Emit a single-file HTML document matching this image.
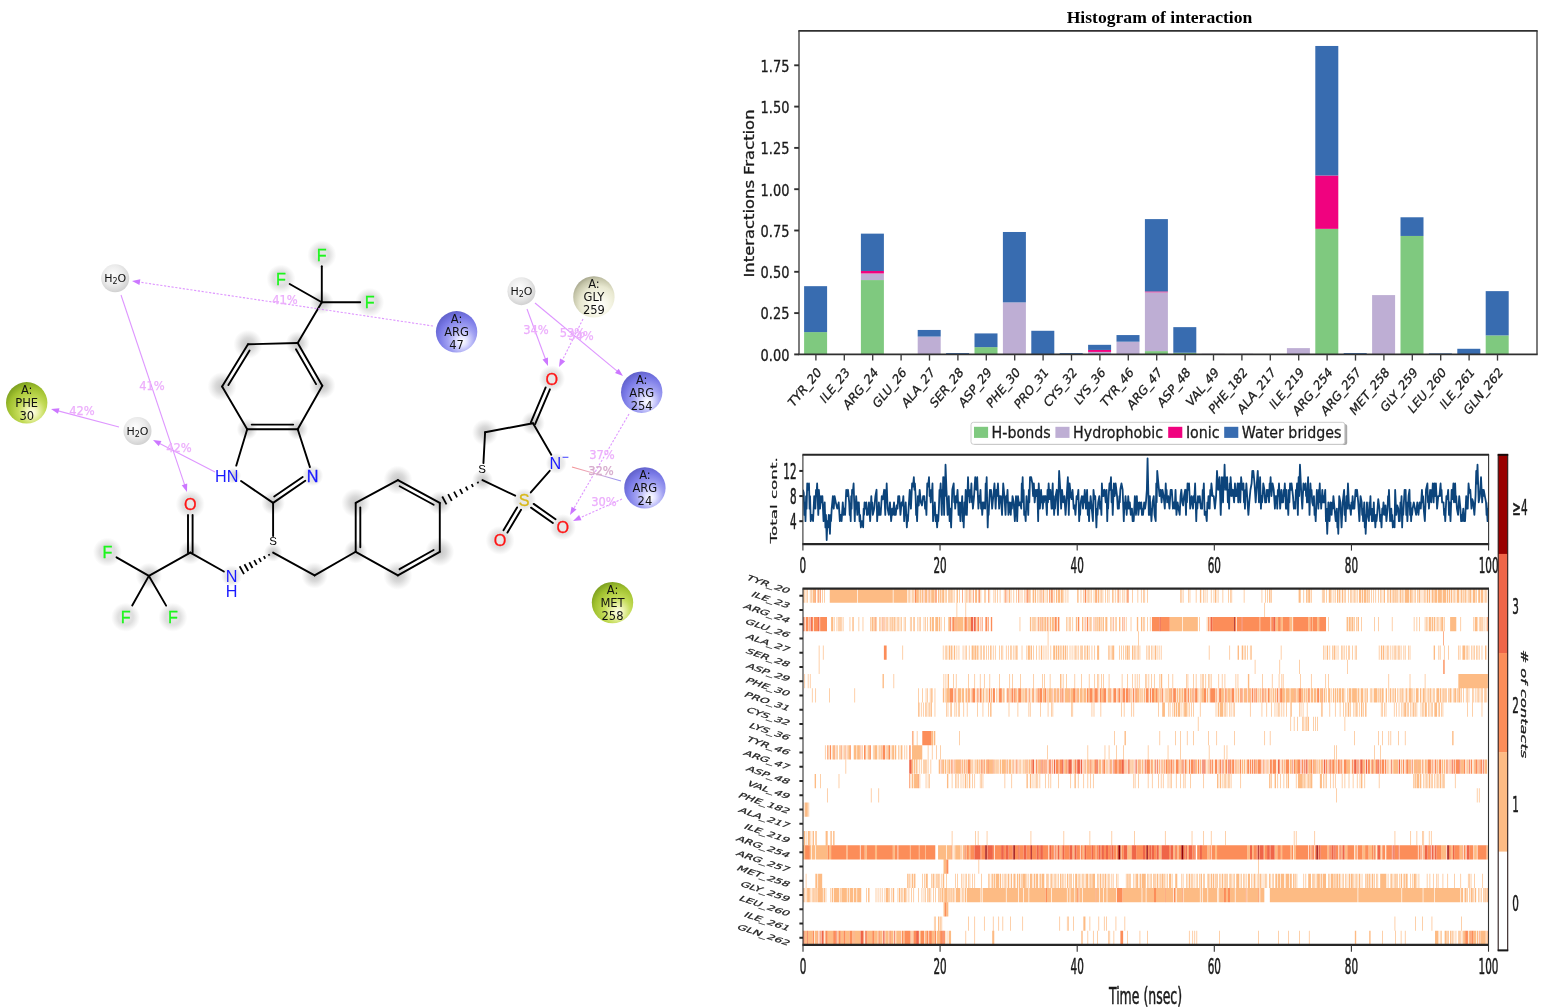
<!DOCTYPE html>
<html lang="en"><head><meta charset="utf-8"><title>Histogram of interaction</title>
<style>html,body{margin:0;padding:0;background:#fff}body{width:1545px;height:1007px}svg{display:block}.ns text{vector-effect:non-scaling-stroke}</style>
</head><body>
<svg width="1545" height="1007" viewBox="0 0 1545 1007">
<defs>
<radialGradient id="gB" cx="0.6" cy="0.66" r="0.72" fx="0.64" fy="0.74">
<stop offset="0" stop-color="#ffffff"/><stop offset="0.18" stop-color="#e0e0ff"/><stop offset="0.45" stop-color="#a2a2f2"/><stop offset="0.75" stop-color="#7878e6"/><stop offset="1" stop-color="#5c5cc4"/></radialGradient>
<radialGradient id="gG" cx="0.6" cy="0.66" r="0.72" fx="0.64" fy="0.74">
<stop offset="0" stop-color="#ffffec"/><stop offset="0.18" stop-color="#eef4b4"/><stop offset="0.45" stop-color="#c4dc58"/><stop offset="0.75" stop-color="#a2c230"/><stop offset="1" stop-color="#74981c"/></radialGradient>
<radialGradient id="gY" cx="0.6" cy="0.66" r="0.72" fx="0.64" fy="0.74">
<stop offset="0" stop-color="#ffffff"/><stop offset="0.3" stop-color="#f8f8ea"/><stop offset="0.62" stop-color="#e8e8d0"/><stop offset="0.85" stop-color="#c4c4a8"/><stop offset="1" stop-color="#9c9c84"/></radialGradient>
<radialGradient id="gW" cx="0.45" cy="0.42" r="0.72" fx="0.42" fy="0.36">
<stop offset="0" stop-color="#fdfdfd"/><stop offset="0.5" stop-color="#ebebeb"/><stop offset="0.85" stop-color="#cfcfcf"/><stop offset="1" stop-color="#ababab"/></radialGradient>
<radialGradient id="halo"><stop offset="0" stop-color="#6c6c6c" stop-opacity="0.4"/><stop offset="0.45" stop-color="#7c7c7c" stop-opacity="0.29"/><stop offset="1" stop-color="#909090" stop-opacity="0"/></radialGradient>
<radialGradient id="halo2"><stop offset="0" stop-color="#fff" stop-opacity="0.6"/><stop offset="0.5" stop-color="#fff" stop-opacity="0.45"/><stop offset="1" stop-color="#fff" stop-opacity="0"/></radialGradient>
<linearGradient id="salt" gradientUnits="userSpaceOnUse" x1="572" y1="467" x2="621" y2="481"><stop offset="0" stop-color="#f49090"/><stop offset="0.45" stop-color="#e6b0cc"/><stop offset="1" stop-color="#9090f4"/></linearGradient>
<filter id="blur1" x="-50%" y="-50%" width="200%" height="200%"><feGaussianBlur stdDeviation="1.2"/></filter>

</defs>
<rect width="1545" height="1007" fill="#fff"/>
<g id="mol">
<g>
<circle cx="248" cy="344.3" r="14.52" fill="url(#halo)"/>
<circle cx="297.7" cy="343" r="11.88" fill="url(#halo)"/>
<circle cx="322.3" cy="385.7" r="13.2" fill="url(#halo)"/>
<circle cx="297.7" cy="429.2" r="10.56" fill="url(#halo)"/>
<circle cx="247.2" cy="429.2" r="10.56" fill="url(#halo)"/>
<circle cx="222.1" cy="386.5" r="14.52" fill="url(#halo)"/>
<circle cx="321.8" cy="302.3" r="11.88" fill="url(#halo)"/>
<circle cx="321.8" cy="255" r="14.52" fill="url(#halo)"/>
<circle cx="281" cy="279" r="14.52" fill="url(#halo)"/>
<circle cx="369.7" cy="302.3" r="14.52" fill="url(#halo)"/>
<circle cx="312.7" cy="475.7" r="10.56" fill="url(#halo)"/>
<circle cx="233.2" cy="475.7" r="7.92" fill="url(#halo)"/>
<circle cx="273.1" cy="502.9" r="11.88" fill="url(#halo)"/>
<circle cx="273.1" cy="552.6" r="9.24" fill="url(#halo)"/>
<circle cx="231.7" cy="575.9" r="10.56" fill="url(#halo)"/>
<circle cx="190.3" cy="552.6" r="11.88" fill="url(#halo)"/>
<circle cx="190.3" cy="504.2" r="14.52" fill="url(#halo)"/>
<circle cx="148.9" cy="575.9" r="13.2" fill="url(#halo)"/>
<circle cx="107.4" cy="552.1" r="14.52" fill="url(#halo)"/>
<circle cx="125.6" cy="617.3" r="14.52" fill="url(#halo)"/>
<circle cx="172.9" cy="617.3" r="14.52" fill="url(#halo)"/>
<circle cx="314.6" cy="575.4" r="13.2" fill="url(#halo)"/>
<circle cx="355.7" cy="551.8" r="11.88" fill="url(#halo)"/>
<circle cx="355.7" cy="502.9" r="14.52" fill="url(#halo)"/>
<circle cx="397.9" cy="480.1" r="14.52" fill="url(#halo)"/>
<circle cx="439.8" cy="502.9" r="11.88" fill="url(#halo)"/>
<circle cx="439.8" cy="551.8" r="14.52" fill="url(#halo)"/>
<circle cx="397.9" cy="575.4" r="14.52" fill="url(#halo)"/>
<circle cx="482.5" cy="480.1" r="10.56" fill="url(#halo)"/>
<circle cx="485.1" cy="432.3" r="13.2" fill="url(#halo)"/>
<circle cx="533" cy="423.2" r="11.88" fill="url(#halo)"/>
<circle cx="556.3" cy="463.3" r="10.56" fill="url(#halo)"/>
<circle cx="524.2" cy="500" r="11.88" fill="url(#halo)"/>
<circle cx="551.9" cy="378.7" r="13.2" fill="url(#halo)"/>
<circle cx="500.1" cy="540.4" r="14.52" fill="url(#halo)"/>
<circle cx="562.8" cy="527.2" r="13.2" fill="url(#halo)"/>
<circle cx="227.2" cy="475.7" r="8" fill="url(#halo2)"/>
<circle cx="312.7" cy="475.7" r="8" fill="url(#halo2)"/>
<circle cx="321.8" cy="255" r="8" fill="url(#halo2)"/>
<circle cx="281" cy="279" r="8" fill="url(#halo2)"/>
<circle cx="369.7" cy="302.3" r="8" fill="url(#halo2)"/>
<circle cx="107.4" cy="552.1" r="8" fill="url(#halo2)"/>
<circle cx="125.6" cy="617.3" r="8" fill="url(#halo2)"/>
<circle cx="172.9" cy="617.3" r="8" fill="url(#halo2)"/>
<circle cx="190.3" cy="504.2" r="8" fill="url(#halo2)"/>
<circle cx="551.9" cy="378.7" r="8" fill="url(#halo2)"/>
<circle cx="500.1" cy="540.4" r="8" fill="url(#halo2)"/>
<circle cx="562.8" cy="527.2" r="8" fill="url(#halo2)"/>
<circle cx="231.7" cy="575.9" r="8" fill="url(#halo2)"/>
<circle cx="556.3" cy="463.3" r="8" fill="url(#halo2)"/>
<circle cx="524.2" cy="500" r="8" fill="url(#halo2)"/>
</g>
<g stroke="#000" stroke-width="1.9" stroke-linecap="round" fill="none">
<line x1="248" y1="344.3" x2="297.7" y2="343"/>
<line x1="297.7" y1="343" x2="322.3" y2="385.7"/>
<line x1="295.96" y1="349.2" x2="316.07" y2="384.1"/>
<line x1="322.3" y1="385.7" x2="297.7" y2="429.2"/>
<line x1="297.7" y1="429.2" x2="247.2" y2="429.2"/>
<line x1="293.2" y1="424.6" x2="251.7" y2="424.6"/>
<line x1="247.2" y1="429.2" x2="222.1" y2="386.5"/>
<line x1="222.1" y1="386.5" x2="248" y2="344.3"/>
<line x1="228.37" y1="385.07" x2="249.57" y2="350.54"/>
<line x1="247.2" y1="429.2" x2="236.23" y2="465.65"/>
<line x1="241.05" y1="481.05" x2="273.1" y2="502.9"/>
<line x1="273.1" y1="502.9" x2="305.28" y2="480.8"/>
<line x1="274.2" y1="496.56" x2="302.68" y2="477"/>
<line x1="309.94" y1="467.13" x2="297.7" y2="429.2"/>
<line x1="297.7" y1="343" x2="321.8" y2="302.3"/>
<line x1="321.8" y1="302.3" x2="321.8" y2="266.2"/>
<line x1="321.8" y1="302.3" x2="289.68" y2="283.96"/>
<line x1="321.8" y1="302.3" x2="360.2" y2="302.3"/>
<line x1="273.1" y1="502.9" x2="273.1" y2="536.1"/>
<line x1="269.53" y1="555.64" x2="268.64" y2="554.08" stroke-width="1.75" stroke-linecap="butt"/>
<line x1="265.28" y1="558.72" x2="263.8" y2="556.11" stroke-width="1.75" stroke-linecap="butt"/>
<line x1="261.02" y1="561.81" x2="258.96" y2="558.15" stroke-width="1.75" stroke-linecap="butt"/>
<line x1="256.77" y1="564.89" x2="254.13" y2="560.18" stroke-width="1.75" stroke-linecap="butt"/>
<line x1="252.52" y1="567.97" x2="249.29" y2="562.22" stroke-width="1.75" stroke-linecap="butt"/>
<line x1="248.27" y1="571.05" x2="244.45" y2="564.25" stroke-width="1.75" stroke-linecap="butt"/>
<line x1="244.02" y1="574.13" x2="239.61" y2="566.29" stroke-width="1.75" stroke-linecap="butt"/>
<line x1="223.86" y1="571.49" x2="190.3" y2="552.6"/>
<line x1="188" y1="552.6" x2="188" y2="515"/>
<line x1="192.6" y1="552.6" x2="192.6" y2="515"/>
<line x1="190.3" y1="552.6" x2="148.9" y2="575.9"/>
<line x1="148.9" y1="575.9" x2="116.51" y2="557.32"/>
<line x1="148.9" y1="575.9" x2="132.22" y2="605.54"/>
<line x1="148.9" y1="575.9" x2="166.13" y2="605.62"/>
<line x1="273.1" y1="552.6" x2="314.6" y2="575.4"/>
<line x1="314.6" y1="575.4" x2="355.7" y2="551.8"/>
<line x1="355.7" y1="551.8" x2="355.7" y2="502.9"/>
<line x1="360.3" y1="547.3" x2="360.3" y2="507.4"/>
<line x1="355.7" y1="502.9" x2="397.9" y2="480.1"/>
<line x1="397.9" y1="480.1" x2="439.8" y2="502.9"/>
<line x1="399.65" y1="486.29" x2="433.65" y2="504.79"/>
<line x1="439.8" y1="502.9" x2="439.8" y2="551.8"/>
<line x1="439.8" y1="551.8" x2="397.9" y2="575.4"/>
<line x1="433.62" y1="550" x2="399.56" y2="569.18"/>
<line x1="397.9" y1="575.4" x2="355.7" y2="551.8"/>
<line x1="478.36" y1="483.33" x2="477.51" y2="481.74" stroke-width="1.75" stroke-linecap="butt"/>
<line x1="473.05" y1="486.85" x2="471.64" y2="484.2" stroke-width="1.75" stroke-linecap="butt"/>
<line x1="467.74" y1="490.36" x2="465.76" y2="486.66" stroke-width="1.75" stroke-linecap="butt"/>
<line x1="462.42" y1="493.88" x2="459.88" y2="489.12" stroke-width="1.75" stroke-linecap="butt"/>
<line x1="457.11" y1="497.4" x2="454" y2="491.58" stroke-width="1.75" stroke-linecap="butt"/>
<line x1="451.8" y1="500.92" x2="448.12" y2="494.04" stroke-width="1.75" stroke-linecap="butt"/>
<line x1="446.48" y1="504.43" x2="442.24" y2="496.49" stroke-width="1.75" stroke-linecap="butt"/>
<line x1="483.42" y1="463.13" x2="485.1" y2="432.3"/>
<line x1="485.1" y1="432.3" x2="533" y2="423.2"/>
<line x1="533" y1="423.2" x2="551.28" y2="454.65"/>
<line x1="549.72" y1="470.83" x2="530.78" y2="492.47"/>
<line x1="515.17" y1="495.69" x2="482.5" y2="480.1"/>
<line x1="530.88" y1="422.3" x2="545.68" y2="387.47"/>
<line x1="535.12" y1="424.1" x2="549.91" y2="389.26"/>
<line x1="521.05" y1="509.77" x2="507.45" y2="532.56"/>
<line x1="517.1" y1="507.41" x2="503.5" y2="530.2"/>
<line x1="533.7" y1="503.88" x2="555.54" y2="519.27"/>
<line x1="531.05" y1="507.64" x2="552.89" y2="523.03"/>
</g>
<g font-family="'Liberation Sans',Arial,sans-serif" font-size="16.2" text-anchor="middle" stroke-width="0.3">
<text x="226.7" y="481.7" fill="#1a1aff">HN</text>
<text x="312.7" y="481.5" fill="#1a1aff" stroke="#1a1aff">N</text>
<text x="321.8" y="260.8" fill="#1cf51c" stroke="#1cf51c">F</text>
<text x="281" y="284.8" fill="#1cf51c" stroke="#1cf51c">F</text>
<text x="369.7" y="308.1" fill="#1cf51c" stroke="#1cf51c">F</text>
<text x="107.4" y="557.9" fill="#1cf51c" stroke="#1cf51c">F</text>
<text x="125.6" y="623.1" fill="#1cf51c" stroke="#1cf51c">F</text>
<text x="172.9" y="623.1" fill="#1cf51c" stroke="#1cf51c">F</text>
<text x="190.3" y="510" fill="#ff1414" stroke="#ff1414">O</text>
<text x="551.9" y="384.5" fill="#ff1414" stroke="#ff1414">O</text>
<text x="500.1" y="546.2" fill="#ff1414" stroke="#ff1414">O</text>
<text x="562.8" y="533" fill="#ff1414" stroke="#ff1414">O</text>
<text x="231.7" y="581.9" fill="#1a1aff">N</text>
<text x="231.7" y="596.9" fill="#1a1aff">H</text>
<text x="555.3" y="469.3" fill="#1a1aff">N</text>
<text x="565.3" y="461.3" fill="#1a1aff" font-size="12">−</text>
<text x="524.2" y="505.8" fill="#d8b818" stroke="#d8b818">S</text>
<text x="273.1" y="545.2" fill="#000" font-size="11.5" stroke="none">S</text>
<text x="482" y="473.2" fill="#000" font-size="11.5" stroke="none">S</text>
</g>
<g>
<line x1="433" y1="326" x2="138.33" y2="281.95" stroke="#de96ff" stroke-width="1.1" stroke-dasharray="2.2 1.6"/>
<polygon points="132,281 140.34,279.31 139.48,285.05" fill="#cc77ff"/>
<line x1="121" y1="295" x2="184.97" y2="485.93" stroke="#de96ff" stroke-width="1.1"/>
<polygon points="187,492 181.71,485.34 187.21,483.49" fill="#cc77ff"/>
<line x1="215" y1="472" x2="158.69" y2="442.94" stroke="#de96ff" stroke-width="1.1"/>
<polygon points="153,440 161.44,441.09 158.78,446.25" fill="#cc77ff"/>
<line x1="119" y1="427" x2="57.19" y2="410.64" stroke="#de96ff" stroke-width="1.1"/>
<polygon points="51,409 59.48,408.24 57.99,413.85" fill="#cc77ff"/>
<line x1="527" y1="309" x2="545.79" y2="359.99" stroke="#de96ff" stroke-width="1.1"/>
<polygon points="548,366 542.51,359.5 547.96,357.49" fill="#cc77ff"/>
<line x1="583" y1="319" x2="561.86" y2="361.28" stroke="#de96ff" stroke-width="1.1" stroke-dasharray="2.2 1.6"/>
<polygon points="559,367 559.98,358.55 565.17,361.14" fill="#cc77ff"/>
<line x1="535" y1="303" x2="618.07" y2="371.91" stroke="#de96ff" stroke-width="1.1"/>
<polygon points="623,376 614.99,373.12 618.69,368.66" fill="#cc77ff"/>
<line x1="629" y1="414" x2="573.23" y2="509.47" stroke="#de96ff" stroke-width="1.1" stroke-dasharray="2.2 1.6"/>
<polygon points="570,515 571.53,506.63 576.54,509.56" fill="#cc77ff"/>
<line x1="622" y1="499" x2="578.84" y2="518.38" stroke="#de96ff" stroke-width="1.1" stroke-dasharray="2.2 1.6"/>
<polygon points="573,521 579.11,515.08 581.49,520.37" fill="#cc77ff"/>
<line x1="572" y1="467" x2="621" y2="481" stroke="url(#salt)" stroke-width="1.1"/>
</g>
<g font-family="'DejaVu Sans',sans-serif" font-size="11.5" fill="#ecaefc" stroke="#ecaefc" stroke-width="0.25" text-anchor="middle">
<text x="285" y="304">41%</text>
<text x="152" y="390">41%</text>
<text x="179" y="452">42%</text>
<text x="82" y="415">42%</text>
<text x="536" y="334">34%</text>
<text x="572.5" y="337">53%</text>
<text x="581" y="340">34%</text>
<text x="602" y="459">37%</text>
<text x="601" y="475" fill="#d6aacc" stroke="#d6aacc">32%</text>
<text x="604" y="506">30%</text>
</g>
<g font-family="'DejaVu Sans',sans-serif" font-size="11.5" fill="#111" text-anchor="middle">
<circle cx="26.7" cy="402.8" r="20.7" fill="url(#gG)"/>
<text x="26.7" y="394.1">A:</text>
<text x="26.7" y="407.1">PHE</text>
<text x="26.7" y="420.1">30</text>
<circle cx="456.6" cy="331.8" r="20.7" fill="url(#gB)"/>
<text x="456.6" y="323.1">A:</text>
<text x="456.6" y="336.1">ARG</text>
<text x="456.6" y="349.1">47</text>
<circle cx="593.9" cy="296.9" r="20.7" fill="url(#gY)"/>
<text x="593.9" y="288.2">A:</text>
<text x="593.9" y="301.2">GLY</text>
<text x="593.9" y="314.2">259</text>
<circle cx="641.7" cy="392.2" r="20.7" fill="url(#gB)"/>
<text x="641.7" y="383.5">A:</text>
<text x="641.7" y="396.5">ARG</text>
<text x="641.7" y="409.5">254</text>
<circle cx="644.9" cy="487.9" r="20.7" fill="url(#gB)"/>
<text x="644.9" y="479.2">A:</text>
<text x="644.9" y="492.2">ARG</text>
<text x="644.9" y="505.2">24</text>
<circle cx="612.5" cy="602.6" r="20.7" fill="url(#gG)"/>
<text x="612.5" y="593.9">A:</text>
<text x="612.5" y="606.9">MET</text>
<text x="612.5" y="619.9">258</text>
<circle cx="115.2" cy="278.3" r="14" fill="url(#gW)"/>
<text x="115.2" y="282.3" font-size="11">H<tspan font-size="8" dy="2">2</tspan><tspan dy="-2">O</tspan></text>
<circle cx="137.5" cy="431" r="14" fill="url(#gW)"/>
<text x="137.5" y="435" font-size="11">H<tspan font-size="8" dy="2">2</tspan><tspan dy="-2">O</tspan></text>
<circle cx="521.4" cy="291.2" r="14" fill="url(#gW)"/>
<text x="521.4" y="295.2" font-size="11">H<tspan font-size="8" dy="2">2</tspan><tspan dy="-2">O</tspan></text>
</g>
</g>
<g id="bar">
<g shape-rendering="crispEdges">
<rect x="804.1" y="332.1" width="23" height="22.3" fill="#7fc97f" shape-rendering="auto"/>
<rect x="804.1" y="286.17" width="23" height="45.93" fill="#386cb0" shape-rendering="auto"/>
<rect x="860.9" y="280.06" width="23" height="74.34" fill="#7fc97f" shape-rendering="auto"/>
<rect x="860.9" y="273.45" width="23" height="6.61" fill="#beaed4" shape-rendering="auto"/>
<rect x="860.9" y="270.97" width="23" height="2.48" fill="#f0027f" shape-rendering="auto"/>
<rect x="860.9" y="233.64" width="23" height="37.34" fill="#386cb0" shape-rendering="auto"/>
<rect x="917.7" y="336.56" width="23" height="17.84" fill="#beaed4" shape-rendering="auto"/>
<rect x="917.7" y="329.95" width="23" height="6.61" fill="#386cb0" shape-rendering="auto"/>
<rect x="946.1" y="353.08" width="23" height="1.32" fill="#386cb0" shape-rendering="auto"/>
<rect x="974.5" y="347.13" width="23" height="7.27" fill="#7fc97f" shape-rendering="auto"/>
<rect x="974.5" y="333.42" width="23" height="13.71" fill="#386cb0" shape-rendering="auto"/>
<rect x="1002.9" y="302.36" width="23" height="52.04" fill="#beaed4" shape-rendering="auto"/>
<rect x="1002.9" y="231.99" width="23" height="70.38" fill="#386cb0" shape-rendering="auto"/>
<rect x="1031.3" y="330.78" width="23" height="23.62" fill="#386cb0" shape-rendering="auto"/>
<rect x="1059.7" y="353.08" width="23" height="1.32" fill="#386cb0" shape-rendering="auto"/>
<rect x="1088.1" y="351.92" width="23" height="2.48" fill="#beaed4" shape-rendering="auto"/>
<rect x="1088.1" y="349.94" width="23" height="1.98" fill="#f0027f" shape-rendering="auto"/>
<rect x="1088.1" y="344.82" width="23" height="5.12" fill="#386cb0" shape-rendering="auto"/>
<rect x="1116.5" y="341.68" width="23" height="12.72" fill="#beaed4" shape-rendering="auto"/>
<rect x="1116.5" y="335.07" width="23" height="6.61" fill="#386cb0" shape-rendering="auto"/>
<rect x="1144.9" y="351.1" width="23" height="3.3" fill="#7fc97f" shape-rendering="auto"/>
<rect x="1144.9" y="292.28" width="23" height="58.81" fill="#beaed4" shape-rendering="auto"/>
<rect x="1144.9" y="291.46" width="23" height="0.83" fill="#f0027f" shape-rendering="auto"/>
<rect x="1144.9" y="219.1" width="23" height="72.36" fill="#386cb0" shape-rendering="auto"/>
<rect x="1173.3" y="352.75" width="23" height="1.65" fill="#7fc97f" shape-rendering="auto"/>
<rect x="1173.3" y="327.14" width="23" height="25.61" fill="#386cb0" shape-rendering="auto"/>
<rect x="1201.7" y="353.74" width="23" height="0.66" fill="#beaed4" shape-rendering="auto"/>
<rect x="1230.1" y="353.74" width="23" height="0.66" fill="#beaed4" shape-rendering="auto"/>
<rect x="1286.9" y="348.12" width="23" height="6.28" fill="#beaed4" shape-rendering="auto"/>
<rect x="1315.3" y="228.85" width="23" height="125.55" fill="#7fc97f" shape-rendering="auto"/>
<rect x="1315.3" y="175.49" width="23" height="53.36" fill="#f0027f" shape-rendering="auto"/>
<rect x="1315.3" y="45.97" width="23" height="129.52" fill="#386cb0" shape-rendering="auto"/>
<rect x="1343.7" y="353.08" width="23" height="1.32" fill="#386cb0" shape-rendering="auto"/>
<rect x="1372.1" y="295.09" width="23" height="59.31" fill="#beaed4" shape-rendering="auto"/>
<rect x="1400.5" y="235.95" width="23" height="118.45" fill="#7fc97f" shape-rendering="auto"/>
<rect x="1400.5" y="217.28" width="23" height="18.67" fill="#386cb0" shape-rendering="auto"/>
<rect x="1428.9" y="353.41" width="23" height="0.99" fill="#386cb0" shape-rendering="auto"/>
<rect x="1457.3" y="348.78" width="23" height="5.62" fill="#386cb0" shape-rendering="auto"/>
<rect x="1485.7" y="335.4" width="23" height="19" fill="#7fc97f" shape-rendering="auto"/>
<rect x="1485.7" y="291.13" width="23" height="44.27" fill="#386cb0" shape-rendering="auto"/>
</g>
<g stroke="#303030" fill="none">
<line x1="798.3" y1="30.9" x2="1537.7" y2="30.9" stroke-width="1.9"/>
<line x1="798.3" y1="354.4" x2="1537.7" y2="354.4" stroke-width="1.9"/>
<line x1="799" y1="30.9" x2="799" y2="354.4" stroke-width="1.35" stroke="#3c3c3c"/>
<line x1="1537" y1="30.9" x2="1537" y2="354.4" stroke-width="1.35" stroke="#3c3c3c"/>
<line x1="794.2" y1="354.4" x2="799" y2="354.4" stroke-width="1.9"/>
<line x1="794.2" y1="313.1" x2="799" y2="313.1" stroke-width="1.9"/>
<line x1="794.2" y1="271.8" x2="799" y2="271.8" stroke-width="1.9"/>
<line x1="794.2" y1="230.5" x2="799" y2="230.5" stroke-width="1.9"/>
<line x1="794.2" y1="189.2" x2="799" y2="189.2" stroke-width="1.9"/>
<line x1="794.2" y1="147.9" x2="799" y2="147.9" stroke-width="1.9"/>
<line x1="794.2" y1="106.6" x2="799" y2="106.6" stroke-width="1.9"/>
<line x1="794.2" y1="65.3" x2="799" y2="65.3" stroke-width="1.9"/>
<line x1="815.9" y1="354.4" x2="815.9" y2="360.6" stroke-width="1.35" stroke="#3c3c3c"/>
<line x1="844.3" y1="354.4" x2="844.3" y2="360.6" stroke-width="1.35" stroke="#3c3c3c"/>
<line x1="872.7" y1="354.4" x2="872.7" y2="360.6" stroke-width="1.35" stroke="#3c3c3c"/>
<line x1="901.1" y1="354.4" x2="901.1" y2="360.6" stroke-width="1.35" stroke="#3c3c3c"/>
<line x1="929.5" y1="354.4" x2="929.5" y2="360.6" stroke-width="1.35" stroke="#3c3c3c"/>
<line x1="957.9" y1="354.4" x2="957.9" y2="360.6" stroke-width="1.35" stroke="#3c3c3c"/>
<line x1="986.3" y1="354.4" x2="986.3" y2="360.6" stroke-width="1.35" stroke="#3c3c3c"/>
<line x1="1014.7" y1="354.4" x2="1014.7" y2="360.6" stroke-width="1.35" stroke="#3c3c3c"/>
<line x1="1043.1" y1="354.4" x2="1043.1" y2="360.6" stroke-width="1.35" stroke="#3c3c3c"/>
<line x1="1071.5" y1="354.4" x2="1071.5" y2="360.6" stroke-width="1.35" stroke="#3c3c3c"/>
<line x1="1099.9" y1="354.4" x2="1099.9" y2="360.6" stroke-width="1.35" stroke="#3c3c3c"/>
<line x1="1128.3" y1="354.4" x2="1128.3" y2="360.6" stroke-width="1.35" stroke="#3c3c3c"/>
<line x1="1156.7" y1="354.4" x2="1156.7" y2="360.6" stroke-width="1.35" stroke="#3c3c3c"/>
<line x1="1185.1" y1="354.4" x2="1185.1" y2="360.6" stroke-width="1.35" stroke="#3c3c3c"/>
<line x1="1213.5" y1="354.4" x2="1213.5" y2="360.6" stroke-width="1.35" stroke="#3c3c3c"/>
<line x1="1241.9" y1="354.4" x2="1241.9" y2="360.6" stroke-width="1.35" stroke="#3c3c3c"/>
<line x1="1270.3" y1="354.4" x2="1270.3" y2="360.6" stroke-width="1.35" stroke="#3c3c3c"/>
<line x1="1298.7" y1="354.4" x2="1298.7" y2="360.6" stroke-width="1.35" stroke="#3c3c3c"/>
<line x1="1327.1" y1="354.4" x2="1327.1" y2="360.6" stroke-width="1.35" stroke="#3c3c3c"/>
<line x1="1355.5" y1="354.4" x2="1355.5" y2="360.6" stroke-width="1.35" stroke="#3c3c3c"/>
<line x1="1383.9" y1="354.4" x2="1383.9" y2="360.6" stroke-width="1.35" stroke="#3c3c3c"/>
<line x1="1412.3" y1="354.4" x2="1412.3" y2="360.6" stroke-width="1.35" stroke="#3c3c3c"/>
<line x1="1440.7" y1="354.4" x2="1440.7" y2="360.6" stroke-width="1.35" stroke="#3c3c3c"/>
<line x1="1469.1" y1="354.4" x2="1469.1" y2="360.6" stroke-width="1.35" stroke="#3c3c3c"/>
<line x1="1497.5" y1="354.4" x2="1497.5" y2="360.6" stroke-width="1.35" stroke="#3c3c3c"/>
</g>
<g font-family="'DejaVu Sans',sans-serif" font-size="16.2" fill="#1a1a1a" stroke="#1a1a1a" stroke-width="0.3" class="ns">
<text transform="translate(789.4,360.7) scale(0.8,1)" text-anchor="end">0.00</text>
<text transform="translate(789.4,319.4) scale(0.8,1)" text-anchor="end">0.25</text>
<text transform="translate(789.4,278.1) scale(0.8,1)" text-anchor="end">0.50</text>
<text transform="translate(789.4,236.8) scale(0.8,1)" text-anchor="end">0.75</text>
<text transform="translate(789.4,195.5) scale(0.8,1)" text-anchor="end">1.00</text>
<text transform="translate(789.4,154.2) scale(0.8,1)" text-anchor="end">1.25</text>
<text transform="translate(789.4,112.9) scale(0.8,1)" text-anchor="end">1.50</text>
<text transform="translate(789.4,71.6) scale(0.8,1)" text-anchor="end">1.75</text>
<text transform="translate(821.9,373.1) scale(0.82,1) rotate(-45)" text-anchor="end" font-size="13.5" stroke="#1a1a1a" stroke-width="0.3">TYR_20</text>
<text transform="translate(850.3,373.1) scale(0.82,1) rotate(-45)" text-anchor="end" font-size="13.5" stroke="#1a1a1a" stroke-width="0.3">ILE_23</text>
<text transform="translate(878.7,373.1) scale(0.82,1) rotate(-45)" text-anchor="end" font-size="13.5" stroke="#1a1a1a" stroke-width="0.3">ARG_24</text>
<text transform="translate(907.1,373.1) scale(0.82,1) rotate(-45)" text-anchor="end" font-size="13.5" stroke="#1a1a1a" stroke-width="0.3">GLU_26</text>
<text transform="translate(935.5,373.1) scale(0.82,1) rotate(-45)" text-anchor="end" font-size="13.5" stroke="#1a1a1a" stroke-width="0.3">ALA_27</text>
<text transform="translate(963.9,373.1) scale(0.82,1) rotate(-45)" text-anchor="end" font-size="13.5" stroke="#1a1a1a" stroke-width="0.3">SER_28</text>
<text transform="translate(992.3,373.1) scale(0.82,1) rotate(-45)" text-anchor="end" font-size="13.5" stroke="#1a1a1a" stroke-width="0.3">ASP_29</text>
<text transform="translate(1020.7,373.1) scale(0.82,1) rotate(-45)" text-anchor="end" font-size="13.5" stroke="#1a1a1a" stroke-width="0.3">PHE_30</text>
<text transform="translate(1049.1,373.1) scale(0.82,1) rotate(-45)" text-anchor="end" font-size="13.5" stroke="#1a1a1a" stroke-width="0.3">PRO_31</text>
<text transform="translate(1077.5,373.1) scale(0.82,1) rotate(-45)" text-anchor="end" font-size="13.5" stroke="#1a1a1a" stroke-width="0.3">CYS_32</text>
<text transform="translate(1105.9,373.1) scale(0.82,1) rotate(-45)" text-anchor="end" font-size="13.5" stroke="#1a1a1a" stroke-width="0.3">LYS_36</text>
<text transform="translate(1134.3,373.1) scale(0.82,1) rotate(-45)" text-anchor="end" font-size="13.5" stroke="#1a1a1a" stroke-width="0.3">TYR_46</text>
<text transform="translate(1162.7,373.1) scale(0.82,1) rotate(-45)" text-anchor="end" font-size="13.5" stroke="#1a1a1a" stroke-width="0.3">ARG_47</text>
<text transform="translate(1191.1,373.1) scale(0.82,1) rotate(-45)" text-anchor="end" font-size="13.5" stroke="#1a1a1a" stroke-width="0.3">ASP_48</text>
<text transform="translate(1219.5,373.1) scale(0.82,1) rotate(-45)" text-anchor="end" font-size="13.5" stroke="#1a1a1a" stroke-width="0.3">VAL_49</text>
<text transform="translate(1247.9,373.1) scale(0.82,1) rotate(-45)" text-anchor="end" font-size="13.5" stroke="#1a1a1a" stroke-width="0.3">PHE_182</text>
<text transform="translate(1276.3,373.1) scale(0.82,1) rotate(-45)" text-anchor="end" font-size="13.5" stroke="#1a1a1a" stroke-width="0.3">ALA_217</text>
<text transform="translate(1304.7,373.1) scale(0.82,1) rotate(-45)" text-anchor="end" font-size="13.5" stroke="#1a1a1a" stroke-width="0.3">ILE_219</text>
<text transform="translate(1333.1,373.1) scale(0.82,1) rotate(-45)" text-anchor="end" font-size="13.5" stroke="#1a1a1a" stroke-width="0.3">ARG_254</text>
<text transform="translate(1361.5,373.1) scale(0.82,1) rotate(-45)" text-anchor="end" font-size="13.5" stroke="#1a1a1a" stroke-width="0.3">ARG_257</text>
<text transform="translate(1389.9,373.1) scale(0.82,1) rotate(-45)" text-anchor="end" font-size="13.5" stroke="#1a1a1a" stroke-width="0.3">MET_258</text>
<text transform="translate(1418.3,373.1) scale(0.82,1) rotate(-45)" text-anchor="end" font-size="13.5" stroke="#1a1a1a" stroke-width="0.3">GLY_259</text>
<text transform="translate(1446.7,373.1) scale(0.82,1) rotate(-45)" text-anchor="end" font-size="13.5" stroke="#1a1a1a" stroke-width="0.3">LEU_260</text>
<text transform="translate(1475.1,373.1) scale(0.82,1) rotate(-45)" text-anchor="end" font-size="13.5" stroke="#1a1a1a" stroke-width="0.3">ILE_261</text>
<text transform="translate(1503.5,373.1) scale(0.82,1) rotate(-45)" text-anchor="end" font-size="13.5" stroke="#1a1a1a" stroke-width="0.3">GLN_262</text>
<text transform="translate(754,193.5) scale(0.85,1) rotate(-90)" text-anchor="middle" font-size="16.4">Interactions Fraction</text>
</g>
<text x="1159.5" y="23" font-family="'Liberation Serif','Times New Roman',serif" font-weight="bold" font-size="17.6" text-anchor="middle" fill="#000">Histogram of interaction</text>
<rect x="973.4" y="423.9" width="373.8" height="21.1" rx="2.5" fill="#a8a8a8"/>
<rect x="971" y="422.3" width="373.8" height="22" rx="2.5" fill="#fff" stroke="#ccc" stroke-width="1"/>
<g font-family="'DejaVu Sans',sans-serif" font-size="16" fill="#1a1a1a" stroke="#1a1a1a" stroke-width="0.3">
<rect x="974" y="426.8" width="14.1" height="11.1" fill="#7fc97f" stroke="none"/>
<text transform="translate(991.6,437.9) scale(0.89,1)">H-bonds</text>
<rect x="1055.4" y="426.8" width="14.1" height="11.1" fill="#beaed4" stroke="none"/>
<text transform="translate(1073.1,437.9) scale(0.89,1)">Hydrophobic</text>
<rect x="1168.2" y="426.8" width="14.1" height="11.1" fill="#f0027f" stroke="none"/>
<text transform="translate(1185.9,437.9) scale(0.89,1)">Ionic</text>
<rect x="1224.2" y="426.8" width="14.1" height="11.1" fill="#386cb0" stroke="none"/>
<text transform="translate(1241.8,437.9) scale(0.89,1)">Water bridges</text>
</g>
</g>
<g id="line">
<clipPath id="cl"><rect x="802.9" y="454.8" width="685.7" height="89.3"/></clipPath>
<polyline clip-path="url(#cl)" points="802.92,489.78 803.74,492.92 804.37,514.9 804.82,502.34 805.49,521.18 806.11,496.06 806.57,508.62 807.23,483.5 808.11,489.78 808.98,483.5 809.61,508.62 810.06,496.06 810.73,521.18 811.89,514.9 813.06,521.18 814.22,496.06 815.39,508.62 816.02,489.78 816.47,496.06 817.14,483.5 818.3,514.9 818.88,489.78 820.05,508.62 820.98,496.06 821.56,502.34 822.38,496.06 823.54,521.18 824.71,502.34 825.42,527.46 825.94,514.9 826.69,540.02 827.45,521.18 827.99,527.46 828.79,514.9 829.95,533.74 830.58,514.9 831.04,521.18 831.7,508.62 832.87,496.06 833.74,508.62 834.61,496.06 835.78,502.34 837.23,508.62 838.69,502.34 839.86,521.18 840.73,514.9 841.6,521.18 842.77,502.34 843.7,514.9 844.28,508.62 845.1,514.9 846.26,489.78 847.14,496.06 848.01,489.78 849.18,502.34 849.72,514.9 850.12,508.62 850.69,521.18 851.19,496.06 851.56,508.62 852.09,489.78 852.85,492.92 853.6,483.5 854.77,521.18 855.27,502.34 855.64,508.62 856.17,496.06 857.33,514.9 857.94,502.34 858.32,508.62 858.85,502.34 859.56,521.18 860.08,514.9 860.83,527.46 861.99,521.18 863.16,527.46 863.66,508.62 864.02,514.9 864.56,502.34 865.43,508.62 866.3,502.34 866.91,514.9 867.29,508.62 867.82,514.9 868.98,502.34 870.15,521.18 871.31,496.06 871.86,508.62 872.25,502.34 872.83,514.9 874.23,508.62 875.39,496.06 876.56,489.78 877.14,521.18 877.77,508.62 878.22,514.9 878.89,502.34 879.59,514.9 880.02,508.62 880.63,514.9 881.8,496.06 882.96,499.2 884.13,489.78 885.29,514.9 885.8,489.78 886.16,502.34 886.69,483.5 887.62,508.62 888.79,514.9 889.96,502.34 891.12,521.18 892.17,508.62 892.93,514.9 894.03,502.34 894.73,514.9 895.17,508.62 895.78,514.9 896.65,505.48 897.53,508.62 898.23,496.06 898.66,502.34 899.28,496.06 900.44,514.9 901.61,502.34 902.48,505.48 903.35,496.06 904.17,521.18 904.71,508.62 905.11,514.9 905.68,502.34 906.85,527.46 907.48,514.9 907.93,521.18 908.6,508.62 909.76,489.78 910.93,508.62 912.09,483.5 912.97,486.64 913.84,477.22 914.47,489.78 914.92,483.5 915.59,496.06 916.13,514.9 916.53,508.62 917.1,521.18 917.92,496.06 918.79,505.48 919.67,489.78 920.83,502.34 922,505.48 923.16,496.06 924.33,496.06 925.08,508.62 925.63,502.34 926.42,514.9 927.24,483.5 928.11,486.64 928.99,477.22 929.61,496.06 930.07,489.78 930.73,502.34 931.36,489.78 931.82,496.06 932.48,483.5 933.06,521.18 933.69,508.62 934.15,514.9 934.81,502.34 935.65,521.18 936.26,514.9 937.14,527.46 937.77,514.9 938.22,521.18 938.89,508.62 939.52,489.78 939.97,496.06 940.64,483.5 941.8,514.9 942.31,489.78 942.67,502.34 943.2,477.22 944.13,514.9 944.64,477.22 945,496.06 945.53,464.66 946.46,489.78 947.63,514.9 948.79,496.06 949.63,521.18 950.24,508.62 951.12,527.46 952.29,489.78 953.69,483.5 954.23,502.34 954.62,496.06 955.2,508.62 956.04,496.06 956.65,502.34 957.53,489.78 958.58,514.9 959.34,502.34 960.44,521.18 961.07,502.34 961.53,508.62 962.19,496.06 962.74,521.18 963.13,508.62 963.71,527.46 964.42,502.34 964.93,514.9 965.69,489.78 966.85,514.9 968.02,477.22 968.65,496.06 969.1,489.78 969.76,502.34 970.35,489.78 970.78,496.06 971.4,483.5 971.94,502.34 972.34,496.06 972.91,508.62 974.08,496.06 975.24,477.22 976.23,489.78 977.22,477.22 978.39,508.62 979.14,496.06 979.69,502.34 980.49,489.78 981.11,508.62 981.57,502.34 982.23,514.9 982.93,502.34 983.37,508.62 983.98,502.34 985.15,508.62 985.69,483.5 986.09,496.06 986.66,477.22 987.71,527.46 988.25,508.62 988.65,514.9 989.22,502.34 989.92,489.78 990.36,496.06 990.97,489.78 992.14,508.62 993.3,496.06 994.47,483.5 995.63,508.62 996.47,489.78 997.08,496.06 997.96,483.5 999.13,508.62 999.83,496.06 1000.26,502.34 1000.87,496.06 1002.04,514.9 1003.21,483.5 1004.37,496.06 1005.54,514.9 1006.25,496.06 1006.76,502.34 1007.52,489.78 1008.45,514.9 1009.61,502.34 1010.78,514.9 1011.41,502.34 1011.86,508.62 1012.53,496.06 1013.69,502.34 1014.86,521.18 1016.02,496.06 1017.19,521.18 1018,496.06 1019.05,505.48 1020.1,502.34 1021.26,508.62 1021.77,483.5 1022.13,496.06 1022.66,477.22 1023.21,502.34 1023.6,489.78 1024.18,514.9 1024.93,511.76 1025.69,521.18 1026.51,496.06 1027.14,508.62 1027.59,502.34 1028.25,514.9 1028.88,489.78 1029.34,502.34 1030,477.22 1031.17,477.22 1032.33,483.5 1033.09,496.06 1033.85,483.5 1034.66,502.34 1035.83,489.78 1036.59,496.06 1037.34,489.78 1038.16,521.18 1038.74,483.5 1039.91,508.62 1041.07,489.78 1041.7,502.34 1042.15,496.06 1042.82,508.62 1043.52,496.06 1043.95,502.34 1044.57,496.06 1045.73,496.06 1046.9,514.9 1047.53,489.78 1047.98,502.34 1048.64,483.5 1049.52,499.2 1050.39,489.78 1051.56,508.62 1052.72,483.5 1053.22,508.62 1053.59,496.06 1054.12,514.9 1054.67,502.34 1055.06,508.62 1055.63,496.06 1056.8,489.78 1057.96,514.9 1059.13,470.94 1060.29,489.78 1061.11,508.62 1062.04,489.78 1063.21,502.34 1064.37,496.06 1065.54,514.9 1066.7,496.06 1067.87,477.22 1068.8,514.9 1069.62,483.5 1070.78,496.06 1071.65,499.2 1072.53,489.78 1073.69,508.62 1074.57,505.48 1075.44,514.9 1076.61,496.06 1077.48,499.2 1078.35,489.78 1079.17,521.18 1079.71,508.62 1080.11,514.9 1080.68,502.34 1081.85,496.06 1083.01,508.62 1083.64,496.06 1084.1,502.34 1084.76,489.78 1085.93,508.62 1087.09,489.78 1087.8,514.9 1088.32,502.34 1089.07,521.18 1089.62,502.34 1090.01,508.62 1090.59,496.06 1091.75,508.62 1092.92,521.18 1093.5,489.78 1094.37,499.2 1095.25,496.06 1096.41,527.46 1097.04,508.62 1097.5,514.9 1098.16,502.34 1099.33,496.06 1100.08,508.62 1100.63,502.34 1101.42,514.9 1101.89,483.5 1102.49,496.06 1102.87,489.78 1103.4,496.06 1104.57,489.78 1105.73,502.34 1106.55,489.78 1107.25,521.18 1107.75,502.34 1108.11,508.62 1108.65,496.06 1109.49,483.5 1110.09,489.78 1110.98,477.22 1111.61,502.34 1112.06,489.78 1112.72,514.9 1113.89,483.5 1114.76,496.06 1115.64,483.5 1117.03,496.06 1117.78,508.62 1118.25,502.34 1118.9,508.62 1119.4,496.06 1119.77,502.34 1120.3,489.78 1121.46,483.5 1122.63,489.78 1123.79,521.18 1124.42,502.34 1124.88,508.62 1125.54,496.06 1126.71,514.9 1127.25,502.34 1127.64,508.62 1128.22,496.06 1129.14,508.62 1129.81,502.34 1130.78,514.9 1131.95,508.62 1132.65,521.18 1133.08,514.9 1133.7,521.18 1134.86,496.06 1136.03,514.9 1136.84,496.06 1137.39,508.62 1137.78,502.34 1138.36,514.9 1139.52,502.34 1140.39,508.62 1141.27,502.34 1141.97,514.9 1142.4,508.62 1143.02,514.9 1144.18,502.34 1145.06,508.62 1145.93,502.34 1146.86,489.78 1147.56,458.38 1148.84,514.9 1149.89,496.06 1150.44,514.9 1150.83,508.62 1151.41,521.18 1152.57,502.34 1153.74,496.06 1154.55,514.9 1155.72,521.18 1156.26,483.5 1156.66,502.34 1157.23,470.94 1158.4,483.5 1159.56,496.06 1160.73,489.78 1161.6,502.34 1162.48,489.78 1163.64,496.06 1164.81,508.62 1165.74,483.5 1166.24,496.06 1166.61,489.78 1167.14,502.34 1168.3,496.06 1169.47,508.62 1170.63,489.78 1171.8,489.78 1172.96,508.62 1173.84,502.34 1174.71,508.62 1175.53,489.78 1176.46,514.9 1177.62,502.34 1178.55,508.62 1179.72,514.9 1180.54,496.06 1181.35,489.78 1182.28,502.34 1183.16,505.48 1184.03,496.06 1185.2,489.78 1186.01,514.9 1186.56,489.78 1186.95,502.34 1187.53,483.5 1188.28,489.78 1189.04,483.5 1190.21,508.62 1191.6,496.06 1193,508.62 1193.61,496.06 1193.99,502.34 1194.52,496.06 1195.1,483.5 1196.26,521.18 1196.89,502.34 1197.35,508.62 1198.01,496.06 1198.89,502.34 1199.76,496.06 1200.92,508.62 1202.09,508.62 1202.72,489.78 1203.17,496.06 1203.84,483.5 1204.65,514.9 1205.7,511.76 1206.75,521.18 1207.38,502.34 1207.83,508.62 1208.5,496.06 1209.66,508.62 1210.29,489.78 1210.75,496.06 1211.41,483.5 1212.58,496.06 1213.74,496.06 1214.91,508.62 1216.07,496.06 1217,470.94 1218.17,489.78 1219.57,477.22 1220.73,514.9 1221.9,477.22 1223.06,502.34 1223.61,477.22 1224,489.78 1224.58,464.66 1225.08,483.5 1225.44,477.22 1225.97,489.78 1227.14,477.22 1227.85,502.34 1228.37,489.78 1229.12,508.62 1229.67,483.5 1230.06,496.06 1230.63,477.22 1231.8,496.06 1232.96,489.78 1234.13,502.34 1234.95,483.5 1235.55,496.06 1235.93,489.78 1236.46,496.06 1237.62,483.5 1238.21,502.34 1239.14,483.5 1240.3,502.34 1241.12,477.22 1242.29,489.78 1243.45,483.5 1244,502.34 1244.39,496.06 1244.97,508.62 1245.47,489.78 1245.83,496.06 1246.36,483.5 1247.53,502.34 1248.4,514.9 1249.28,502.34 1250.44,489.78 1251.61,483.5 1252.31,470.94 1252.74,477.22 1253.35,470.94 1254.52,483.5 1255.68,502.34 1256.85,483.5 1257.78,470.94 1258.95,502.34 1260.11,477.22 1260.93,508.62 1261.63,496.06 1262.06,502.34 1262.67,496.06 1263.26,483.5 1264.42,489.78 1265.12,502.34 1265.56,496.06 1266.17,502.34 1266.87,489.78 1267.31,496.06 1267.92,489.78 1269.08,502.34 1269.63,483.5 1270.02,489.78 1270.6,477.22 1271.41,496.06 1272.58,483.5 1273.74,489.78 1274.91,508.62 1275.61,496.06 1276.04,502.34 1276.66,496.06 1277.24,508.62 1277.87,489.78 1278.32,496.06 1278.99,483.5 1280.15,508.62 1281.32,489.78 1282.02,502.34 1282.45,496.06 1283.06,502.34 1283.69,489.78 1284.15,496.06 1284.81,483.5 1285.98,508.62 1286.56,489.78 1287.19,508.62 1287.64,502.34 1288.31,514.9 1288.94,489.78 1289.39,502.34 1290.05,483.5 1290.81,489.78 1291.57,483.5 1292.97,496.06 1293.9,508.62 1294.48,502.34 1295.3,508.62 1295.93,489.78 1296.38,496.06 1297.04,483.5 1297.86,514.9 1298.62,477.22 1299.16,496.06 1299.96,464.66 1301.12,489.78 1302.29,508.62 1303.45,483.5 1304.5,489.78 1305.55,483.5 1306.05,496.06 1306.42,489.78 1306.95,502.34 1308.11,477.22 1308.62,502.34 1308.98,489.78 1309.51,514.9 1310.44,483.5 1311.07,496.06 1311.53,489.78 1312.19,502.34 1313.06,505.48 1313.94,496.06 1314.57,514.9 1315.02,508.62 1315.69,521.18 1316.85,489.78 1317.4,502.34 1317.79,496.06 1318.37,508.62 1318.87,489.78 1319.23,496.06 1319.76,483.5 1320.27,502.34 1320.63,496.06 1321.17,508.62 1322.33,489.78 1323.03,502.34 1323.47,496.06 1324.08,502.34 1325.24,489.78 1325.96,521.18 1326.47,508.62 1327.22,533.74 1328.39,502.34 1329.55,521.18 1330.49,502.34 1331.65,514.9 1332.28,502.34 1332.73,508.62 1333.4,496.06 1334.56,508.62 1335.73,521.18 1336.89,508.62 1337.4,527.46 1337.76,521.18 1338.29,533.74 1339.22,496.06 1340.39,502.34 1341.55,527.46 1342.72,502.34 1344.12,489.78 1344.66,514.9 1345.06,502.34 1345.63,521.18 1346.47,496.06 1347.08,508.62 1347.96,483.5 1349.13,508.62 1350,505.48 1350.87,514.9 1351.5,502.34 1351.96,508.62 1352.62,496.06 1353.32,508.62 1353.76,502.34 1354.37,508.62 1355.54,489.78 1356.29,496.06 1357.05,489.78 1358.22,502.34 1359.38,521.18 1360.55,496.06 1361.71,502.34 1362.21,514.9 1362.58,508.62 1363.11,521.18 1364.27,502.34 1364.78,527.46 1365.14,514.9 1365.67,533.74 1366.95,502.34 1367.77,514.9 1368.93,521.18 1369.48,502.34 1369.87,508.62 1370.45,496.06 1370.95,514.9 1371.32,508.62 1371.85,521.18 1372.43,521.18 1372.93,508.62 1373.3,514.9 1373.83,502.34 1374.37,521.18 1374.77,514.9 1375.34,527.46 1376.04,514.9 1376.48,521.18 1377.09,514.9 1378.25,499.2 1379.42,508.62 1380.17,521.18 1380.72,514.9 1381.52,527.46 1382.23,508.62 1382.74,514.9 1383.5,502.34 1384.66,514.9 1385.54,505.48 1386.41,521.18 1387.58,508.62 1388.08,496.06 1388.44,502.34 1388.97,489.78 1390.14,521.18 1391.3,508.62 1391.85,521.18 1392.24,514.9 1392.82,527.46 1393.69,521.18 1394.57,527.46 1395.15,489.78 1396.31,514.9 1397.3,505.48 1398.29,508.62 1398.9,521.18 1399.28,514.9 1399.81,521.18 1400.44,502.34 1400.89,508.62 1401.56,496.06 1402.14,527.46 1402.77,508.62 1403.22,514.9 1403.89,502.34 1404.59,489.78 1405.02,496.06 1405.63,489.78 1406.26,514.9 1406.72,502.34 1407.38,521.18 1408.55,496.06 1409.48,489.78 1410.07,514.9 1410.49,502.34 1411.11,521.18 1411.72,508.62 1412.09,514.9 1412.62,508.62 1413.79,502.34 1414.96,508.62 1416.12,514.9 1417.29,502.34 1418.45,514.9 1419.62,502.34 1420.78,508.62 1421.95,489.78 1422.57,502.34 1423.03,496.06 1423.69,508.62 1424.86,521.18 1426.02,489.78 1427.42,483.5 1427.97,502.34 1428.36,496.06 1428.94,508.62 1430.1,489.78 1431.27,502.34 1431.81,489.78 1432.21,496.06 1432.78,483.5 1433.6,502.34 1434.41,483.5 1435.17,496.06 1435.93,483.5 1437.09,508.62 1438.26,496.06 1439.42,496.06 1440.59,483.5 1441.13,496.06 1441.53,489.78 1442.1,502.34 1443.5,502.34 1444.13,514.9 1444.58,508.62 1445.25,521.18 1446.41,496.06 1447.29,499.2 1448.16,489.78 1449,514.9 1449.61,502.34 1450.49,521.18 1451.66,489.78 1452.53,499.2 1453.4,483.5 1453.99,502.34 1455.15,483.5 1455.78,502.34 1456.23,496.06 1456.9,508.62 1458.06,514.9 1459.23,496.06 1460.39,508.62 1461.09,521.18 1461.53,514.9 1462.14,521.18 1463.31,508.62 1464.01,521.18 1464.44,514.9 1465.05,521.18 1466.22,496.06 1466.83,508.62 1467.2,502.34 1467.73,508.62 1468.55,483.5 1469.42,492.92 1470.3,489.78 1471.46,508.62 1472.34,499.2 1473.21,502.34 1474.37,514.9 1475.54,496.06 1476.25,470.94 1476.77,483.5 1477.52,464.66 1478.69,502.34 1479.85,496.06 1481.02,477.22 1482.18,502.34 1482.79,489.78 1483.17,496.06 1483.7,489.78 1484.86,496.06 1486.03,502.34 1486.57,514.9 1486.96,508.62 1487.54,521.18 1488.59,502.34" fill="none" stroke="#0c447b" stroke-width="1.8" stroke-linejoin="round"/>
<g stroke="#262626" fill="none">
<line x1="802.4" y1="454.8" x2="1489.1" y2="454.8" stroke-width="2.1"/>
<line x1="802.4" y1="544.1" x2="1489.1" y2="544.1" stroke-width="2.1"/>
<line x1="802.9" y1="454.8" x2="802.9" y2="544.1" stroke-width="1.1" stroke="#333"/>
<line x1="1488.6" y1="454.8" x2="1488.6" y2="544.1" stroke-width="1.1" stroke="#333"/>
<line x1="799.3" y1="521.18" x2="802.9" y2="521.18" stroke-width="2"/>
<line x1="799.3" y1="496.06" x2="802.9" y2="496.06" stroke-width="2"/>
<line x1="799.3" y1="470.94" x2="802.9" y2="470.94" stroke-width="2"/>
<line x1="802.9" y1="544.1" x2="802.9" y2="550.6" stroke-width="1.1" stroke="#333"/>
<line x1="940.04" y1="544.1" x2="940.04" y2="550.6" stroke-width="1.1" stroke="#333"/>
<line x1="1077.18" y1="544.1" x2="1077.18" y2="550.6" stroke-width="1.1" stroke="#333"/>
<line x1="1214.32" y1="544.1" x2="1214.32" y2="550.6" stroke-width="1.1" stroke="#333"/>
<line x1="1351.46" y1="544.1" x2="1351.46" y2="550.6" stroke-width="1.1" stroke="#333"/>
<line x1="1488.6" y1="544.1" x2="1488.6" y2="550.6" stroke-width="1.1" stroke="#333"/>
</g>
<g font-family="'DejaVu Sans',sans-serif" font-size="20.8" fill="#1a1a1a" stroke="#1a1a1a" stroke-width="0.45" class="ns">
<text transform="translate(796.6,529.38) scale(0.5,1)" text-anchor="end">4</text>
<text transform="translate(796.6,504.26) scale(0.5,1)" text-anchor="end">8</text>
<text transform="translate(796.6,479.14) scale(0.5,1)" text-anchor="end">12</text>
<text transform="translate(802.9,572.6) scale(0.5,1)" text-anchor="middle">0</text>
<text transform="translate(940.04,572.6) scale(0.5,1)" text-anchor="middle">20</text>
<text transform="translate(1077.18,572.6) scale(0.5,1)" text-anchor="middle">40</text>
<text transform="translate(1214.32,572.6) scale(0.5,1)" text-anchor="middle">60</text>
<text transform="translate(1351.46,572.6) scale(0.5,1)" text-anchor="middle">80</text>
<text transform="translate(1488.6,572.6) scale(0.5,1)" text-anchor="middle">100</text>
<text transform="translate(776.6,500.3) scale(0.53,1) rotate(-90)" text-anchor="middle" font-size="16.7" stroke-width="0.3">Total cont.</text>
</g>
</g>
<g id="heat">
<path d="M803 588.6h0.69v14.25h-0.69zM804.37 588.6h0.69v14.25h-0.69zM805.74 588.6h0.69v14.25h-0.69zM807.11 588.6h0.69v14.25h-0.69zM809.86 588.6h0.69v14.25h-0.69zM811.23 588.6h0.69v14.25h-0.69zM812.6 588.6h2.74v14.25h-2.74zM817.4 588.6h0.69v14.25h-0.69zM819.45 588.6h0.69v14.25h-0.69zM822.19 588.6h0.69v14.25h-0.69zM824.25 588.6h0.69v14.25h-0.69zM829.73 588.6h27.42v14.25h-27.42zM857.84 588.6h34.96v14.25h-34.96zM893.49 588.6h13.71v14.25h-13.71zM907.88 588.6h0.69v14.25h-0.69zM909.25 588.6h0.69v14.25h-0.69zM910.62 588.6h0.69v14.25h-0.69zM911.99 588.6h0.69v14.25h-0.69zM913.37 588.6h0.69v14.25h-0.69zM916.11 588.6h2.74v14.25h-2.74zM919.53 588.6h1.37v14.25h-1.37zM921.59 588.6h1.37v14.25h-1.37zM925.02 588.6h2.06v14.25h-2.06zM929.13 588.6h1.37v14.25h-1.37zM931.19 588.6h3.43v14.25h-3.43zM938.04 588.6h1.37v14.25h-1.37zM940.1 588.6h1.37v14.25h-1.37zM942.16 588.6h2.06v14.25h-2.06zM944.9 588.6h0.69v14.25h-0.69zM946.27 588.6h0.69v14.25h-0.69zM948.33 588.6h1.37v14.25h-1.37zM950.38 588.6h1.37v14.25h-1.37zM952.44 588.6h0.69v14.25h-0.69zM953.81 588.6h0.69v14.25h-0.69zM956.55 588.6h1.37v14.25h-1.37zM959.29 588.6h0.69v14.25h-0.69zM964.78 588.6h0.69v14.25h-0.69zM966.15 588.6h0.69v14.25h-0.69zM967.52 588.6h0.69v14.25h-0.69zM970.26 588.6h0.69v14.25h-0.69zM971.63 588.6h0.69v14.25h-0.69zM975.06 588.6h2.06v14.25h-2.06zM980.54 588.6h0.69v14.25h-0.69zM983.97 588.6h0.69v14.25h-0.69zM985.34 588.6h0.69v14.25h-0.69zM989.46 588.6h0.69v14.25h-0.69zM993.57 588.6h0.69v14.25h-0.69zM994.94 588.6h0.69v14.25h-0.69zM997 588.6h0.69v14.25h-0.69zM999.74 588.6h0.69v14.25h-0.69zM1003.85 588.6h0.69v14.25h-0.69zM1008.65 588.6h1.37v14.25h-1.37zM1010.71 588.6h0.69v14.25h-0.69zM1013.45 588.6h0.69v14.25h-0.69zM1016.19 588.6h0.69v14.25h-0.69zM1019.62 588.6h0.69v14.25h-0.69zM1021.67 588.6h0.69v14.25h-0.69zM1024.42 588.6h0.69v14.25h-0.69zM1029.21 588.6h1.37v14.25h-1.37zM1032.64 588.6h1.37v14.25h-1.37zM1034.7 588.6h1.37v14.25h-1.37zM1037.44 588.6h0.69v14.25h-0.69zM1038.81 588.6h0.69v14.25h-0.69zM1040.18 588.6h0.69v14.25h-0.69zM1042.92 588.6h1.37v14.25h-1.37zM1045.67 588.6h0.69v14.25h-0.69zM1047.04 588.6h0.69v14.25h-0.69zM1049.78 588.6h0.69v14.25h-0.69zM1052.52 588.6h0.69v14.25h-0.69zM1053.89 588.6h0.69v14.25h-0.69zM1055.95 588.6h1.37v14.25h-1.37zM1058.01 588.6h2.06v14.25h-2.06zM1060.75 588.6h2.06v14.25h-2.06zM1063.49 588.6h0.69v14.25h-0.69zM1065.55 588.6h0.69v14.25h-0.69zM1067.6 588.6h0.69v14.25h-0.69zM1077.2 588.6h1.37v14.25h-1.37zM1080.63 588.6h0.69v14.25h-0.69zM1083.37 588.6h0.69v14.25h-0.69zM1086.8 588.6h0.69v14.25h-0.69zM1088.17 588.6h0.69v14.25h-0.69zM1089.54 588.6h0.69v14.25h-0.69zM1090.91 588.6h0.69v14.25h-0.69zM1093.65 588.6h0.69v14.25h-0.69zM1095.02 588.6h1.37v14.25h-1.37zM1097.76 588.6h1.37v14.25h-1.37zM1099.82 588.6h0.69v14.25h-0.69zM1101.19 588.6h0.69v14.25h-0.69zM1102.56 588.6h0.69v14.25h-0.69zM1105.31 588.6h0.69v14.25h-0.69zM1107.36 588.6h0.69v14.25h-0.69zM1108.73 588.6h0.69v14.25h-0.69zM1112.16 588.6h1.37v14.25h-1.37zM1114.9 588.6h0.69v14.25h-0.69zM1116.96 588.6h0.69v14.25h-0.69zM1119.7 588.6h0.69v14.25h-0.69zM1122.44 588.6h0.69v14.25h-0.69zM1123.81 588.6h0.69v14.25h-0.69zM1125.87 588.6h0.69v14.25h-0.69zM1132.04 588.6h0.69v14.25h-0.69zM1137.52 588.6h0.69v14.25h-0.69zM1140.95 588.6h0.69v14.25h-0.69zM1143.01 588.6h0.69v14.25h-0.69zM1144.38 588.6h0.69v14.25h-0.69zM1147.12 588.6h0.69v14.25h-0.69zM1180.03 588.6h0.69v14.25h-0.69zM1181.4 588.6h0.69v14.25h-0.69zM1182.77 588.6h0.69v14.25h-0.69zM1188.25 588.6h0.69v14.25h-0.69zM1189.62 588.6h0.69v14.25h-0.69zM1195.79 588.6h0.69v14.25h-0.69zM1199.9 588.6h1.37v14.25h-1.37zM1203.33 588.6h0.69v14.25h-0.69zM1204.7 588.6h0.69v14.25h-0.69zM1206.76 588.6h0.69v14.25h-0.69zM1210.87 588.6h0.69v14.25h-0.69zM1213.61 588.6h0.69v14.25h-0.69zM1214.99 588.6h1.37v14.25h-1.37zM1217.73 588.6h0.69v14.25h-0.69zM1222.53 588.6h0.69v14.25h-0.69zM1228.01 588.6h0.69v14.25h-0.69zM1230.07 588.6h0.69v14.25h-0.69zM1231.44 588.6h0.69v14.25h-0.69zM1243.78 588.6h0.69v14.25h-0.69zM1261.6 588.6h0.69v14.25h-0.69zM1265.03 588.6h0.69v14.25h-0.69zM1267.08 588.6h0.69v14.25h-0.69zM1269.14 588.6h1.37v14.25h-1.37zM1271.2 588.6h0.69v14.25h-0.69zM1298.62 588.6h2.06v14.25h-2.06zM1303.41 588.6h0.69v14.25h-0.69zM1306.16 588.6h1.37v14.25h-1.37zM1308.21 588.6h2.06v14.25h-2.06zM1310.96 588.6h0.69v14.25h-0.69zM1321.92 588.6h0.69v14.25h-0.69zM1323.29 588.6h1.37v14.25h-1.37zM1326.04 588.6h0.69v14.25h-0.69zM1328.78 588.6h2.06v14.25h-2.06zM1331.52 588.6h0.69v14.25h-0.69zM1333.58 588.6h0.69v14.25h-0.69zM1334.95 588.6h0.69v14.25h-0.69zM1337 588.6h1.37v14.25h-1.37zM1339.06 588.6h1.37v14.25h-1.37zM1341.8 588.6h1.37v14.25h-1.37zM1343.86 588.6h0.69v14.25h-0.69zM1345.23 588.6h0.69v14.25h-0.69zM1347.97 588.6h0.69v14.25h-0.69zM1350.03 588.6h0.69v14.25h-0.69zM1351.4 588.6h0.69v14.25h-0.69zM1352.77 588.6h0.69v14.25h-0.69zM1354.14 588.6h0.69v14.25h-0.69zM1355.51 588.6h0.69v14.25h-0.69zM1356.88 588.6h0.69v14.25h-0.69zM1358.94 588.6h2.06v14.25h-2.06zM1361.68 588.6h1.37v14.25h-1.37zM1363.74 588.6h2.74v14.25h-2.74zM1367.17 588.6h1.37v14.25h-1.37zM1369.22 588.6h0.69v14.25h-0.69zM1371.28 588.6h0.69v14.25h-0.69zM1373.34 588.6h0.69v14.25h-0.69zM1375.39 588.6h0.69v14.25h-0.69zM1378.13 588.6h0.69v14.25h-0.69zM1380.19 588.6h0.69v14.25h-0.69zM1381.56 588.6h0.69v14.25h-0.69zM1383.62 588.6h1.37v14.25h-1.37zM1387.05 588.6h0.69v14.25h-0.69zM1388.42 588.6h0.69v14.25h-0.69zM1389.79 588.6h1.37v14.25h-1.37zM1391.84 588.6h0.69v14.25h-0.69zM1393.22 588.6h1.37v14.25h-1.37zM1395.27 588.6h1.37v14.25h-1.37zM1397.33 588.6h0.69v14.25h-0.69zM1398.7 588.6h0.69v14.25h-0.69zM1400.07 588.6h1.37v14.25h-1.37zM1402.13 588.6h0.69v14.25h-0.69zM1403.5 588.6h0.69v14.25h-0.69zM1404.87 588.6h4.11v14.25h-4.11zM1409.67 588.6h2.06v14.25h-2.06zM1412.41 588.6h0.69v14.25h-0.69zM1413.78 588.6h0.69v14.25h-0.69zM1415.15 588.6h0.69v14.25h-0.69zM1417.21 588.6h0.69v14.25h-0.69zM1418.58 588.6h1.37v14.25h-1.37zM1420.64 588.6h0.69v14.25h-0.69zM1422.69 588.6h0.69v14.25h-0.69zM1424.06 588.6h0.69v14.25h-0.69zM1425.43 588.6h0.69v14.25h-0.69zM1426.8 588.6h1.37v14.25h-1.37zM1428.86 588.6h1.37v14.25h-1.37zM1431.6 588.6h2.06v14.25h-2.06zM1434.35 588.6h2.74v14.25h-2.74zM1437.77 588.6h4.11v14.25h-4.11zM1442.57 588.6h3.43v14.25h-3.43zM1446.68 588.6h1.37v14.25h-1.37zM1448.74 588.6h1.37v14.25h-1.37zM1450.8 588.6h1.37v14.25h-1.37zM1452.85 588.6h0.69v14.25h-0.69zM1454.22 588.6h0.69v14.25h-0.69zM1455.6 588.6h0.69v14.25h-0.69zM1456.97 588.6h2.06v14.25h-2.06zM1459.71 588.6h0.69v14.25h-0.69zM1461.08 588.6h1.37v14.25h-1.37zM1463.14 588.6h0.69v14.25h-0.69zM1464.51 588.6h1.37v14.25h-1.37zM1466.56 588.6h0.69v14.25h-0.69zM1467.93 588.6h0.69v14.25h-0.69zM1469.31 588.6h2.06v14.25h-2.06zM1472.73 588.6h2.74v14.25h-2.74zM1476.16 588.6h0.69v14.25h-0.69zM1478.22 588.6h2.06v14.25h-2.06zM1480.96 588.6h2.06v14.25h-2.06zM1483.7 588.6h0.69v14.25h-0.69zM1485.07 588.6h0.69v14.25h-0.69zM1486.44 588.6h0.69v14.25h-0.69zM956.55 602.85h0.69v14.25h-0.69zM965.46 602.85h0.69v14.25h-0.69zM1264.34 602.85h0.69v14.25h-0.69zM831.11 617.1h2.06v14.25h-2.06zM833.85 617.1h0.69v14.25h-0.69zM836.59 617.1h0.69v14.25h-0.69zM837.96 617.1h0.69v14.25h-0.69zM839.33 617.1h1.37v14.25h-1.37zM841.39 617.1h0.69v14.25h-0.69zM842.76 617.1h0.69v14.25h-0.69zM849.61 617.1h0.69v14.25h-0.69zM852.36 617.1h1.37v14.25h-1.37zM858.53 617.1h0.69v14.25h-0.69zM862.64 617.1h0.69v14.25h-0.69zM870.18 617.1h0.69v14.25h-0.69zM871.55 617.1h2.06v14.25h-2.06zM874.29 617.1h0.69v14.25h-0.69zM876.35 617.1h0.69v14.25h-0.69zM879.09 617.1h0.69v14.25h-0.69zM880.46 617.1h0.69v14.25h-0.69zM883.2 617.1h0.69v14.25h-0.69zM885.95 617.1h0.69v14.25h-0.69zM887.32 617.1h0.69v14.25h-0.69zM888.69 617.1h0.69v14.25h-0.69zM890.06 617.1h0.69v14.25h-0.69zM891.43 617.1h1.37v14.25h-1.37zM893.49 617.1h1.37v14.25h-1.37zM895.54 617.1h0.69v14.25h-0.69zM896.91 617.1h0.69v14.25h-0.69zM898.28 617.1h0.69v14.25h-0.69zM899.66 617.1h0.69v14.25h-0.69zM901.03 617.1h0.69v14.25h-0.69zM903.77 617.1h0.69v14.25h-0.69zM905.14 617.1h0.69v14.25h-0.69zM909.94 617.1h0.69v14.25h-0.69zM911.31 617.1h0.69v14.25h-0.69zM913.37 617.1h1.37v14.25h-1.37zM917.48 617.1h0.69v14.25h-0.69zM918.85 617.1h0.69v14.25h-0.69zM920.22 617.1h0.69v14.25h-0.69zM923.65 617.1h0.69v14.25h-0.69zM925.02 617.1h0.69v14.25h-0.69zM927.08 617.1h0.69v14.25h-0.69zM929.82 617.1h1.37v14.25h-1.37zM931.87 617.1h2.06v14.25h-2.06zM935.3 617.1h2.74v14.25h-2.74zM938.73 617.1h1.37v14.25h-1.37zM940.79 617.1h0.69v14.25h-0.69zM944.21 617.1h0.69v14.25h-0.69zM948.33 617.1h2.06v14.25h-2.06zM951.75 617.1h0.69v14.25h-0.69zM954.5 617.1h2.06v14.25h-2.06zM957.24 617.1h6.17v14.25h-6.17zM964.09 617.1h0.69v14.25h-0.69zM968.21 617.1h2.74v14.25h-2.74zM976.43 617.1h1.37v14.25h-1.37zM1019.62 617.1h0.69v14.25h-0.69zM1029.9 617.1h1.37v14.25h-1.37zM1031.96 617.1h0.69v14.25h-0.69zM1033.33 617.1h1.37v14.25h-1.37zM1035.38 617.1h0.69v14.25h-0.69zM1036.76 617.1h0.69v14.25h-0.69zM1039.5 617.1h1.37v14.25h-1.37zM1042.24 617.1h1.37v14.25h-1.37zM1044.3 617.1h2.06v14.25h-2.06zM1048.41 617.1h0.69v14.25h-0.69zM1049.78 617.1h1.37v14.25h-1.37zM1051.84 617.1h2.06v14.25h-2.06zM1056.63 617.1h0.69v14.25h-0.69zM1066.23 617.1h0.69v14.25h-0.69zM1067.6 617.1h0.69v14.25h-0.69zM1068.97 617.1h0.69v14.25h-0.69zM1070.35 617.1h0.69v14.25h-0.69zM1072.4 617.1h0.69v14.25h-0.69zM1075.83 617.1h1.37v14.25h-1.37zM1082 617.1h1.37v14.25h-1.37zM1088.85 617.1h0.69v14.25h-0.69zM1090.22 617.1h1.37v14.25h-1.37zM1095.02 617.1h0.69v14.25h-0.69zM1096.39 617.1h1.37v14.25h-1.37zM1098.45 617.1h2.06v14.25h-2.06zM1101.19 617.1h0.69v14.25h-0.69zM1102.56 617.1h1.37v14.25h-1.37zM1105.31 617.1h2.06v14.25h-2.06zM1110.1 617.1h0.69v14.25h-0.69zM1111.47 617.1h0.69v14.25h-0.69zM1114.9 617.1h0.69v14.25h-0.69zM1116.27 617.1h0.69v14.25h-0.69zM1119.02 617.1h1.37v14.25h-1.37zM1125.87 617.1h0.69v14.25h-0.69zM1130.67 617.1h0.69v14.25h-0.69zM1136.84 617.1h1.37v14.25h-1.37zM1140.95 617.1h1.37v14.25h-1.37zM1143.01 617.1h0.69v14.25h-0.69zM1144.38 617.1h0.69v14.25h-0.69zM1147.12 617.1h0.69v14.25h-0.69zM1149.86 617.1h0.69v14.25h-0.69zM1169.74 617.1h12.34v14.25h-12.34zM1182.77 617.1h15.08v14.25h-15.08zM1199.22 617.1h0.69v14.25h-0.69zM1206.76 617.1h0.69v14.25h-0.69zM1259.54 617.1h0.69v14.25h-0.69zM1275.31 617.1h2.74v14.25h-2.74zM1280.79 617.1h2.06v14.25h-2.06zM1289.7 617.1h2.74v14.25h-2.74zM1308.21 617.1h2.06v14.25h-2.06zM1312.33 617.1h0.69v14.25h-0.69zM1317.12 617.1h2.06v14.25h-2.06zM1328.09 617.1h0.69v14.25h-0.69zM1346.6 617.1h1.37v14.25h-1.37zM1348.66 617.1h2.06v14.25h-2.06zM1351.4 617.1h2.06v14.25h-2.06zM1354.14 617.1h0.69v14.25h-0.69zM1356.2 617.1h0.69v14.25h-0.69zM1357.57 617.1h1.37v14.25h-1.37zM1361 617.1h0.69v14.25h-0.69zM1374.02 617.1h0.69v14.25h-0.69zM1378.13 617.1h0.69v14.25h-0.69zM1391.84 617.1h0.69v14.25h-0.69zM1413.78 617.1h0.69v14.25h-0.69zM1416.52 617.1h0.69v14.25h-0.69zM1419.26 617.1h0.69v14.25h-0.69zM1424.75 617.1h0.69v14.25h-0.69zM1426.12 617.1h0.69v14.25h-0.69zM1427.49 617.1h0.69v14.25h-0.69zM1428.86 617.1h2.06v14.25h-2.06zM1431.6 617.1h1.37v14.25h-1.37zM1433.66 617.1h1.37v14.25h-1.37zM1435.72 617.1h0.69v14.25h-0.69zM1437.09 617.1h0.69v14.25h-0.69zM1438.46 617.1h0.69v14.25h-0.69zM1439.83 617.1h0.69v14.25h-0.69zM1441.2 617.1h2.06v14.25h-2.06zM1443.94 617.1h0.69v14.25h-0.69zM1450.11 617.1h6.17v14.25h-6.17zM1460.39 617.1h0.69v14.25h-0.69zM1473.42 617.1h0.69v14.25h-0.69zM1474.79 617.1h2.74v14.25h-2.74zM1478.9 617.1h0.69v14.25h-0.69zM1480.27 617.1h1.37v14.25h-1.37zM1482.33 617.1h0.69v14.25h-0.69zM1483.7 617.1h0.69v14.25h-0.69zM1485.76 617.1h0.69v14.25h-0.69zM1047.72 631.36h0.69v14.25h-0.69zM1138.21 631.36h0.69v14.25h-0.69zM818.77 645.61h0.69v14.25h-0.69zM822.88 645.61h0.69v14.25h-0.69zM902.4 645.61h0.69v14.25h-0.69zM942.84 645.61h0.69v14.25h-0.69zM944.9 645.61h0.69v14.25h-0.69zM946.27 645.61h0.69v14.25h-0.69zM947.64 645.61h0.69v14.25h-0.69zM949.01 645.61h1.37v14.25h-1.37zM951.07 645.61h1.37v14.25h-1.37zM953.81 645.61h1.37v14.25h-1.37zM956.55 645.61h0.69v14.25h-0.69zM958.61 645.61h0.69v14.25h-0.69zM962.72 645.61h0.69v14.25h-0.69zM964.78 645.61h0.69v14.25h-0.69zM966.15 645.61h0.69v14.25h-0.69zM968.89 645.61h0.69v14.25h-0.69zM971.63 645.61h2.06v14.25h-2.06zM974.38 645.61h2.06v14.25h-2.06zM977.12 645.61h1.37v14.25h-1.37zM979.86 645.61h0.69v14.25h-0.69zM981.23 645.61h0.69v14.25h-0.69zM983.29 645.61h1.37v14.25h-1.37zM986.03 645.61h0.69v14.25h-0.69zM988.09 645.61h0.69v14.25h-0.69zM990.14 645.61h1.37v14.25h-1.37zM992.88 645.61h0.69v14.25h-0.69zM994.94 645.61h0.69v14.25h-0.69zM999.05 645.61h0.69v14.25h-0.69zM1001.11 645.61h0.69v14.25h-0.69zM1002.48 645.61h0.69v14.25h-0.69zM1005.91 645.61h0.69v14.25h-0.69zM1007.96 645.61h0.69v14.25h-0.69zM1010.02 645.61h0.69v14.25h-0.69zM1011.39 645.61h0.69v14.25h-0.69zM1013.45 645.61h0.69v14.25h-0.69zM1014.82 645.61h0.69v14.25h-0.69zM1016.19 645.61h1.37v14.25h-1.37zM1021.67 645.61h0.69v14.25h-0.69zM1026.47 645.61h0.69v14.25h-0.69zM1027.84 645.61h2.06v14.25h-2.06zM1030.59 645.61h1.37v14.25h-1.37zM1033.33 645.61h0.69v14.25h-0.69zM1036.07 645.61h0.69v14.25h-0.69zM1038.81 645.61h0.69v14.25h-0.69zM1040.87 645.61h1.37v14.25h-1.37zM1043.61 645.61h0.69v14.25h-0.69zM1045.67 645.61h0.69v14.25h-0.69zM1047.72 645.61h0.69v14.25h-0.69zM1050.47 645.61h0.69v14.25h-0.69zM1053.21 645.61h2.06v14.25h-2.06zM1055.95 645.61h1.37v14.25h-1.37zM1058.01 645.61h1.37v14.25h-1.37zM1060.06 645.61h0.69v14.25h-0.69zM1061.43 645.61h0.69v14.25h-0.69zM1062.8 645.61h1.37v14.25h-1.37zM1064.86 645.61h1.37v14.25h-1.37zM1066.92 645.61h0.69v14.25h-0.69zM1069.66 645.61h0.69v14.25h-0.69zM1071.72 645.61h0.69v14.25h-0.69zM1073.77 645.61h0.69v14.25h-0.69zM1075.14 645.61h0.69v14.25h-0.69zM1076.51 645.61h0.69v14.25h-0.69zM1077.89 645.61h0.69v14.25h-0.69zM1079.94 645.61h0.69v14.25h-0.69zM1081.31 645.61h1.37v14.25h-1.37zM1084.06 645.61h0.69v14.25h-0.69zM1085.43 645.61h0.69v14.25h-0.69zM1086.8 645.61h1.37v14.25h-1.37zM1088.85 645.61h0.69v14.25h-0.69zM1091.6 645.61h0.69v14.25h-0.69zM1094.34 645.61h0.69v14.25h-0.69zM1097.08 645.61h2.06v14.25h-2.06zM1108.05 645.61h0.69v14.25h-0.69zM1109.42 645.61h0.69v14.25h-0.69zM1110.79 645.61h0.69v14.25h-0.69zM1112.16 645.61h2.06v14.25h-2.06zM1119.02 645.61h0.69v14.25h-0.69zM1121.07 645.61h0.69v14.25h-0.69zM1123.13 645.61h0.69v14.25h-0.69zM1125.18 645.61h0.69v14.25h-0.69zM1126.56 645.61h2.06v14.25h-2.06zM1129.3 645.61h0.69v14.25h-0.69zM1132.04 645.61h1.37v14.25h-1.37zM1134.1 645.61h0.69v14.25h-0.69zM1135.47 645.61h0.69v14.25h-0.69zM1136.84 645.61h0.69v14.25h-0.69zM1138.21 645.61h0.69v14.25h-0.69zM1139.58 645.61h0.69v14.25h-0.69zM1146.44 645.61h0.69v14.25h-0.69zM1147.81 645.61h0.69v14.25h-0.69zM1149.18 645.61h0.69v14.25h-0.69zM1151.23 645.61h0.69v14.25h-0.69zM1152.61 645.61h0.69v14.25h-0.69zM1154.66 645.61h1.37v14.25h-1.37zM1156.72 645.61h0.69v14.25h-0.69zM1158.77 645.61h0.69v14.25h-0.69zM1160.83 645.61h0.69v14.25h-0.69zM1208.82 645.61h0.69v14.25h-0.69zM1229.38 645.61h0.69v14.25h-0.69zM1237.61 645.61h1.37v14.25h-1.37zM1241.72 645.61h1.37v14.25h-1.37zM1243.78 645.61h0.69v14.25h-0.69zM1245.15 645.61h0.69v14.25h-0.69zM1247.2 645.61h0.69v14.25h-0.69zM1249.95 645.61h0.69v14.25h-0.69zM1251.32 645.61h0.69v14.25h-0.69zM1280.79 645.61h0.69v14.25h-0.69zM1323.29 645.61h0.69v14.25h-0.69zM1324.67 645.61h0.69v14.25h-0.69zM1326.72 645.61h1.37v14.25h-1.37zM1329.46 645.61h0.69v14.25h-0.69zM1332.21 645.61h0.69v14.25h-0.69zM1333.58 645.61h1.37v14.25h-1.37zM1335.63 645.61h0.69v14.25h-0.69zM1337.69 645.61h0.69v14.25h-0.69zM1341.12 645.61h0.69v14.25h-0.69zM1342.49 645.61h0.69v14.25h-0.69zM1343.86 645.61h0.69v14.25h-0.69zM1345.92 645.61h0.69v14.25h-0.69zM1347.97 645.61h0.69v14.25h-0.69zM1349.34 645.61h0.69v14.25h-0.69zM1352.09 645.61h0.69v14.25h-0.69zM1354.83 645.61h0.69v14.25h-0.69zM1356.2 645.61h0.69v14.25h-0.69zM1378.82 645.61h0.69v14.25h-0.69zM1380.88 645.61h1.37v14.25h-1.37zM1382.93 645.61h1.37v14.25h-1.37zM1385.67 645.61h0.69v14.25h-0.69zM1387.05 645.61h0.69v14.25h-0.69zM1388.42 645.61h0.69v14.25h-0.69zM1390.47 645.61h0.69v14.25h-0.69zM1392.53 645.61h0.69v14.25h-0.69zM1393.9 645.61h0.69v14.25h-0.69zM1395.27 645.61h0.69v14.25h-0.69zM1396.64 645.61h0.69v14.25h-0.69zM1398.01 645.61h0.69v14.25h-0.69zM1399.38 645.61h0.69v14.25h-0.69zM1400.76 645.61h0.69v14.25h-0.69zM1403.5 645.61h0.69v14.25h-0.69zM1404.87 645.61h0.69v14.25h-0.69zM1408.3 645.61h0.69v14.25h-0.69zM1409.67 645.61h0.69v14.25h-0.69zM1433.66 645.61h1.37v14.25h-1.37zM1438.46 645.61h0.69v14.25h-0.69zM1439.83 645.61h0.69v14.25h-0.69zM1443.94 645.61h0.69v14.25h-0.69zM1448.06 645.61h0.69v14.25h-0.69zM1458.34 645.61h0.69v14.25h-0.69zM1459.71 645.61h0.69v14.25h-0.69zM1462.45 645.61h2.74v14.25h-2.74zM1465.88 645.61h0.69v14.25h-0.69zM1467.25 645.61h0.69v14.25h-0.69zM1468.62 645.61h0.69v14.25h-0.69zM1471.36 645.61h0.69v14.25h-0.69zM1472.73 645.61h0.69v14.25h-0.69zM1474.1 645.61h0.69v14.25h-0.69zM1476.16 645.61h0.69v14.25h-0.69zM1477.53 645.61h0.69v14.25h-0.69zM1478.9 645.61h0.69v14.25h-0.69zM1481.64 645.61h0.69v14.25h-0.69zM1485.07 645.61h1.37v14.25h-1.37zM818.77 659.86h0.69v14.25h-0.69zM1254.74 659.86h0.69v14.25h-0.69zM1279.42 659.86h0.69v14.25h-0.69zM1299.3 659.86h0.69v14.25h-0.69zM1347.29 659.86h0.69v14.25h-0.69zM804.37 674.11h0.69v14.25h-0.69zM807.8 674.11h0.69v14.25h-0.69zM809.86 674.11h0.69v14.25h-0.69zM882.52 674.11h1.37v14.25h-1.37zM893.49 674.11h0.69v14.25h-0.69zM943.53 674.11h0.69v14.25h-0.69zM945.58 674.11h0.69v14.25h-0.69zM947.64 674.11h1.37v14.25h-1.37zM953.12 674.11h0.69v14.25h-0.69zM955.87 674.11h0.69v14.25h-0.69zM968.21 674.11h0.69v14.25h-0.69zM974.38 674.11h0.69v14.25h-0.69zM979.86 674.11h0.69v14.25h-0.69zM983.97 674.11h0.69v14.25h-0.69zM989.46 674.11h0.69v14.25h-0.69zM999.05 674.11h0.69v14.25h-0.69zM1009.34 674.11h0.69v14.25h-0.69zM1012.08 674.11h0.69v14.25h-0.69zM1020.3 674.11h0.69v14.25h-0.69zM1033.33 674.11h0.69v14.25h-0.69zM1042.24 674.11h0.69v14.25h-0.69zM1044.3 674.11h0.69v14.25h-0.69zM1049.78 674.11h0.69v14.25h-0.69zM1060.06 674.11h1.37v14.25h-1.37zM1062.8 674.11h0.69v14.25h-0.69zM1066.23 674.11h0.69v14.25h-0.69zM1074.46 674.11h0.69v14.25h-0.69zM1081.31 674.11h0.69v14.25h-0.69zM1088.85 674.11h0.69v14.25h-0.69zM1094.34 674.11h0.69v14.25h-0.69zM1097.08 674.11h0.69v14.25h-0.69zM1098.45 674.11h0.69v14.25h-0.69zM1101.19 674.11h0.69v14.25h-0.69zM1103.25 674.11h0.69v14.25h-0.69zM1108.73 674.11h0.69v14.25h-0.69zM1121.76 674.11h0.69v14.25h-0.69zM1127.24 674.11h0.69v14.25h-0.69zM1132.04 674.11h0.69v14.25h-0.69zM1134.78 674.11h0.69v14.25h-0.69zM1136.84 674.11h0.69v14.25h-0.69zM1138.89 674.11h0.69v14.25h-0.69zM1145.06 674.11h0.69v14.25h-0.69zM1146.44 674.11h0.69v14.25h-0.69zM1148.49 674.11h0.69v14.25h-0.69zM1151.23 674.11h0.69v14.25h-0.69zM1153.98 674.11h0.69v14.25h-0.69zM1159.46 674.11h0.69v14.25h-0.69zM1160.83 674.11h1.37v14.25h-1.37zM1168.37 674.11h0.69v14.25h-0.69zM1172.48 674.11h0.69v14.25h-0.69zM1186.19 674.11h0.69v14.25h-0.69zM1187.57 674.11h0.69v14.25h-0.69zM1193.05 674.11h0.69v14.25h-0.69zM1195.79 674.11h0.69v14.25h-0.69zM1200.59 674.11h0.69v14.25h-0.69zM1201.96 674.11h0.69v14.25h-0.69zM1203.33 674.11h0.69v14.25h-0.69zM1205.39 674.11h0.69v14.25h-0.69zM1208.13 674.11h0.69v14.25h-0.69zM1209.5 674.11h0.69v14.25h-0.69zM1210.87 674.11h0.69v14.25h-0.69zM1218.41 674.11h0.69v14.25h-0.69zM1221.84 674.11h0.69v14.25h-0.69zM1224.58 674.11h0.69v14.25h-0.69zM1235.55 674.11h0.69v14.25h-0.69zM1237.61 674.11h0.69v14.25h-0.69zM1247.89 674.11h1.37v14.25h-1.37zM1262.29 674.11h0.69v14.25h-0.69zM1271.88 674.11h0.69v14.25h-0.69zM1278.74 674.11h0.69v14.25h-0.69zM1281.48 674.11h0.69v14.25h-0.69zM1282.85 674.11h0.69v14.25h-0.69zM1299.99 674.11h0.69v14.25h-0.69zM1310.96 674.11h0.69v14.25h-0.69zM1325.35 674.11h0.69v14.25h-0.69zM1328.09 674.11h0.69v14.25h-0.69zM1388.42 674.11h0.69v14.25h-0.69zM1409.67 674.11h0.69v14.25h-0.69zM1424.75 674.11h0.69v14.25h-0.69zM1458.34 674.11h29.48v14.25h-29.48zM811.91 688.36h0.69v14.25h-0.69zM815.34 688.36h0.69v14.25h-0.69zM829.05 688.36h0.69v14.25h-0.69zM854.41 688.36h0.69v14.25h-0.69zM918.16 688.36h0.69v14.25h-0.69zM922.28 688.36h0.69v14.25h-0.69zM925.7 688.36h0.69v14.25h-0.69zM927.08 688.36h0.69v14.25h-0.69zM929.82 688.36h0.69v14.25h-0.69zM931.19 688.36h1.37v14.25h-1.37zM934.62 688.36h0.69v14.25h-0.69zM942.84 688.36h1.37v14.25h-1.37zM944.9 688.36h0.69v14.25h-0.69zM946.27 688.36h3.43v14.25h-3.43zM956.55 688.36h0.69v14.25h-0.69zM957.92 688.36h3.43v14.25h-3.43zM962.04 688.36h2.06v14.25h-2.06zM965.46 688.36h2.06v14.25h-2.06zM968.89 688.36h1.37v14.25h-1.37zM970.95 688.36h0.69v14.25h-0.69zM975.75 688.36h0.69v14.25h-0.69zM981.23 688.36h0.69v14.25h-0.69zM982.6 688.36h1.37v14.25h-1.37zM984.66 688.36h0.69v14.25h-0.69zM986.03 688.36h0.69v14.25h-0.69zM987.4 688.36h0.69v14.25h-0.69zM990.83 688.36h1.37v14.25h-1.37zM996.31 688.36h0.69v14.25h-0.69zM997.68 688.36h0.69v14.25h-0.69zM1001.79 688.36h0.69v14.25h-0.69zM1003.17 688.36h1.37v14.25h-1.37zM1006.59 688.36h0.69v14.25h-0.69zM1009.34 688.36h1.37v14.25h-1.37zM1015.5 688.36h1.37v14.25h-1.37zM1017.56 688.36h0.69v14.25h-0.69zM1020.99 688.36h0.69v14.25h-0.69zM1022.36 688.36h1.37v14.25h-1.37zM1024.42 688.36h2.06v14.25h-2.06zM1027.84 688.36h0.69v14.25h-0.69zM1030.59 688.36h0.69v14.25h-0.69zM1031.96 688.36h1.37v14.25h-1.37zM1034.7 688.36h0.69v14.25h-0.69zM1036.07 688.36h0.69v14.25h-0.69zM1038.81 688.36h0.69v14.25h-0.69zM1042.92 688.36h2.06v14.25h-2.06zM1047.04 688.36h0.69v14.25h-0.69zM1048.41 688.36h3.43v14.25h-3.43zM1053.89 688.36h2.06v14.25h-2.06zM1057.32 688.36h2.06v14.25h-2.06zM1064.86 688.36h4.11v14.25h-4.11zM1070.35 688.36h2.74v14.25h-2.74zM1075.14 688.36h0.69v14.25h-0.69zM1077.2 688.36h2.06v14.25h-2.06zM1079.94 688.36h2.74v14.25h-2.74zM1083.37 688.36h2.74v14.25h-2.74zM1088.17 688.36h1.37v14.25h-1.37zM1092.28 688.36h1.37v14.25h-1.37zM1098.45 688.36h0.69v14.25h-0.69zM1101.19 688.36h2.06v14.25h-2.06zM1106.68 688.36h0.69v14.25h-0.69zM1108.05 688.36h2.06v14.25h-2.06zM1111.47 688.36h0.69v14.25h-0.69zM1112.85 688.36h0.69v14.25h-0.69zM1116.96 688.36h0.69v14.25h-0.69zM1121.07 688.36h0.69v14.25h-0.69zM1129.98 688.36h0.69v14.25h-0.69zM1131.35 688.36h0.69v14.25h-0.69zM1135.47 688.36h0.69v14.25h-0.69zM1136.84 688.36h2.74v14.25h-2.74zM1140.27 688.36h1.37v14.25h-1.37zM1142.32 688.36h0.69v14.25h-0.69zM1143.69 688.36h1.37v14.25h-1.37zM1148.49 688.36h0.69v14.25h-0.69zM1153.98 688.36h2.06v14.25h-2.06zM1157.4 688.36h1.37v14.25h-1.37zM1159.46 688.36h1.37v14.25h-1.37zM1163.57 688.36h0.69v14.25h-0.69zM1164.94 688.36h0.69v14.25h-0.69zM1166.32 688.36h1.37v14.25h-1.37zM1168.37 688.36h2.74v14.25h-2.74zM1171.8 688.36h0.69v14.25h-0.69zM1176.6 688.36h1.37v14.25h-1.37zM1178.65 688.36h2.06v14.25h-2.06zM1181.4 688.36h2.06v14.25h-2.06zM1186.19 688.36h0.69v14.25h-0.69zM1189.62 688.36h2.06v14.25h-2.06zM1193.05 688.36h0.69v14.25h-0.69zM1197.16 688.36h0.69v14.25h-0.69zM1198.53 688.36h0.69v14.25h-0.69zM1199.9 688.36h0.69v14.25h-0.69zM1201.28 688.36h2.74v14.25h-2.74zM1206.76 688.36h1.37v14.25h-1.37zM1208.82 688.36h0.69v14.25h-0.69zM1214.99 688.36h0.69v14.25h-0.69zM1217.73 688.36h0.69v14.25h-0.69zM1221.15 688.36h2.74v14.25h-2.74zM1224.58 688.36h0.69v14.25h-0.69zM1227.32 688.36h3.43v14.25h-3.43zM1234.87 688.36h0.69v14.25h-0.69zM1236.24 688.36h0.69v14.25h-0.69zM1237.61 688.36h1.37v14.25h-1.37zM1239.66 688.36h0.69v14.25h-0.69zM1243.78 688.36h2.74v14.25h-2.74zM1247.89 688.36h2.74v14.25h-2.74zM1256.8 688.36h0.69v14.25h-0.69zM1258.17 688.36h0.69v14.25h-0.69zM1259.54 688.36h1.37v14.25h-1.37zM1261.6 688.36h0.69v14.25h-0.69zM1264.34 688.36h0.69v14.25h-0.69zM1266.4 688.36h0.69v14.25h-0.69zM1269.14 688.36h1.37v14.25h-1.37zM1271.2 688.36h0.69v14.25h-0.69zM1272.57 688.36h1.37v14.25h-1.37zM1274.62 688.36h1.37v14.25h-1.37zM1282.16 688.36h2.74v14.25h-2.74zM1285.59 688.36h4.11v14.25h-4.11zM1290.39 688.36h4.11v14.25h-4.11zM1295.19 688.36h1.37v14.25h-1.37zM1297.25 688.36h1.37v14.25h-1.37zM1301.36 688.36h2.06v14.25h-2.06zM1304.1 688.36h1.37v14.25h-1.37zM1306.16 688.36h1.37v14.25h-1.37zM1309.58 688.36h0.69v14.25h-0.69zM1310.96 688.36h2.06v14.25h-2.06zM1313.7 688.36h2.74v14.25h-2.74zM1319.87 688.36h2.06v14.25h-2.06zM1322.61 688.36h0.69v14.25h-0.69zM1323.98 688.36h1.37v14.25h-1.37zM1326.04 688.36h0.69v14.25h-0.69zM1328.09 688.36h2.06v14.25h-2.06zM1330.84 688.36h0.69v14.25h-0.69zM1332.89 688.36h1.37v14.25h-1.37zM1334.95 688.36h1.37v14.25h-1.37zM1337 688.36h1.37v14.25h-1.37zM1339.06 688.36h2.06v14.25h-2.06zM1341.8 688.36h2.06v14.25h-2.06zM1344.55 688.36h0.69v14.25h-0.69zM1347.29 688.36h0.69v14.25h-0.69zM1348.66 688.36h2.74v14.25h-2.74zM1352.09 688.36h4.8v14.25h-4.8zM1357.57 688.36h1.37v14.25h-1.37zM1359.63 688.36h0.69v14.25h-0.69zM1361 688.36h2.06v14.25h-2.06zM1363.74 688.36h0.69v14.25h-0.69zM1365.11 688.36h0.69v14.25h-0.69zM1366.48 688.36h1.37v14.25h-1.37zM1369.91 688.36h0.69v14.25h-0.69zM1371.28 688.36h0.69v14.25h-0.69zM1372.65 688.36h0.69v14.25h-0.69zM1374.02 688.36h3.43v14.25h-3.43zM1378.13 688.36h0.69v14.25h-0.69zM1379.51 688.36h1.37v14.25h-1.37zM1381.56 688.36h2.06v14.25h-2.06zM1385.67 688.36h1.37v14.25h-1.37zM1388.42 688.36h0.69v14.25h-0.69zM1389.79 688.36h1.37v14.25h-1.37zM1391.84 688.36h0.69v14.25h-0.69zM1393.22 688.36h0.69v14.25h-0.69zM1394.59 688.36h1.37v14.25h-1.37zM1397.33 688.36h0.69v14.25h-0.69zM1398.7 688.36h0.69v14.25h-0.69zM1400.07 688.36h0.69v14.25h-0.69zM1401.44 688.36h1.37v14.25h-1.37zM1403.5 688.36h0.69v14.25h-0.69zM1405.55 688.36h1.37v14.25h-1.37zM1407.61 688.36h0.69v14.25h-0.69zM1408.98 688.36h2.74v14.25h-2.74zM1412.41 688.36h0.69v14.25h-0.69zM1413.78 688.36h0.69v14.25h-0.69zM1415.84 688.36h2.74v14.25h-2.74zM1419.95 688.36h1.37v14.25h-1.37zM1422.69 688.36h2.06v14.25h-2.06zM1425.43 688.36h0.69v14.25h-0.69zM1426.8 688.36h0.69v14.25h-0.69zM1428.18 688.36h0.69v14.25h-0.69zM1429.55 688.36h1.37v14.25h-1.37zM1431.6 688.36h0.69v14.25h-0.69zM1432.97 688.36h0.69v14.25h-0.69zM1434.35 688.36h0.69v14.25h-0.69zM1436.4 688.36h2.74v14.25h-2.74zM1439.83 688.36h1.37v14.25h-1.37zM1441.89 688.36h0.69v14.25h-0.69zM1443.26 688.36h1.37v14.25h-1.37zM1445.31 688.36h1.37v14.25h-1.37zM1448.06 688.36h0.69v14.25h-0.69zM1449.43 688.36h2.06v14.25h-2.06zM1452.85 688.36h0.69v14.25h-0.69zM1454.22 688.36h2.06v14.25h-2.06zM1456.97 688.36h0.69v14.25h-0.69zM1458.34 688.36h2.06v14.25h-2.06zM1461.08 688.36h0.69v14.25h-0.69zM1463.14 688.36h0.69v14.25h-0.69zM1465.88 688.36h0.69v14.25h-0.69zM1467.25 688.36h0.69v14.25h-0.69zM1468.62 688.36h0.69v14.25h-0.69zM1472.05 688.36h0.69v14.25h-0.69zM1473.42 688.36h0.69v14.25h-0.69zM1475.48 688.36h0.69v14.25h-0.69zM1476.85 688.36h0.69v14.25h-0.69zM1478.22 688.36h0.69v14.25h-0.69zM1479.59 688.36h0.69v14.25h-0.69zM1480.96 688.36h0.69v14.25h-0.69zM1482.33 688.36h0.69v14.25h-0.69zM1484.39 688.36h1.37v14.25h-1.37zM1486.44 688.36h0.69v14.25h-0.69zM918.16 702.62h1.37v14.25h-1.37zM920.91 702.62h0.69v14.25h-0.69zM922.96 702.62h0.69v14.25h-0.69zM925.02 702.62h0.69v14.25h-0.69zM926.39 702.62h0.69v14.25h-0.69zM927.76 702.62h0.69v14.25h-0.69zM929.13 702.62h0.69v14.25h-0.69zM930.5 702.62h1.37v14.25h-1.37zM934.62 702.62h0.69v14.25h-0.69zM946.27 702.62h0.69v14.25h-0.69zM947.64 702.62h0.69v14.25h-0.69zM950.38 702.62h1.37v14.25h-1.37zM954.5 702.62h0.69v14.25h-0.69zM955.87 702.62h0.69v14.25h-0.69zM957.92 702.62h0.69v14.25h-0.69zM959.29 702.62h0.69v14.25h-0.69zM963.41 702.62h0.69v14.25h-0.69zM966.83 702.62h0.69v14.25h-0.69zM977.12 702.62h0.69v14.25h-0.69zM982.6 702.62h0.69v14.25h-0.69zM988.09 702.62h0.69v14.25h-0.69zM990.14 702.62h1.37v14.25h-1.37zM1008.65 702.62h0.69v14.25h-0.69zM1017.56 702.62h0.69v14.25h-0.69zM1028.53 702.62h0.69v14.25h-0.69zM1029.9 702.62h0.69v14.25h-0.69zM1040.18 702.62h0.69v14.25h-0.69zM1047.72 702.62h0.69v14.25h-0.69zM1051.15 702.62h0.69v14.25h-0.69zM1052.52 702.62h0.69v14.25h-0.69zM1071.03 702.62h0.69v14.25h-0.69zM1072.4 702.62h0.69v14.25h-0.69zM1091.6 702.62h0.69v14.25h-0.69zM1093.65 702.62h0.69v14.25h-0.69zM1100.51 702.62h0.69v14.25h-0.69zM1121.07 702.62h0.69v14.25h-0.69zM1123.81 702.62h0.69v14.25h-0.69zM1131.35 702.62h0.69v14.25h-0.69zM1133.41 702.62h0.69v14.25h-0.69zM1158.09 702.62h0.69v14.25h-0.69zM1162.2 702.62h2.74v14.25h-2.74zM1168.37 702.62h0.69v14.25h-0.69zM1169.74 702.62h0.69v14.25h-0.69zM1172.48 702.62h0.69v14.25h-0.69zM1173.86 702.62h1.37v14.25h-1.37zM1175.91 702.62h1.37v14.25h-1.37zM1177.97 702.62h2.06v14.25h-2.06zM1180.71 702.62h0.69v14.25h-0.69zM1182.77 702.62h0.69v14.25h-0.69zM1184.14 702.62h2.74v14.25h-2.74zM1187.57 702.62h0.69v14.25h-0.69zM1188.94 702.62h0.69v14.25h-0.69zM1190.99 702.62h0.69v14.25h-0.69zM1193.05 702.62h0.69v14.25h-0.69zM1199.9 702.62h0.69v14.25h-0.69zM1215.67 702.62h0.69v14.25h-0.69zM1217.73 702.62h1.37v14.25h-1.37zM1219.78 702.62h3.43v14.25h-3.43zM1223.9 702.62h0.69v14.25h-0.69zM1225.27 702.62h0.69v14.25h-0.69zM1226.64 702.62h0.69v14.25h-0.69zM1229.38 702.62h0.69v14.25h-0.69zM1230.75 702.62h0.69v14.25h-0.69zM1232.81 702.62h0.69v14.25h-0.69zM1234.18 702.62h0.69v14.25h-0.69zM1249.95 702.62h0.69v14.25h-0.69zM1261.6 702.62h0.69v14.25h-0.69zM1266.4 702.62h0.69v14.25h-0.69zM1271.2 702.62h0.69v14.25h-0.69zM1274.62 702.62h0.69v14.25h-0.69zM1276.68 702.62h0.69v14.25h-0.69zM1278.05 702.62h0.69v14.25h-0.69zM1279.42 702.62h0.69v14.25h-0.69zM1281.48 702.62h0.69v14.25h-0.69zM1283.54 702.62h0.69v14.25h-0.69zM1286.28 702.62h0.69v14.25h-0.69zM1290.39 702.62h1.37v14.25h-1.37zM1299.3 702.62h0.69v14.25h-0.69zM1300.67 702.62h0.69v14.25h-0.69zM1302.73 702.62h0.69v14.25h-0.69zM1306.84 702.62h0.69v14.25h-0.69zM1321.24 702.62h1.37v14.25h-1.37zM1329.46 702.62h0.69v14.25h-0.69zM1334.95 702.62h0.69v14.25h-0.69zM1339.75 702.62h0.69v14.25h-0.69zM1343.17 702.62h0.69v14.25h-0.69zM1345.23 702.62h0.69v14.25h-0.69zM1346.6 702.62h0.69v14.25h-0.69zM1347.97 702.62h1.37v14.25h-1.37zM1350.03 702.62h0.69v14.25h-0.69zM1353.46 702.62h0.69v14.25h-0.69zM1354.83 702.62h0.69v14.25h-0.69zM1356.2 702.62h1.37v14.25h-1.37zM1358.94 702.62h0.69v14.25h-0.69zM1361 702.62h1.37v14.25h-1.37zM1363.05 702.62h0.69v14.25h-0.69zM1365.11 702.62h1.37v14.25h-1.37zM1380.88 702.62h0.69v14.25h-0.69zM1382.25 702.62h0.69v14.25h-0.69zM1384.3 702.62h0.69v14.25h-0.69zM1385.67 702.62h0.69v14.25h-0.69zM1393.9 702.62h0.69v14.25h-0.69zM1395.96 702.62h0.69v14.25h-0.69zM1398.7 702.62h0.69v14.25h-0.69zM1401.44 702.62h0.69v14.25h-0.69zM1402.81 702.62h0.69v14.25h-0.69zM1404.18 702.62h2.06v14.25h-2.06zM1406.93 702.62h0.69v14.25h-0.69zM1408.3 702.62h0.69v14.25h-0.69zM1410.35 702.62h0.69v14.25h-0.69zM1411.72 702.62h0.69v14.25h-0.69zM1413.1 702.62h1.37v14.25h-1.37zM1415.15 702.62h0.69v14.25h-0.69zM1416.52 702.62h0.69v14.25h-0.69zM1420.64 702.62h0.69v14.25h-0.69zM1422.01 702.62h0.69v14.25h-0.69zM1423.38 702.62h0.69v14.25h-0.69zM1424.75 702.62h2.06v14.25h-2.06zM1428.18 702.62h0.69v14.25h-0.69zM1429.55 702.62h0.69v14.25h-0.69zM1430.92 702.62h0.69v14.25h-0.69zM1432.29 702.62h0.69v14.25h-0.69zM1434.35 702.62h2.74v14.25h-2.74zM1438.46 702.62h1.37v14.25h-1.37zM1441.2 702.62h0.69v14.25h-0.69zM1442.57 702.62h0.69v14.25h-0.69zM1467.25 702.62h0.69v14.25h-0.69zM1472.05 702.62h0.69v14.25h-0.69zM1481.64 702.62h0.69v14.25h-0.69zM1197.85 716.87h0.69v14.25h-0.69zM1290.39 716.87h0.69v14.25h-0.69zM1293.82 716.87h0.69v14.25h-0.69zM1297.25 716.87h0.69v14.25h-0.69zM1302.04 716.87h0.69v14.25h-0.69zM1303.41 716.87h0.69v14.25h-0.69zM1304.79 716.87h0.69v14.25h-0.69zM1306.16 716.87h0.69v14.25h-0.69zM1307.53 716.87h1.37v14.25h-1.37zM1313.01 716.87h0.69v14.25h-0.69zM1315.07 716.87h0.69v14.25h-0.69zM1317.12 716.87h0.69v14.25h-0.69zM1344.55 716.87h0.69v14.25h-0.69zM913.37 731.12h0.69v14.25h-0.69zM916.79 731.12h0.69v14.25h-0.69zM931.19 731.12h2.06v14.25h-2.06zM933.93 731.12h1.37v14.25h-1.37zM959.29 731.12h0.69v14.25h-0.69zM1114.22 731.12h0.69v14.25h-0.69zM1124.5 731.12h1.37v14.25h-1.37zM1159.46 731.12h0.69v14.25h-0.69zM1175.23 731.12h0.69v14.25h-0.69zM1180.03 731.12h0.69v14.25h-0.69zM1186.88 731.12h0.69v14.25h-0.69zM1193.05 731.12h0.69v14.25h-0.69zM1208.13 731.12h0.69v14.25h-0.69zM1216.36 731.12h0.69v14.25h-0.69zM1234.18 731.12h0.69v14.25h-0.69zM1264.34 731.12h0.69v14.25h-0.69zM1269.83 731.12h0.69v14.25h-0.69zM1354.14 731.12h0.69v14.25h-0.69zM1378.13 731.12h0.69v14.25h-0.69zM1382.25 731.12h0.69v14.25h-0.69zM1388.42 731.12h0.69v14.25h-0.69zM1390.47 731.12h0.69v14.25h-0.69zM1398.01 731.12h0.69v14.25h-0.69zM1404.87 731.12h0.69v14.25h-0.69zM1452.17 731.12h1.37v14.25h-1.37zM824.94 745.37h0.69v14.25h-0.69zM828.36 745.37h0.69v14.25h-0.69zM832.48 745.37h2.06v14.25h-2.06zM835.9 745.37h0.69v14.25h-0.69zM837.27 745.37h0.69v14.25h-0.69zM839.33 745.37h1.37v14.25h-1.37zM842.76 745.37h0.69v14.25h-0.69zM844.13 745.37h0.69v14.25h-0.69zM846.87 745.37h0.69v14.25h-0.69zM848.24 745.37h2.06v14.25h-2.06zM853.73 745.37h2.74v14.25h-2.74zM857.15 745.37h2.74v14.25h-2.74zM861.95 745.37h0.69v14.25h-0.69zM865.38 745.37h0.69v14.25h-0.69zM866.75 745.37h0.69v14.25h-0.69zM868.12 745.37h1.37v14.25h-1.37zM872.92 745.37h0.69v14.25h-0.69zM874.29 745.37h2.74v14.25h-2.74zM877.72 745.37h0.69v14.25h-0.69zM879.09 745.37h0.69v14.25h-0.69zM880.46 745.37h1.37v14.25h-1.37zM885.95 745.37h0.69v14.25h-0.69zM887.32 745.37h1.37v14.25h-1.37zM890.74 745.37h0.69v14.25h-0.69zM892.12 745.37h2.06v14.25h-2.06zM894.86 745.37h1.37v14.25h-1.37zM898.28 745.37h0.69v14.25h-0.69zM899.66 745.37h0.69v14.25h-0.69zM901.03 745.37h1.37v14.25h-1.37zM904.45 745.37h0.69v14.25h-0.69zM906.51 745.37h0.69v14.25h-0.69zM911.99 745.37h10.28v14.25h-10.28zM927.76 745.37h0.69v14.25h-0.69zM931.87 745.37h0.69v14.25h-0.69zM935.99 745.37h0.69v14.25h-0.69zM940.1 745.37h0.69v14.25h-0.69zM1047.04 745.37h0.69v14.25h-0.69zM1087.48 745.37h0.69v14.25h-0.69zM1104.62 745.37h0.69v14.25h-0.69zM1108.73 745.37h0.69v14.25h-0.69zM1116.27 745.37h0.69v14.25h-0.69zM1123.13 745.37h0.69v14.25h-0.69zM1147.81 745.37h0.69v14.25h-0.69zM1167.69 745.37h0.69v14.25h-0.69zM1180.03 745.37h0.69v14.25h-0.69zM1208.82 745.37h0.69v14.25h-0.69zM1223.9 745.37h0.69v14.25h-0.69zM1226.64 745.37h0.69v14.25h-0.69zM1334.26 745.37h0.69v14.25h-0.69zM1336.32 745.37h0.69v14.25h-0.69zM1374.02 745.37h0.69v14.25h-0.69zM1380.19 745.37h0.69v14.25h-0.69zM845.5 759.62h0.69v14.25h-0.69zM911.99 759.62h1.37v14.25h-1.37zM914.05 759.62h1.37v14.25h-1.37zM916.11 759.62h1.37v14.25h-1.37zM918.85 759.62h0.69v14.25h-0.69zM920.91 759.62h0.69v14.25h-0.69zM922.96 759.62h0.69v14.25h-0.69zM924.33 759.62h1.37v14.25h-1.37zM926.39 759.62h0.69v14.25h-0.69zM927.76 759.62h0.69v14.25h-0.69zM930.5 759.62h0.69v14.25h-0.69zM938.73 759.62h1.37v14.25h-1.37zM942.16 759.62h2.06v14.25h-2.06zM944.9 759.62h1.37v14.25h-1.37zM946.96 759.62h0.69v14.25h-0.69zM948.33 759.62h2.06v14.25h-2.06zM955.18 759.62h5.48v14.25h-5.48zM962.04 759.62h1.37v14.25h-1.37zM965.46 759.62h1.37v14.25h-1.37zM970.26 759.62h1.37v14.25h-1.37zM972.32 759.62h0.69v14.25h-0.69zM973.69 759.62h0.69v14.25h-0.69zM975.06 759.62h0.69v14.25h-0.69zM976.43 759.62h2.06v14.25h-2.06zM979.17 759.62h1.37v14.25h-1.37zM983.29 759.62h0.69v14.25h-0.69zM984.66 759.62h0.69v14.25h-0.69zM986.03 759.62h1.37v14.25h-1.37zM988.77 759.62h4.11v14.25h-4.11zM994.25 759.62h1.37v14.25h-1.37zM996.31 759.62h1.37v14.25h-1.37zM998.37 759.62h0.69v14.25h-0.69zM999.74 759.62h1.37v14.25h-1.37zM1001.79 759.62h4.11v14.25h-4.11zM1007.28 759.62h0.69v14.25h-0.69zM1008.65 759.62h2.74v14.25h-2.74zM1012.08 759.62h0.69v14.25h-0.69zM1014.82 759.62h0.69v14.25h-0.69zM1018.93 759.62h0.69v14.25h-0.69zM1020.3 759.62h0.69v14.25h-0.69zM1021.67 759.62h0.69v14.25h-0.69zM1023.05 759.62h0.69v14.25h-0.69zM1024.42 759.62h1.37v14.25h-1.37zM1027.16 759.62h0.69v14.25h-0.69zM1028.53 759.62h2.06v14.25h-2.06zM1034.7 759.62h0.69v14.25h-0.69zM1038.13 759.62h2.74v14.25h-2.74zM1052.52 759.62h0.69v14.25h-0.69zM1064.18 759.62h2.06v14.25h-2.06zM1071.72 759.62h0.69v14.25h-0.69zM1073.09 759.62h0.69v14.25h-0.69zM1084.06 759.62h0.69v14.25h-0.69zM1086.8 759.62h2.06v14.25h-2.06zM1092.28 759.62h1.37v14.25h-1.37zM1098.45 759.62h2.74v14.25h-2.74zM1105.99 759.62h0.69v14.25h-0.69zM1107.36 759.62h0.69v14.25h-0.69zM1110.79 759.62h1.37v14.25h-1.37zM1125.18 759.62h0.69v14.25h-0.69zM1129.3 759.62h1.37v14.25h-1.37zM1131.35 759.62h1.37v14.25h-1.37zM1133.41 759.62h0.69v14.25h-0.69zM1137.52 759.62h2.06v14.25h-2.06zM1140.27 759.62h0.69v14.25h-0.69zM1141.64 759.62h1.37v14.25h-1.37zM1150.55 759.62h0.69v14.25h-0.69zM1151.92 759.62h1.37v14.25h-1.37zM1153.98 759.62h0.69v14.25h-0.69zM1158.77 759.62h1.37v14.25h-1.37zM1162.2 759.62h1.37v14.25h-1.37zM1167 759.62h1.37v14.25h-1.37zM1174.54 759.62h0.69v14.25h-0.69zM1179.34 759.62h1.37v14.25h-1.37zM1186.19 759.62h0.69v14.25h-0.69zM1187.57 759.62h0.69v14.25h-0.69zM1195.11 759.62h2.06v14.25h-2.06zM1199.9 759.62h1.37v14.25h-1.37zM1206.76 759.62h0.69v14.25h-0.69zM1208.13 759.62h0.69v14.25h-0.69zM1213.61 759.62h0.69v14.25h-0.69zM1219.1 759.62h0.69v14.25h-0.69zM1224.58 759.62h1.37v14.25h-1.37zM1236.24 759.62h1.37v14.25h-1.37zM1238.29 759.62h0.69v14.25h-0.69zM1241.72 759.62h1.37v14.25h-1.37zM1243.78 759.62h1.37v14.25h-1.37zM1245.83 759.62h0.69v14.25h-0.69zM1254.74 759.62h1.37v14.25h-1.37zM1264.34 759.62h0.69v14.25h-0.69zM1267.08 759.62h0.69v14.25h-0.69zM1268.45 759.62h0.69v14.25h-0.69zM1276.68 759.62h0.69v14.25h-0.69zM1280.79 759.62h0.69v14.25h-0.69zM1283.54 759.62h1.37v14.25h-1.37zM1289.7 759.62h2.06v14.25h-2.06zM1295.19 759.62h2.06v14.25h-2.06zM1308.21 759.62h2.74v14.25h-2.74zM1313.7 759.62h2.06v14.25h-2.06zM1317.12 759.62h0.69v14.25h-0.69zM1318.5 759.62h1.37v14.25h-1.37zM1320.55 759.62h2.06v14.25h-2.06zM1328.09 759.62h0.69v14.25h-0.69zM1334.26 759.62h1.37v14.25h-1.37zM1342.49 759.62h0.69v14.25h-0.69zM1346.6 759.62h3.43v14.25h-3.43zM1350.71 759.62h0.69v14.25h-0.69zM1356.2 759.62h0.69v14.25h-0.69zM1363.05 759.62h2.06v14.25h-2.06zM1370.59 759.62h1.37v14.25h-1.37zM1372.65 759.62h2.06v14.25h-2.06zM1387.05 759.62h0.69v14.25h-0.69zM1388.42 759.62h0.69v14.25h-0.69zM1389.79 759.62h0.69v14.25h-0.69zM1391.84 759.62h0.69v14.25h-0.69zM1393.22 759.62h4.8v14.25h-4.8zM1400.76 759.62h1.37v14.25h-1.37zM1404.87 759.62h0.69v14.25h-0.69zM1408.3 759.62h2.74v14.25h-2.74zM1412.41 759.62h0.69v14.25h-0.69zM1413.78 759.62h2.74v14.25h-2.74zM1417.21 759.62h4.11v14.25h-4.11zM1423.38 759.62h0.69v14.25h-0.69zM1424.75 759.62h2.06v14.25h-2.06zM1430.92 759.62h0.69v14.25h-0.69zM1437.09 759.62h1.37v14.25h-1.37zM1441.89 759.62h1.37v14.25h-1.37zM1443.94 759.62h1.37v14.25h-1.37zM1450.11 759.62h0.69v14.25h-0.69zM1461.08 759.62h2.74v14.25h-2.74zM1465.88 759.62h0.69v14.25h-0.69zM1467.25 759.62h1.37v14.25h-1.37zM1472.73 759.62h0.69v14.25h-0.69zM1474.1 759.62h1.37v14.25h-1.37zM1478.22 759.62h0.69v14.25h-0.69zM1484.39 759.62h2.74v14.25h-2.74zM814.65 773.88h1.37v14.25h-1.37zM820.14 773.88h0.69v14.25h-0.69zM838.65 773.88h0.69v14.25h-0.69zM910.62 773.88h0.69v14.25h-0.69zM911.99 773.88h1.37v14.25h-1.37zM914.05 773.88h4.11v14.25h-4.11zM919.53 773.88h0.69v14.25h-0.69zM925.7 773.88h0.69v14.25h-0.69zM927.76 773.88h0.69v14.25h-0.69zM929.13 773.88h0.69v14.25h-0.69zM946.96 773.88h1.37v14.25h-1.37zM951.75 773.88h0.69v14.25h-0.69zM955.18 773.88h0.69v14.25h-0.69zM956.55 773.88h0.69v14.25h-0.69zM957.92 773.88h0.69v14.25h-0.69zM960.66 773.88h0.69v14.25h-0.69zM962.72 773.88h0.69v14.25h-0.69zM964.78 773.88h1.37v14.25h-1.37zM966.83 773.88h0.69v14.25h-0.69zM968.89 773.88h1.37v14.25h-1.37zM972.32 773.88h0.69v14.25h-0.69zM974.38 773.88h0.69v14.25h-0.69zM979.86 773.88h0.69v14.25h-0.69zM981.23 773.88h0.69v14.25h-0.69zM982.6 773.88h0.69v14.25h-0.69zM1004.54 773.88h0.69v14.25h-0.69zM1011.39 773.88h0.69v14.25h-0.69zM1026.47 773.88h1.37v14.25h-1.37zM1029.9 773.88h1.37v14.25h-1.37zM1032.64 773.88h0.69v14.25h-0.69zM1034.7 773.88h0.69v14.25h-0.69zM1036.07 773.88h0.69v14.25h-0.69zM1037.44 773.88h0.69v14.25h-0.69zM1039.5 773.88h0.69v14.25h-0.69zM1044.98 773.88h0.69v14.25h-0.69zM1048.41 773.88h0.69v14.25h-0.69zM1050.47 773.88h0.69v14.25h-0.69zM1058.01 773.88h0.69v14.25h-0.69zM1070.35 773.88h0.69v14.25h-0.69zM1074.46 773.88h1.37v14.25h-1.37zM1077.89 773.88h0.69v14.25h-0.69zM1083.37 773.88h0.69v14.25h-0.69zM1087.48 773.88h0.69v14.25h-0.69zM1090.22 773.88h0.69v14.25h-0.69zM1092.97 773.88h0.69v14.25h-0.69zM1133.41 773.88h0.69v14.25h-0.69zM1134.78 773.88h0.69v14.25h-0.69zM1138.21 773.88h0.69v14.25h-0.69zM1147.81 773.88h0.69v14.25h-0.69zM1151.92 773.88h0.69v14.25h-0.69zM1158.09 773.88h0.69v14.25h-0.69zM1160.83 773.88h0.69v14.25h-0.69zM1162.89 773.88h0.69v14.25h-0.69zM1167.69 773.88h0.69v14.25h-0.69zM1169.74 773.88h0.69v14.25h-0.69zM1171.11 773.88h0.69v14.25h-0.69zM1175.91 773.88h0.69v14.25h-0.69zM1180.03 773.88h0.69v14.25h-0.69zM1183.45 773.88h0.69v14.25h-0.69zM1184.82 773.88h0.69v14.25h-0.69zM1190.31 773.88h0.69v14.25h-0.69zM1203.33 773.88h0.69v14.25h-0.69zM1217.04 773.88h1.37v14.25h-1.37zM1219.78 773.88h1.37v14.25h-1.37zM1222.53 773.88h0.69v14.25h-0.69zM1223.9 773.88h0.69v14.25h-0.69zM1225.27 773.88h0.69v14.25h-0.69zM1226.64 773.88h0.69v14.25h-0.69zM1228.01 773.88h0.69v14.25h-0.69zM1229.38 773.88h0.69v14.25h-0.69zM1230.75 773.88h0.69v14.25h-0.69zM1240.35 773.88h0.69v14.25h-0.69zM1269.14 773.88h1.37v14.25h-1.37zM1271.2 773.88h0.69v14.25h-0.69zM1274.62 773.88h1.37v14.25h-1.37zM1277.37 773.88h0.69v14.25h-0.69zM1280.11 773.88h0.69v14.25h-0.69zM1283.54 773.88h0.69v14.25h-0.69zM1286.28 773.88h0.69v14.25h-0.69zM1287.65 773.88h1.37v14.25h-1.37zM1295.87 773.88h0.69v14.25h-0.69zM1297.93 773.88h4.8v14.25h-4.8zM1303.41 773.88h1.37v14.25h-1.37zM1305.47 773.88h0.69v14.25h-0.69zM1306.84 773.88h0.69v14.25h-0.69zM1308.21 773.88h1.37v14.25h-1.37zM1310.27 773.88h2.06v14.25h-2.06zM1319.87 773.88h2.06v14.25h-2.06zM1323.29 773.88h0.69v14.25h-0.69zM1324.67 773.88h0.69v14.25h-0.69zM1326.04 773.88h0.69v14.25h-0.69zM1330.15 773.88h0.69v14.25h-0.69zM1332.89 773.88h0.69v14.25h-0.69zM1334.95 773.88h0.69v14.25h-0.69zM1341.8 773.88h0.69v14.25h-0.69zM1344.55 773.88h0.69v14.25h-0.69zM1348.66 773.88h0.69v14.25h-0.69zM1352.77 773.88h0.69v14.25h-0.69zM1356.88 773.88h0.69v14.25h-0.69zM1359.63 773.88h0.69v14.25h-0.69zM1361 773.88h1.37v14.25h-1.37zM1364.42 773.88h0.69v14.25h-0.69zM1378.82 773.88h0.69v14.25h-0.69zM1413.1 773.88h0.69v14.25h-0.69zM1414.47 773.88h1.37v14.25h-1.37zM1416.52 773.88h2.74v14.25h-2.74zM1419.95 773.88h1.37v14.25h-1.37zM1423.38 773.88h0.69v14.25h-0.69zM1424.75 773.88h0.69v14.25h-0.69zM1426.12 773.88h0.69v14.25h-0.69zM1427.49 773.88h0.69v14.25h-0.69zM1428.86 773.88h1.37v14.25h-1.37zM1430.92 773.88h0.69v14.25h-0.69zM1432.29 773.88h0.69v14.25h-0.69zM1434.35 773.88h0.69v14.25h-0.69zM1435.72 773.88h0.69v14.25h-0.69zM1437.09 773.88h0.69v14.25h-0.69zM1438.46 773.88h0.69v14.25h-0.69zM1439.83 773.88h1.37v14.25h-1.37zM1441.89 773.88h0.69v14.25h-0.69zM1443.26 773.88h1.37v14.25h-1.37zM1454.91 773.88h0.69v14.25h-0.69zM826.99 788.13h0.69v14.25h-0.69zM870.86 788.13h0.69v14.25h-0.69zM878.4 788.13h0.69v14.25h-0.69zM1336.32 788.13h0.69v14.25h-0.69zM1476.85 788.13h0.69v14.25h-0.69zM1478.9 788.13h0.69v14.25h-0.69zM803.69 802.38h0.69v14.25h-0.69zM805.06 802.38h2.74v14.25h-2.74zM808.48 802.38h0.69v14.25h-0.69zM803.69 830.88h1.37v14.25h-1.37zM805.74 830.88h0.69v14.25h-0.69zM807.8 830.88h2.06v14.25h-2.06zM810.54 830.88h0.69v14.25h-0.69zM812.6 830.88h1.37v14.25h-1.37zM815.34 830.88h1.37v14.25h-1.37zM825.62 830.88h2.06v14.25h-2.06zM830.42 830.88h1.37v14.25h-1.37zM833.16 830.88h1.37v14.25h-1.37zM951.75 830.88h0.69v14.25h-0.69zM975.06 830.88h0.69v14.25h-0.69zM977.8 830.88h0.69v14.25h-0.69zM986.71 830.88h0.69v14.25h-0.69zM1030.59 830.88h0.69v14.25h-0.69zM1063.49 830.88h0.69v14.25h-0.69zM1089.54 830.88h0.69v14.25h-0.69zM1111.47 830.88h0.69v14.25h-0.69zM1134.1 830.88h0.69v14.25h-0.69zM1164.94 830.88h0.69v14.25h-0.69zM1191.68 830.88h0.69v14.25h-0.69zM1203.33 830.88h0.69v14.25h-0.69zM1210.87 830.88h0.69v14.25h-0.69zM1225.27 830.88h0.69v14.25h-0.69zM1293.82 830.88h0.69v14.25h-0.69zM1295.87 830.88h0.69v14.25h-0.69zM1314.38 830.88h0.69v14.25h-0.69zM1394.59 830.88h0.69v14.25h-0.69zM1410.35 830.88h0.69v14.25h-0.69zM1416.52 830.88h0.69v14.25h-0.69zM1422.01 830.88h0.69v14.25h-0.69zM1423.38 830.88h0.69v14.25h-0.69zM1428.86 830.88h0.69v14.25h-0.69zM1430.92 830.88h0.69v14.25h-0.69zM803 845.14h2.06v14.25h-2.06zM809.86 845.14h1.37v14.25h-1.37zM811.91 845.14h3.43v14.25h-3.43zM816.02 845.14h11.65v14.25h-11.65zM829.05 845.14h2.06v14.25h-2.06zM846.19 845.14h1.37v14.25h-1.37zM864.7 845.14h2.06v14.25h-2.06zM874.98 845.14h2.06v14.25h-2.06zM892.8 845.14h2.06v14.25h-2.06zM909.94 845.14h0.69v14.25h-0.69zM918.85 845.14h0.69v14.25h-0.69zM925.02 845.14h0.69v14.25h-0.69zM938.04 845.14h8.23v14.25h-8.23zM946.96 845.14h4.11v14.25h-4.11zM952.44 845.14h0.69v14.25h-0.69zM953.81 845.14h0.69v14.25h-0.69zM955.18 845.14h5.48v14.25h-5.48zM961.35 845.14h0.69v14.25h-0.69zM962.72 845.14h2.06v14.25h-2.06zM965.46 845.14h1.37v14.25h-1.37zM968.89 845.14h1.37v14.25h-1.37zM980.54 845.14h0.69v14.25h-0.69zM1059.38 845.14h2.06v14.25h-2.06zM1072.4 845.14h2.06v14.25h-2.06zM1082.68 845.14h1.37v14.25h-1.37zM1095.71 845.14h0.69v14.25h-0.69zM1116.27 845.14h0.69v14.25h-0.69zM1120.39 845.14h1.37v14.25h-1.37zM1127.24 845.14h4.11v14.25h-4.11zM1158.77 845.14h2.74v14.25h-2.74zM1173.17 845.14h2.06v14.25h-2.06zM1177.28 845.14h1.37v14.25h-1.37zM1186.88 845.14h1.37v14.25h-1.37zM1207.44 845.14h2.06v14.25h-2.06zM1214.99 845.14h2.06v14.25h-2.06zM1247.2 845.14h2.74v14.25h-2.74zM1252 845.14h1.37v14.25h-1.37zM1263.66 845.14h1.37v14.25h-1.37zM1274.62 845.14h2.74v14.25h-2.74zM1280.79 845.14h1.37v14.25h-1.37zM1290.39 845.14h1.37v14.25h-1.37zM1293.82 845.14h2.06v14.25h-2.06zM1310.27 845.14h1.37v14.25h-1.37zM1317.81 845.14h0.69v14.25h-0.69zM1327.41 845.14h2.06v14.25h-2.06zM1339.75 845.14h0.69v14.25h-0.69zM1341.12 845.14h1.37v14.25h-1.37zM1344.55 845.14h2.74v14.25h-2.74zM1354.83 845.14h1.37v14.25h-1.37zM1362.37 845.14h2.74v14.25h-2.74zM1368.54 845.14h3.43v14.25h-3.43zM1373.34 845.14h0.69v14.25h-0.69zM1374.71 845.14h1.37v14.25h-1.37zM1376.76 845.14h0.69v14.25h-0.69zM1380.19 845.14h1.37v14.25h-1.37zM1385.67 845.14h0.69v14.25h-0.69zM1423.38 845.14h1.37v14.25h-1.37zM1441.2 845.14h4.8v14.25h-4.8zM1450.8 845.14h2.06v14.25h-2.06zM1459.71 845.14h2.74v14.25h-2.74zM1465.19 845.14h0.69v14.25h-0.69zM1474.1 845.14h2.74v14.25h-2.74zM1486.44 845.14h1.37v14.25h-1.37zM943.53 859.39h2.74v14.25h-2.74zM978.49 859.39h0.69v14.25h-0.69zM1258.17 859.39h0.69v14.25h-0.69zM805.74 873.64h0.69v14.25h-0.69zM815.34 873.64h2.06v14.25h-2.06zM818.08 873.64h4.11v14.25h-4.11zM907.2 873.64h1.37v14.25h-1.37zM909.25 873.64h0.69v14.25h-0.69zM910.62 873.64h0.69v14.25h-0.69zM911.99 873.64h1.37v14.25h-1.37zM914.05 873.64h1.37v14.25h-1.37zM922.28 873.64h0.69v14.25h-0.69zM924.33 873.64h0.69v14.25h-0.69zM925.7 873.64h2.06v14.25h-2.06zM931.19 873.64h0.69v14.25h-0.69zM932.56 873.64h1.37v14.25h-1.37zM934.62 873.64h0.69v14.25h-0.69zM935.99 873.64h0.69v14.25h-0.69zM937.36 873.64h1.37v14.25h-1.37zM939.41 873.64h0.69v14.25h-0.69zM941.47 873.64h0.69v14.25h-0.69zM942.84 873.64h1.37v14.25h-1.37zM946.27 873.64h0.69v14.25h-0.69zM955.18 873.64h0.69v14.25h-0.69zM957.24 873.64h0.69v14.25h-0.69zM961.35 873.64h0.69v14.25h-0.69zM962.72 873.64h0.69v14.25h-0.69zM964.78 873.64h0.69v14.25h-0.69zM966.15 873.64h0.69v14.25h-0.69zM968.21 873.64h0.69v14.25h-0.69zM969.58 873.64h0.69v14.25h-0.69zM972.32 873.64h0.69v14.25h-0.69zM974.38 873.64h0.69v14.25h-0.69zM981.23 873.64h0.69v14.25h-0.69zM988.09 873.64h0.69v14.25h-0.69zM989.46 873.64h0.69v14.25h-0.69zM991.51 873.64h1.37v14.25h-1.37zM993.57 873.64h1.37v14.25h-1.37zM995.63 873.64h3.43v14.25h-3.43zM999.74 873.64h1.37v14.25h-1.37zM1002.48 873.64h0.69v14.25h-0.69zM1003.85 873.64h0.69v14.25h-0.69zM1005.22 873.64h0.69v14.25h-0.69zM1006.59 873.64h0.69v14.25h-0.69zM1007.96 873.64h1.37v14.25h-1.37zM1010.71 873.64h1.37v14.25h-1.37zM1013.45 873.64h2.06v14.25h-2.06zM1016.88 873.64h1.37v14.25h-1.37zM1018.93 873.64h1.37v14.25h-1.37zM1020.99 873.64h0.69v14.25h-0.69zM1022.36 873.64h3.43v14.25h-3.43zM1026.47 873.64h0.69v14.25h-0.69zM1027.84 873.64h0.69v14.25h-0.69zM1029.9 873.64h2.06v14.25h-2.06zM1032.64 873.64h0.69v14.25h-0.69zM1034.01 873.64h1.37v14.25h-1.37zM1036.07 873.64h2.06v14.25h-2.06zM1039.5 873.64h1.37v14.25h-1.37zM1041.55 873.64h2.74v14.25h-2.74zM1046.35 873.64h1.37v14.25h-1.37zM1048.41 873.64h0.69v14.25h-0.69zM1050.47 873.64h1.37v14.25h-1.37zM1052.52 873.64h0.69v14.25h-0.69zM1053.89 873.64h0.69v14.25h-0.69zM1055.26 873.64h0.69v14.25h-0.69zM1056.63 873.64h0.69v14.25h-0.69zM1058.01 873.64h0.69v14.25h-0.69zM1060.06 873.64h1.37v14.25h-1.37zM1062.12 873.64h0.69v14.25h-0.69zM1063.49 873.64h0.69v14.25h-0.69zM1064.86 873.64h0.69v14.25h-0.69zM1066.92 873.64h1.37v14.25h-1.37zM1068.97 873.64h0.69v14.25h-0.69zM1070.35 873.64h1.37v14.25h-1.37zM1073.09 873.64h0.69v14.25h-0.69zM1075.14 873.64h2.06v14.25h-2.06zM1077.89 873.64h0.69v14.25h-0.69zM1079.26 873.64h0.69v14.25h-0.69zM1080.63 873.64h0.69v14.25h-0.69zM1082 873.64h0.69v14.25h-0.69zM1083.37 873.64h0.69v14.25h-0.69zM1084.74 873.64h0.69v14.25h-0.69zM1086.11 873.64h2.06v14.25h-2.06zM1088.85 873.64h0.69v14.25h-0.69zM1090.22 873.64h1.37v14.25h-1.37zM1092.28 873.64h2.74v14.25h-2.74zM1097.08 873.64h0.69v14.25h-0.69zM1098.45 873.64h0.69v14.25h-0.69zM1099.82 873.64h1.37v14.25h-1.37zM1101.88 873.64h0.69v14.25h-0.69zM1103.25 873.64h0.69v14.25h-0.69zM1104.62 873.64h1.37v14.25h-1.37zM1106.68 873.64h0.69v14.25h-0.69zM1108.05 873.64h0.69v14.25h-0.69zM1109.42 873.64h0.69v14.25h-0.69zM1111.47 873.64h0.69v14.25h-0.69zM1112.85 873.64h0.69v14.25h-0.69zM1116.27 873.64h0.69v14.25h-0.69zM1117.64 873.64h0.69v14.25h-0.69zM1125.87 873.64h0.69v14.25h-0.69zM1127.24 873.64h1.37v14.25h-1.37zM1129.3 873.64h1.37v14.25h-1.37zM1133.41 873.64h0.69v14.25h-0.69zM1134.78 873.64h0.69v14.25h-0.69zM1136.15 873.64h2.06v14.25h-2.06zM1139.58 873.64h1.37v14.25h-1.37zM1141.64 873.64h4.11v14.25h-4.11zM1147.12 873.64h0.69v14.25h-0.69zM1148.49 873.64h0.69v14.25h-0.69zM1149.86 873.64h0.69v14.25h-0.69zM1151.23 873.64h0.69v14.25h-0.69zM1153.29 873.64h1.37v14.25h-1.37zM1155.35 873.64h0.69v14.25h-0.69zM1156.72 873.64h1.37v14.25h-1.37zM1158.77 873.64h0.69v14.25h-0.69zM1160.15 873.64h0.69v14.25h-0.69zM1161.52 873.64h2.06v14.25h-2.06zM1164.26 873.64h0.69v14.25h-0.69zM1165.63 873.64h0.69v14.25h-0.69zM1167 873.64h0.69v14.25h-0.69zM1169.06 873.64h2.06v14.25h-2.06zM1171.8 873.64h0.69v14.25h-0.69zM1175.23 873.64h2.06v14.25h-2.06zM1181.4 873.64h0.69v14.25h-0.69zM1182.77 873.64h0.69v14.25h-0.69zM1186.19 873.64h0.69v14.25h-0.69zM1187.57 873.64h0.69v14.25h-0.69zM1188.94 873.64h1.37v14.25h-1.37zM1190.99 873.64h0.69v14.25h-0.69zM1192.36 873.64h0.69v14.25h-0.69zM1193.74 873.64h0.69v14.25h-0.69zM1195.79 873.64h0.69v14.25h-0.69zM1197.16 873.64h0.69v14.25h-0.69zM1199.22 873.64h0.69v14.25h-0.69zM1200.59 873.64h1.37v14.25h-1.37zM1203.33 873.64h1.37v14.25h-1.37zM1207.44 873.64h1.37v14.25h-1.37zM1209.5 873.64h0.69v14.25h-0.69zM1210.87 873.64h1.37v14.25h-1.37zM1212.93 873.64h1.37v14.25h-1.37zM1214.99 873.64h0.69v14.25h-0.69zM1216.36 873.64h1.37v14.25h-1.37zM1219.1 873.64h0.69v14.25h-0.69zM1220.47 873.64h0.69v14.25h-0.69zM1221.84 873.64h1.37v14.25h-1.37zM1223.9 873.64h0.69v14.25h-0.69zM1225.27 873.64h1.37v14.25h-1.37zM1227.32 873.64h0.69v14.25h-0.69zM1229.38 873.64h1.37v14.25h-1.37zM1231.44 873.64h0.69v14.25h-0.69zM1232.81 873.64h0.69v14.25h-0.69zM1234.18 873.64h0.69v14.25h-0.69zM1236.24 873.64h2.74v14.25h-2.74zM1239.66 873.64h0.69v14.25h-0.69zM1241.03 873.64h0.69v14.25h-0.69zM1243.09 873.64h0.69v14.25h-0.69zM1244.46 873.64h0.69v14.25h-0.69zM1245.83 873.64h0.69v14.25h-0.69zM1247.89 873.64h2.06v14.25h-2.06zM1251.32 873.64h0.69v14.25h-0.69zM1252.69 873.64h0.69v14.25h-0.69zM1254.06 873.64h1.37v14.25h-1.37zM1256.8 873.64h0.69v14.25h-0.69zM1258.17 873.64h0.69v14.25h-0.69zM1259.54 873.64h1.37v14.25h-1.37zM1261.6 873.64h0.69v14.25h-0.69zM1263.66 873.64h0.69v14.25h-0.69zM1265.03 873.64h0.69v14.25h-0.69zM1266.4 873.64h0.69v14.25h-0.69zM1269.14 873.64h1.37v14.25h-1.37zM1271.88 873.64h0.69v14.25h-0.69zM1273.25 873.64h0.69v14.25h-0.69zM1275.31 873.64h2.06v14.25h-2.06zM1278.05 873.64h2.06v14.25h-2.06zM1280.79 873.64h3.43v14.25h-3.43zM1285.59 873.64h3.43v14.25h-3.43zM1289.7 873.64h2.06v14.25h-2.06zM1293.13 873.64h1.37v14.25h-1.37zM1295.19 873.64h0.69v14.25h-0.69zM1296.56 873.64h0.69v14.25h-0.69zM1303.41 873.64h0.69v14.25h-0.69zM1305.47 873.64h0.69v14.25h-0.69zM1308.21 873.64h2.74v14.25h-2.74zM1312.33 873.64h1.37v14.25h-1.37zM1314.38 873.64h0.69v14.25h-0.69zM1315.75 873.64h0.69v14.25h-0.69zM1317.12 873.64h2.74v14.25h-2.74zM1320.55 873.64h1.37v14.25h-1.37zM1322.61 873.64h3.43v14.25h-3.43zM1328.09 873.64h0.69v14.25h-0.69zM1329.46 873.64h0.69v14.25h-0.69zM1330.84 873.64h2.74v14.25h-2.74zM1334.26 873.64h1.37v14.25h-1.37zM1336.32 873.64h2.06v14.25h-2.06zM1339.06 873.64h1.37v14.25h-1.37zM1341.8 873.64h0.69v14.25h-0.69zM1343.17 873.64h0.69v14.25h-0.69zM1345.23 873.64h0.69v14.25h-0.69zM1346.6 873.64h0.69v14.25h-0.69zM1348.66 873.64h1.37v14.25h-1.37zM1350.71 873.64h2.06v14.25h-2.06zM1353.46 873.64h0.69v14.25h-0.69zM1354.83 873.64h0.69v14.25h-0.69zM1356.2 873.64h0.69v14.25h-0.69zM1357.57 873.64h0.69v14.25h-0.69zM1358.94 873.64h1.37v14.25h-1.37zM1361.68 873.64h0.69v14.25h-0.69zM1365.11 873.64h0.69v14.25h-0.69zM1366.48 873.64h1.37v14.25h-1.37zM1368.54 873.64h1.37v14.25h-1.37zM1370.59 873.64h0.69v14.25h-0.69zM1371.97 873.64h1.37v14.25h-1.37zM1374.02 873.64h0.69v14.25h-0.69zM1376.08 873.64h0.69v14.25h-0.69zM1377.45 873.64h0.69v14.25h-0.69zM1380.19 873.64h6.17v14.25h-6.17zM1387.73 873.64h0.69v14.25h-0.69zM1390.47 873.64h1.37v14.25h-1.37zM1392.53 873.64h0.69v14.25h-0.69zM1393.9 873.64h0.69v14.25h-0.69zM1395.27 873.64h1.37v14.25h-1.37zM1397.33 873.64h0.69v14.25h-0.69zM1399.38 873.64h0.69v14.25h-0.69zM1400.76 873.64h1.37v14.25h-1.37zM1403.5 873.64h1.37v14.25h-1.37zM1405.55 873.64h2.06v14.25h-2.06zM1410.35 873.64h0.69v14.25h-0.69zM1412.41 873.64h0.69v14.25h-0.69zM1413.78 873.64h2.06v14.25h-2.06zM1416.52 873.64h0.69v14.25h-0.69zM1418.58 873.64h0.69v14.25h-0.69zM1426.8 873.64h0.69v14.25h-0.69zM1429.55 873.64h0.69v14.25h-0.69zM1432.97 873.64h0.69v14.25h-0.69zM1436.4 873.64h0.69v14.25h-0.69zM1437.77 873.64h0.69v14.25h-0.69zM1442.57 873.64h0.69v14.25h-0.69zM1447.37 873.64h0.69v14.25h-0.69zM1454.22 873.64h0.69v14.25h-0.69zM1460.39 873.64h0.69v14.25h-0.69zM1467.93 873.64h0.69v14.25h-0.69zM1469.31 873.64h0.69v14.25h-0.69zM1470.68 873.64h0.69v14.25h-0.69zM1474.1 873.64h0.69v14.25h-0.69zM1482.33 873.64h0.69v14.25h-0.69zM803 887.89h0.69v14.25h-0.69zM804.37 887.89h0.69v14.25h-0.69zM805.74 887.89h0.69v14.25h-0.69zM807.11 887.89h2.74v14.25h-2.74zM810.54 887.89h0.69v14.25h-0.69zM811.91 887.89h0.69v14.25h-0.69zM813.28 887.89h1.37v14.25h-1.37zM815.34 887.89h1.37v14.25h-1.37zM817.4 887.89h5.48v14.25h-5.48zM823.57 887.89h1.37v14.25h-1.37zM825.62 887.89h0.69v14.25h-0.69zM830.42 887.89h0.69v14.25h-0.69zM831.79 887.89h1.37v14.25h-1.37zM833.85 887.89h5.48v14.25h-5.48zM840.02 887.89h0.69v14.25h-0.69zM841.39 887.89h5.48v14.25h-5.48zM847.56 887.89h1.37v14.25h-1.37zM849.61 887.89h3.43v14.25h-3.43zM853.73 887.89h2.74v14.25h-2.74zM857.15 887.89h4.11v14.25h-4.11zM866.07 887.89h0.69v14.25h-0.69zM868.12 887.89h1.37v14.25h-1.37zM875.66 887.89h0.69v14.25h-0.69zM877.72 887.89h0.69v14.25h-0.69zM879.78 887.89h0.69v14.25h-0.69zM881.83 887.89h0.69v14.25h-0.69zM884.57 887.89h0.69v14.25h-0.69zM885.95 887.89h2.74v14.25h-2.74zM889.37 887.89h0.69v14.25h-0.69zM891.43 887.89h0.69v14.25h-0.69zM892.8 887.89h1.37v14.25h-1.37zM897.6 887.89h0.69v14.25h-0.69zM898.97 887.89h1.37v14.25h-1.37zM901.03 887.89h0.69v14.25h-0.69zM902.4 887.89h0.69v14.25h-0.69zM903.77 887.89h2.06v14.25h-2.06zM906.51 887.89h0.69v14.25h-0.69zM908.57 887.89h0.69v14.25h-0.69zM911.31 887.89h0.69v14.25h-0.69zM913.37 887.89h0.69v14.25h-0.69zM918.16 887.89h0.69v14.25h-0.69zM921.59 887.89h0.69v14.25h-0.69zM923.65 887.89h0.69v14.25h-0.69zM925.02 887.89h0.69v14.25h-0.69zM927.08 887.89h0.69v14.25h-0.69zM928.45 887.89h1.37v14.25h-1.37zM930.5 887.89h0.69v14.25h-0.69zM933.25 887.89h0.69v14.25h-0.69zM935.3 887.89h0.69v14.25h-0.69zM938.04 887.89h0.69v14.25h-0.69zM939.41 887.89h1.37v14.25h-1.37zM941.47 887.89h2.06v14.25h-2.06zM944.21 887.89h3.43v14.25h-3.43zM948.33 887.89h1.37v14.25h-1.37zM950.38 887.89h1.37v14.25h-1.37zM952.44 887.89h1.37v14.25h-1.37zM954.5 887.89h0.69v14.25h-0.69zM955.87 887.89h4.11v14.25h-4.11zM960.66 887.89h0.69v14.25h-0.69zM962.04 887.89h0.69v14.25h-0.69zM963.41 887.89h0.69v14.25h-0.69zM964.78 887.89h1.37v14.25h-1.37zM966.83 887.89h13.71v14.25h-13.71zM981.23 887.89h0.69v14.25h-0.69zM982.6 887.89h23.31v14.25h-23.31zM1006.59 887.89h11.65v14.25h-11.65zM1018.93 887.89h4.11v14.25h-4.11zM1023.73 887.89h4.8v14.25h-4.8zM1029.21 887.89h16.45v14.25h-16.45zM1047.04 887.89h4.11v14.25h-4.11zM1051.84 887.89h15.08v14.25h-15.08zM1067.6 887.89h2.06v14.25h-2.06zM1070.35 887.89h4.11v14.25h-4.11zM1075.14 887.89h2.06v14.25h-2.06zM1079.26 887.89h2.74v14.25h-2.74zM1082.68 887.89h13.02v14.25h-13.02zM1096.39 887.89h2.74v14.25h-2.74zM1099.82 887.89h3.43v14.25h-3.43zM1103.93 887.89h2.74v14.25h-2.74zM1107.36 887.89h8.91v14.25h-8.91zM1122.44 887.89h19.19v14.25h-19.19zM1142.32 887.89h3.43v14.25h-3.43zM1146.44 887.89h7.54v14.25h-7.54zM1156.03 887.89h8.91v14.25h-8.91zM1165.63 887.89h7.54v14.25h-7.54zM1175.23 887.89h0.69v14.25h-0.69zM1176.6 887.89h5.48v14.25h-5.48zM1183.45 887.89h16.45v14.25h-16.45zM1200.59 887.89h1.37v14.25h-1.37zM1202.65 887.89h4.8v14.25h-4.8zM1208.13 887.89h8.91v14.25h-8.91zM1217.73 887.89h0.69v14.25h-0.69zM1219.1 887.89h4.8v14.25h-4.8zM1225.95 887.89h2.06v14.25h-2.06zM1230.07 887.89h4.8v14.25h-4.8zM1235.55 887.89h10.28v14.25h-10.28zM1247.2 887.89h10.97v14.25h-10.97zM1258.86 887.89h0.69v14.25h-0.69zM1260.23 887.89h4.11v14.25h-4.11zM1269.83 887.89h87.74v14.25h-87.74zM1358.26 887.89h43.19v14.25h-43.19zM1402.13 887.89h20.57v14.25h-20.57zM1423.38 887.89h10.97v14.25h-10.97zM1435.03 887.89h25.36v14.25h-25.36zM1461.08 887.89h2.06v14.25h-2.06zM1464.51 887.89h2.06v14.25h-2.06zM1467.25 887.89h0.69v14.25h-0.69zM1469.31 887.89h0.69v14.25h-0.69zM1470.68 887.89h2.06v14.25h-2.06zM1473.42 887.89h0.69v14.25h-0.69zM1474.79 887.89h1.37v14.25h-1.37zM1478.22 887.89h0.69v14.25h-0.69zM1479.59 887.89h0.69v14.25h-0.69zM1480.96 887.89h0.69v14.25h-0.69zM1483.02 887.89h0.69v14.25h-0.69zM1484.39 887.89h1.37v14.25h-1.37zM1486.44 887.89h1.37v14.25h-1.37zM943.53 902.14h1.37v14.25h-1.37zM946.27 902.14h2.06v14.25h-2.06zM933.93 916.4h0.69v14.25h-0.69zM935.3 916.4h0.69v14.25h-0.69zM938.04 916.4h1.37v14.25h-1.37zM940.1 916.4h0.69v14.25h-0.69zM941.47 916.4h0.69v14.25h-0.69zM968.21 916.4h0.69v14.25h-0.69zM974.38 916.4h0.69v14.25h-0.69zM983.97 916.4h0.69v14.25h-0.69zM992.88 916.4h0.69v14.25h-0.69zM998.37 916.4h0.69v14.25h-0.69zM1002.48 916.4h0.69v14.25h-0.69zM1010.02 916.4h0.69v14.25h-0.69zM1022.36 916.4h0.69v14.25h-0.69zM1059.38 916.4h0.69v14.25h-0.69zM1066.92 916.4h0.69v14.25h-0.69zM1068.29 916.4h0.69v14.25h-0.69zM1073.09 916.4h0.69v14.25h-0.69zM1083.37 916.4h2.06v14.25h-2.06zM1089.54 916.4h0.69v14.25h-0.69zM1098.45 916.4h0.69v14.25h-0.69zM1103.93 916.4h0.69v14.25h-0.69zM1105.99 916.4h0.69v14.25h-0.69zM1115.59 916.4h0.69v14.25h-0.69zM1124.5 916.4h0.69v14.25h-0.69zM1394.59 916.4h0.69v14.25h-0.69zM1415.15 916.4h0.69v14.25h-0.69zM1422.01 916.4h0.69v14.25h-0.69zM1431.6 916.4h0.69v14.25h-0.69zM1461.08 916.4h0.69v14.25h-0.69zM804.37 930.65h2.74v14.25h-2.74zM807.8 930.65h4.8v14.25h-4.8zM814.65 930.65h2.74v14.25h-2.74zM823.57 930.65h0.69v14.25h-0.69zM824.94 930.65h0.69v14.25h-0.69zM827.68 930.65h5.48v14.25h-5.48zM837.27 930.65h1.37v14.25h-1.37zM840.7 930.65h2.74v14.25h-2.74zM845.5 930.65h4.11v14.25h-4.11zM852.36 930.65h1.37v14.25h-1.37zM854.41 930.65h6.17v14.25h-6.17zM863.32 930.65h0.69v14.25h-0.69zM864.7 930.65h0.69v14.25h-0.69zM867.44 930.65h4.8v14.25h-4.8zM874.29 930.65h3.43v14.25h-3.43zM879.78 930.65h2.74v14.25h-2.74zM885.26 930.65h3.43v14.25h-3.43zM890.74 930.65h2.74v14.25h-2.74zM894.86 930.65h0.69v14.25h-0.69zM896.23 930.65h4.8v14.25h-4.8zM903.08 930.65h1.37v14.25h-1.37zM911.31 930.65h1.37v14.25h-1.37zM919.53 930.65h1.37v14.25h-1.37zM925.02 930.65h1.37v14.25h-1.37zM931.87 930.65h2.74v14.25h-2.74zM936.67 930.65h3.43v14.25h-3.43zM945.58 930.65h0.69v14.25h-0.69zM947.64 930.65h0.69v14.25h-0.69zM949.01 930.65h2.06v14.25h-2.06zM965.46 930.65h0.69v14.25h-0.69zM974.38 930.65h0.69v14.25h-0.69zM992.2 930.65h2.06v14.25h-2.06zM1081.31 930.65h1.37v14.25h-1.37zM1087.48 930.65h0.69v14.25h-0.69zM1092.97 930.65h0.69v14.25h-0.69zM1097.08 930.65h0.69v14.25h-0.69zM1108.05 930.65h0.69v14.25h-0.69zM1109.42 930.65h0.69v14.25h-0.69zM1113.53 930.65h0.69v14.25h-0.69zM1127.24 930.65h0.69v14.25h-0.69zM1139.58 930.65h0.69v14.25h-0.69zM1147.12 930.65h0.69v14.25h-0.69zM1188.94 930.65h0.69v14.25h-0.69zM1192.36 930.65h0.69v14.25h-0.69zM1194.42 930.65h0.69v14.25h-0.69zM1196.48 930.65h0.69v14.25h-0.69zM1219.1 930.65h0.69v14.25h-0.69zM1258.17 930.65h0.69v14.25h-0.69zM1278.05 930.65h0.69v14.25h-0.69zM1288.33 930.65h0.69v14.25h-0.69zM1299.3 930.65h0.69v14.25h-0.69zM1308.9 930.65h0.69v14.25h-0.69zM1354.83 930.65h1.37v14.25h-1.37zM1369.22 930.65h1.37v14.25h-1.37zM1382.25 930.65h0.69v14.25h-0.69zM1395.27 930.65h0.69v14.25h-0.69zM1400.76 930.65h0.69v14.25h-0.69zM1404.87 930.65h0.69v14.25h-0.69zM1435.03 930.65h3.43v14.25h-3.43zM1439.83 930.65h0.69v14.25h-0.69zM1441.2 930.65h0.69v14.25h-0.69zM1444.63 930.65h2.06v14.25h-2.06zM1447.37 930.65h1.37v14.25h-1.37zM1450.11 930.65h1.37v14.25h-1.37zM1452.17 930.65h0.69v14.25h-0.69zM1453.54 930.65h0.69v14.25h-0.69zM1455.6 930.65h0.69v14.25h-0.69zM1458.34 930.65h1.37v14.25h-1.37zM1460.39 930.65h0.69v14.25h-0.69zM1461.77 930.65h0.69v14.25h-0.69zM1463.14 930.65h2.06v14.25h-2.06zM1468.62 930.65h1.37v14.25h-1.37zM1470.68 930.65h0.69v14.25h-0.69zM1473.42 930.65h2.74v14.25h-2.74zM1476.85 930.65h1.37v14.25h-1.37zM1480.27 930.65h5.48v14.25h-5.48zM1486.44 930.65h1.37v14.25h-1.37z" fill="#fdbb84"/>
<path d="M815.34 588.6h0.69v14.25h-0.69zM818.08 588.6h0.69v14.25h-0.69zM820.14 588.6h0.69v14.25h-0.69zM914.74 588.6h1.37v14.25h-1.37zM923.65 588.6h0.69v14.25h-0.69zM927.76 588.6h0.69v14.25h-0.69zM935.3 588.6h1.37v14.25h-1.37zM962.04 588.6h0.69v14.25h-0.69zM968.89 588.6h0.69v14.25h-0.69zM973 588.6h0.69v14.25h-0.69zM978.49 588.6h1.37v14.25h-1.37zM988.09 588.6h0.69v14.25h-0.69zM1005.22 588.6h0.69v14.25h-0.69zM1006.59 588.6h0.69v14.25h-0.69zM1018.25 588.6h0.69v14.25h-0.69zM1025.79 588.6h0.69v14.25h-0.69zM1027.16 588.6h1.37v14.25h-1.37zM1041.55 588.6h0.69v14.25h-0.69zM1049.09 588.6h0.69v14.25h-0.69zM1051.15 588.6h1.37v14.25h-1.37zM1084.74 588.6h1.37v14.25h-1.37zM1096.39 588.6h0.69v14.25h-0.69zM1118.33 588.6h0.69v14.25h-0.69zM1127.24 588.6h1.37v14.25h-1.37zM804.37 617.1h0.69v14.25h-0.69zM805.74 617.1h2.74v14.25h-2.74zM809.17 617.1h0.69v14.25h-0.69zM811.91 617.1h1.37v14.25h-1.37zM813.97 617.1h4.11v14.25h-4.11zM820.14 617.1h6.86v14.25h-6.86zM874.98 617.1h0.69v14.25h-0.69zM881.83 617.1h0.69v14.25h-0.69zM884.57 617.1h0.69v14.25h-0.69zM952.44 617.1h2.06v14.25h-2.06zM956.55 617.1h0.69v14.25h-0.69zM964.78 617.1h2.06v14.25h-2.06zM967.52 617.1h0.69v14.25h-0.69zM977.8 617.1h1.37v14.25h-1.37zM980.54 617.1h0.69v14.25h-0.69zM981.92 617.1h0.69v14.25h-0.69zM985.34 617.1h2.06v14.25h-2.06zM988.09 617.1h0.69v14.25h-0.69zM990.83 617.1h1.37v14.25h-1.37zM1038.13 617.1h0.69v14.25h-0.69zM1041.55 617.1h0.69v14.25h-0.69zM1047.04 617.1h0.69v14.25h-0.69zM1054.58 617.1h2.06v14.25h-2.06zM1058.01 617.1h1.37v14.25h-1.37zM1077.89 617.1h1.37v14.25h-1.37zM1084.74 617.1h0.69v14.25h-0.69zM1086.8 617.1h1.37v14.25h-1.37zM1093.65 617.1h0.69v14.25h-0.69zM1112.85 617.1h0.69v14.25h-0.69zM1122.44 617.1h0.69v14.25h-0.69zM1123.81 617.1h0.69v14.25h-0.69zM1151.92 617.1h7.54v14.25h-7.54zM1160.83 617.1h8.91v14.25h-8.91zM1208.13 617.1h1.37v14.25h-1.37zM1210.19 617.1h0.69v14.25h-0.69zM1212.24 617.1h21.94v14.25h-21.94zM1234.87 617.1h1.37v14.25h-1.37zM1236.92 617.1h4.8v14.25h-4.8zM1242.41 617.1h17.14v14.25h-17.14zM1260.23 617.1h10.28v14.25h-10.28zM1271.2 617.1h2.06v14.25h-2.06zM1278.05 617.1h2.74v14.25h-2.74zM1282.85 617.1h6.86v14.25h-6.86zM1293.13 617.1h15.08v14.25h-15.08zM1310.27 617.1h2.06v14.25h-2.06zM1313.01 617.1h4.11v14.25h-4.11zM1319.18 617.1h6.86v14.25h-6.86zM1487.13 617.1h0.69v14.25h-0.69zM1443.26 631.36h0.69v14.25h-0.69zM883.89 645.61h2.74v14.25h-2.74zM1443.26 659.86h1.37v14.25h-1.37zM949.7 688.36h3.43v14.25h-3.43zM953.81 688.36h0.69v14.25h-0.69zM955.18 688.36h0.69v14.25h-0.69zM968.21 688.36h0.69v14.25h-0.69zM972.32 688.36h2.74v14.25h-2.74zM977.12 688.36h0.69v14.25h-0.69zM978.49 688.36h0.69v14.25h-0.69zM979.86 688.36h1.37v14.25h-1.37zM988.77 688.36h1.37v14.25h-1.37zM992.88 688.36h2.06v14.25h-2.06zM999.05 688.36h2.74v14.25h-2.74zM1007.28 688.36h1.37v14.25h-1.37zM1011.39 688.36h2.06v14.25h-2.06zM1014.13 688.36h1.37v14.25h-1.37zM1018.25 688.36h2.74v14.25h-2.74zM1026.47 688.36h0.69v14.25h-0.69zM1029.21 688.36h0.69v14.25h-0.69zM1033.33 688.36h0.69v14.25h-0.69zM1037.44 688.36h1.37v14.25h-1.37zM1039.5 688.36h2.74v14.25h-2.74zM1044.98 688.36h1.37v14.25h-1.37zM1052.52 688.36h0.69v14.25h-0.69zM1056.63 688.36h0.69v14.25h-0.69zM1060.06 688.36h0.69v14.25h-0.69zM1061.43 688.36h1.37v14.25h-1.37zM1063.49 688.36h0.69v14.25h-0.69zM1068.97 688.36h0.69v14.25h-0.69zM1073.09 688.36h2.06v14.25h-2.06zM1076.51 688.36h0.69v14.25h-0.69zM1086.8 688.36h1.37v14.25h-1.37zM1089.54 688.36h2.74v14.25h-2.74zM1094.34 688.36h3.43v14.25h-3.43zM1099.82 688.36h1.37v14.25h-1.37zM1103.25 688.36h2.74v14.25h-2.74zM1110.1 688.36h0.69v14.25h-0.69zM1113.53 688.36h2.74v14.25h-2.74zM1118.33 688.36h2.06v14.25h-2.06zM1122.44 688.36h2.74v14.25h-2.74zM1125.87 688.36h2.74v14.25h-2.74zM1129.3 688.36h0.69v14.25h-0.69zM1132.73 688.36h1.37v14.25h-1.37zM1134.78 688.36h0.69v14.25h-0.69zM1136.15 688.36h0.69v14.25h-0.69zM1145.75 688.36h2.74v14.25h-2.74zM1149.86 688.36h1.37v14.25h-1.37zM1151.92 688.36h2.06v14.25h-2.06zM1156.03 688.36h1.37v14.25h-1.37zM1161.52 688.36h1.37v14.25h-1.37zM1171.11 688.36h0.69v14.25h-0.69zM1173.17 688.36h2.74v14.25h-2.74zM1184.14 688.36h2.06v14.25h-2.06zM1187.57 688.36h1.37v14.25h-1.37zM1192.36 688.36h0.69v14.25h-0.69zM1193.74 688.36h0.69v14.25h-0.69zM1195.11 688.36h2.06v14.25h-2.06zM1204.02 688.36h2.06v14.25h-2.06zM1210.19 688.36h4.8v14.25h-4.8zM1216.36 688.36h0.69v14.25h-0.69zM1219.1 688.36h2.06v14.25h-2.06zM1225.27 688.36h1.37v14.25h-1.37zM1231.44 688.36h2.74v14.25h-2.74zM1240.35 688.36h1.37v14.25h-1.37zM1242.41 688.36h0.69v14.25h-0.69zM1246.52 688.36h0.69v14.25h-0.69zM1250.63 688.36h0.69v14.25h-0.69zM1252 688.36h1.37v14.25h-1.37zM1254.06 688.36h0.69v14.25h-0.69zM1255.43 688.36h1.37v14.25h-1.37zM1262.29 688.36h1.37v14.25h-1.37zM1265.03 688.36h0.69v14.25h-0.69zM1267.77 688.36h1.37v14.25h-1.37zM1276.68 688.36h1.37v14.25h-1.37zM1278.74 688.36h0.69v14.25h-0.69zM1280.11 688.36h2.06v14.25h-2.06zM1294.5 688.36h0.69v14.25h-0.69zM1298.62 688.36h2.74v14.25h-2.74zM1308.21 688.36h1.37v14.25h-1.37zM1317.12 688.36h2.06v14.25h-2.06zM1321.92 688.36h0.69v14.25h-0.69zM911.99 731.12h0.69v14.25h-0.69zM922.28 731.12h8.91v14.25h-8.91zM826.99 745.37h0.69v14.25h-0.69zM829.73 745.37h1.37v14.25h-1.37zM834.53 745.37h0.69v14.25h-0.69zM841.39 745.37h0.69v14.25h-0.69zM845.5 745.37h0.69v14.25h-0.69zM850.3 745.37h0.69v14.25h-0.69zM860.58 745.37h0.69v14.25h-0.69zM864.01 745.37h1.37v14.25h-1.37zM869.49 745.37h1.37v14.25h-1.37zM882.52 745.37h2.74v14.25h-2.74zM888.69 745.37h1.37v14.25h-1.37zM909.25 745.37h1.37v14.25h-1.37zM911.31 759.62h0.69v14.25h-0.69zM940.79 759.62h0.69v14.25h-0.69zM951.07 759.62h0.69v14.25h-0.69zM952.44 759.62h0.69v14.25h-0.69zM953.81 759.62h0.69v14.25h-0.69zM960.66 759.62h0.69v14.25h-0.69zM964.09 759.62h0.69v14.25h-0.69zM967.52 759.62h2.74v14.25h-2.74zM981.23 759.62h1.37v14.25h-1.37zM983.97 759.62h0.69v14.25h-0.69zM987.4 759.62h1.37v14.25h-1.37zM992.88 759.62h0.69v14.25h-0.69zM1006.59 759.62h0.69v14.25h-0.69zM1013.45 759.62h0.69v14.25h-0.69zM1016.19 759.62h0.69v14.25h-0.69zM1017.56 759.62h0.69v14.25h-0.69zM1026.47 759.62h0.69v14.25h-0.69zM1031.27 759.62h1.37v14.25h-1.37zM1036.07 759.62h1.37v14.25h-1.37zM1042.24 759.62h1.37v14.25h-1.37zM1044.3 759.62h1.37v14.25h-1.37zM1046.35 759.62h0.69v14.25h-0.69zM1047.72 759.62h0.69v14.25h-0.69zM1049.09 759.62h1.37v14.25h-1.37zM1051.84 759.62h0.69v14.25h-0.69zM1055.95 759.62h2.74v14.25h-2.74zM1059.38 759.62h2.74v14.25h-2.74zM1066.23 759.62h1.37v14.25h-1.37zM1074.46 759.62h2.06v14.25h-2.06zM1082.68 759.62h0.69v14.25h-0.69zM1085.43 759.62h0.69v14.25h-0.69zM1088.85 759.62h0.69v14.25h-0.69zM1090.22 759.62h1.37v14.25h-1.37zM1094.34 759.62h2.06v14.25h-2.06zM1101.88 759.62h0.69v14.25h-0.69zM1103.25 759.62h2.06v14.25h-2.06zM1108.73 759.62h0.69v14.25h-0.69zM1110.1 759.62h0.69v14.25h-0.69zM1114.22 759.62h3.43v14.25h-3.43zM1118.33 759.62h3.43v14.25h-3.43zM1123.81 759.62h0.69v14.25h-0.69zM1126.56 759.62h0.69v14.25h-0.69zM1127.93 759.62h0.69v14.25h-0.69zM1139.58 759.62h0.69v14.25h-0.69zM1143.69 759.62h0.69v14.25h-0.69zM1146.44 759.62h3.43v14.25h-3.43zM1151.23 759.62h0.69v14.25h-0.69zM1156.72 759.62h0.69v14.25h-0.69zM1160.83 759.62h0.69v14.25h-0.69zM1164.26 759.62h0.69v14.25h-0.69zM1165.63 759.62h1.37v14.25h-1.37zM1168.37 759.62h1.37v14.25h-1.37zM1170.43 759.62h2.06v14.25h-2.06zM1173.17 759.62h0.69v14.25h-0.69zM1175.91 759.62h2.74v14.25h-2.74zM1181.4 759.62h1.37v14.25h-1.37zM1184.82 759.62h1.37v14.25h-1.37zM1188.94 759.62h1.37v14.25h-1.37zM1190.99 759.62h2.74v14.25h-2.74zM1197.85 759.62h1.37v14.25h-1.37zM1205.39 759.62h0.69v14.25h-0.69zM1209.5 759.62h1.37v14.25h-1.37zM1211.56 759.62h1.37v14.25h-1.37zM1214.99 759.62h2.06v14.25h-2.06zM1217.73 759.62h0.69v14.25h-0.69zM1219.78 759.62h1.37v14.25h-1.37zM1223.21 759.62h0.69v14.25h-0.69zM1225.95 759.62h1.37v14.25h-1.37zM1230.07 759.62h1.37v14.25h-1.37zM1232.12 759.62h2.06v14.25h-2.06zM1234.87 759.62h0.69v14.25h-0.69zM1239.66 759.62h1.37v14.25h-1.37zM1247.2 759.62h2.06v14.25h-2.06zM1249.95 759.62h1.37v14.25h-1.37zM1252 759.62h1.37v14.25h-1.37zM1256.12 759.62h0.69v14.25h-0.69zM1257.49 759.62h3.43v14.25h-3.43zM1261.6 759.62h0.69v14.25h-0.69zM1262.97 759.62h0.69v14.25h-0.69zM1265.71 759.62h0.69v14.25h-0.69zM1269.83 759.62h2.06v14.25h-2.06zM1272.57 759.62h3.43v14.25h-3.43zM1279.42 759.62h0.69v14.25h-0.69zM1282.16 759.62h0.69v14.25h-0.69zM1285.59 759.62h3.43v14.25h-3.43zM1293.82 759.62h1.37v14.25h-1.37zM1297.25 759.62h2.74v14.25h-2.74zM1302.04 759.62h1.37v14.25h-1.37zM1305.47 759.62h0.69v14.25h-0.69zM1310.96 759.62h1.37v14.25h-1.37zM1313.01 759.62h0.69v14.25h-0.69zM1315.75 759.62h0.69v14.25h-0.69zM1322.61 759.62h0.69v14.25h-0.69zM1326.04 759.62h1.37v14.25h-1.37zM1330.15 759.62h1.37v14.25h-1.37zM1332.21 759.62h2.06v14.25h-2.06zM1336.32 759.62h0.69v14.25h-0.69zM1337.69 759.62h2.06v14.25h-2.06zM1340.43 759.62h1.37v14.25h-1.37zM1343.86 759.62h2.74v14.25h-2.74zM1352.09 759.62h1.37v14.25h-1.37zM1358.26 759.62h0.69v14.25h-0.69zM1359.63 759.62h0.69v14.25h-0.69zM1362.37 759.62h0.69v14.25h-0.69zM1367.85 759.62h2.06v14.25h-2.06zM1375.39 759.62h2.06v14.25h-2.06zM1379.51 759.62h1.37v14.25h-1.37zM1381.56 759.62h2.74v14.25h-2.74zM1384.99 759.62h1.37v14.25h-1.37zM1402.81 759.62h1.37v14.25h-1.37zM1406.24 759.62h2.06v14.25h-2.06zM1416.52 759.62h0.69v14.25h-0.69zM1422.01 759.62h0.69v14.25h-0.69zM1427.49 759.62h3.43v14.25h-3.43zM1432.29 759.62h0.69v14.25h-0.69zM1433.66 759.62h0.69v14.25h-0.69zM1435.03 759.62h1.37v14.25h-1.37zM1439.14 759.62h2.06v14.25h-2.06zM1446 759.62h0.69v14.25h-0.69zM1447.37 759.62h0.69v14.25h-0.69zM1448.74 759.62h0.69v14.25h-0.69zM1451.48 759.62h0.69v14.25h-0.69zM1453.54 759.62h1.37v14.25h-1.37zM1455.6 759.62h3.43v14.25h-3.43zM1460.39 759.62h0.69v14.25h-0.69zM1463.82 759.62h1.37v14.25h-1.37zM1470.68 759.62h1.37v14.25h-1.37zM1475.48 759.62h2.06v14.25h-2.06zM1478.9 759.62h0.69v14.25h-0.69zM1480.27 759.62h2.06v14.25h-2.06zM909.25 773.88h0.69v14.25h-0.69zM918.16 773.88h0.69v14.25h-0.69zM805.06 845.14h4.8v14.25h-4.8zM827.68 845.14h1.37v14.25h-1.37zM831.11 845.14h15.08v14.25h-15.08zM847.56 845.14h12.34v14.25h-12.34zM860.58 845.14h4.11v14.25h-4.11zM866.75 845.14h8.23v14.25h-8.23zM877.03 845.14h15.77v14.25h-15.77zM894.86 845.14h2.74v14.25h-2.74zM898.28 845.14h11.65v14.25h-11.65zM910.62 845.14h8.23v14.25h-8.23zM919.53 845.14h5.48v14.25h-5.48zM925.7 845.14h9.6v14.25h-9.6zM951.07 845.14h0.69v14.25h-0.69zM966.83 845.14h2.06v14.25h-2.06zM970.26 845.14h4.11v14.25h-4.11zM981.23 845.14h4.11v14.25h-4.11zM986.71 845.14h0.69v14.25h-0.69zM992.88 845.14h1.37v14.25h-1.37zM994.94 845.14h6.17v14.25h-6.17zM1003.85 845.14h2.06v14.25h-2.06zM1008.65 845.14h4.11v14.25h-4.11zM1014.82 845.14h3.43v14.25h-3.43zM1019.62 845.14h4.11v14.25h-4.11zM1026.47 845.14h3.43v14.25h-3.43zM1031.96 845.14h4.8v14.25h-4.8zM1038.81 845.14h1.37v14.25h-1.37zM1042.92 845.14h5.48v14.25h-5.48zM1049.09 845.14h0.69v14.25h-0.69zM1051.15 845.14h2.74v14.25h-2.74zM1055.26 845.14h1.37v14.25h-1.37zM1057.32 845.14h0.69v14.25h-0.69zM1061.43 845.14h1.37v14.25h-1.37zM1064.18 845.14h5.48v14.25h-5.48zM1076.51 845.14h3.43v14.25h-3.43zM1080.63 845.14h2.06v14.25h-2.06zM1084.06 845.14h0.69v14.25h-0.69zM1086.11 845.14h5.48v14.25h-5.48zM1092.97 845.14h2.74v14.25h-2.74zM1096.39 845.14h2.06v14.25h-2.06zM1100.51 845.14h1.37v14.25h-1.37zM1103.93 845.14h2.06v14.25h-2.06zM1108.05 845.14h2.06v14.25h-2.06zM1110.79 845.14h0.69v14.25h-0.69zM1113.53 845.14h2.74v14.25h-2.74zM1116.96 845.14h1.37v14.25h-1.37zM1121.76 845.14h2.06v14.25h-2.06zM1131.35 845.14h0.69v14.25h-0.69zM1136.15 845.14h6.86v14.25h-6.86zM1145.06 845.14h1.37v14.25h-1.37zM1147.81 845.14h1.37v14.25h-1.37zM1151.23 845.14h0.69v14.25h-0.69zM1153.98 845.14h2.74v14.25h-2.74zM1169.06 845.14h1.37v14.25h-1.37zM1175.91 845.14h1.37v14.25h-1.37zM1178.65 845.14h2.74v14.25h-2.74zM1183.45 845.14h2.06v14.25h-2.06zM1188.25 845.14h0.69v14.25h-0.69zM1192.36 845.14h2.06v14.25h-2.06zM1195.11 845.14h0.69v14.25h-0.69zM1197.16 845.14h2.74v14.25h-2.74zM1201.96 845.14h5.48v14.25h-5.48zM1209.5 845.14h1.37v14.25h-1.37zM1211.56 845.14h3.43v14.25h-3.43zM1217.04 845.14h30.16v14.25h-30.16zM1253.37 845.14h3.43v14.25h-3.43zM1257.49 845.14h0.69v14.25h-0.69zM1258.86 845.14h0.69v14.25h-0.69zM1265.03 845.14h2.06v14.25h-2.06zM1269.83 845.14h0.69v14.25h-0.69zM1277.37 845.14h3.43v14.25h-3.43zM1282.16 845.14h8.23v14.25h-8.23zM1291.76 845.14h1.37v14.25h-1.37zM1295.87 845.14h12.34v14.25h-12.34zM1308.9 845.14h1.37v14.25h-1.37zM1312.33 845.14h2.06v14.25h-2.06zM1315.07 845.14h1.37v14.25h-1.37zM1320.55 845.14h6.86v14.25h-6.86zM1330.15 845.14h1.37v14.25h-1.37zM1333.58 845.14h0.69v14.25h-0.69zM1335.63 845.14h2.74v14.25h-2.74zM1339.06 845.14h0.69v14.25h-0.69zM1347.29 845.14h6.86v14.25h-6.86zM1356.2 845.14h0.69v14.25h-0.69zM1357.57 845.14h4.8v14.25h-4.8zM1365.11 845.14h3.43v14.25h-3.43zM1371.97 845.14h1.37v14.25h-1.37zM1382.25 845.14h2.74v14.25h-2.74zM1386.36 845.14h5.48v14.25h-5.48zM1394.59 845.14h3.43v14.25h-3.43zM1399.38 845.14h18.51v14.25h-18.51zM1418.58 845.14h2.06v14.25h-2.06zM1421.32 845.14h0.69v14.25h-0.69zM1422.69 845.14h0.69v14.25h-0.69zM1427.49 845.14h2.74v14.25h-2.74zM1434.35 845.14h0.69v14.25h-0.69zM1436.4 845.14h4.8v14.25h-4.8zM1446.68 845.14h0.69v14.25h-0.69zM1448.74 845.14h2.06v14.25h-2.06zM1454.22 845.14h5.48v14.25h-5.48zM1462.45 845.14h0.69v14.25h-0.69zM1463.82 845.14h1.37v14.25h-1.37zM1469.31 845.14h4.11v14.25h-4.11zM1477.53 845.14h8.91v14.25h-8.91zM946.27 859.39h2.06v14.25h-2.06zM1045.67 887.89h1.37v14.25h-1.37zM1077.2 887.89h1.37v14.25h-1.37zM1095.71 887.89h0.69v14.25h-0.69zM1116.96 887.89h5.48v14.25h-5.48zM1153.98 887.89h2.06v14.25h-2.06zM1164.94 887.89h0.69v14.25h-0.69zM1173.86 887.89h1.37v14.25h-1.37zM1182.08 887.89h0.69v14.25h-0.69zM1223.9 887.89h2.06v14.25h-2.06zM1228.01 887.89h2.06v14.25h-2.06zM1245.83 887.89h0.69v14.25h-0.69zM1258.17 887.89h0.69v14.25h-0.69zM944.9 902.14h1.37v14.25h-1.37zM803 930.65h0.69v14.25h-0.69zM812.6 930.65h1.37v14.25h-1.37zM817.4 930.65h0.69v14.25h-0.69zM818.77 930.65h0.69v14.25h-0.69zM820.14 930.65h0.69v14.25h-0.69zM825.62 930.65h2.06v14.25h-2.06zM833.16 930.65h2.74v14.25h-2.74zM838.65 930.65h2.06v14.25h-2.06zM843.44 930.65h2.06v14.25h-2.06zM849.61 930.65h2.74v14.25h-2.74zM853.73 930.65h0.69v14.25h-0.69zM866.07 930.65h1.37v14.25h-1.37zM872.24 930.65h2.06v14.25h-2.06zM878.4 930.65h1.37v14.25h-1.37zM889.37 930.65h1.37v14.25h-1.37zM901.71 930.65h1.37v14.25h-1.37zM904.45 930.65h6.17v14.25h-6.17zM913.37 930.65h2.74v14.25h-2.74zM920.91 930.65h3.43v14.25h-3.43zM926.39 930.65h2.06v14.25h-2.06zM929.13 930.65h2.74v14.25h-2.74zM934.62 930.65h1.37v14.25h-1.37zM940.1 930.65h2.74v14.25h-2.74zM943.53 930.65h1.37v14.25h-1.37zM1120.39 930.65h2.74v14.25h-2.74zM1465.19 930.65h2.74v14.25h-2.74zM1469.99 930.65h0.69v14.25h-0.69zM1471.36 930.65h2.06v14.25h-2.06zM1478.9 930.65h0.69v14.25h-0.69z" fill="#fc8d59"/>
<path d="M803 617.1h0.69v14.25h-0.69zM810.54 617.1h1.37v14.25h-1.37zM818.08 617.1h1.37v14.25h-1.37zM950.38 617.1h0.69v14.25h-0.69zM970.95 617.1h2.06v14.25h-2.06zM973.69 617.1h2.06v14.25h-2.06zM1159.46 617.1h1.37v14.25h-1.37zM1210.87 617.1h1.37v14.25h-1.37zM1241.72 617.1h0.69v14.25h-0.69zM1273.25 617.1h2.06v14.25h-2.06zM909.25 759.62h2.06v14.25h-2.06zM1032.64 759.62h1.37v14.25h-1.37zM1040.87 759.62h0.69v14.25h-0.69zM1050.47 759.62h0.69v14.25h-0.69zM1053.89 759.62h1.37v14.25h-1.37zM1062.12 759.62h1.37v14.25h-1.37zM1068.29 759.62h3.43v14.25h-3.43zM1077.2 759.62h2.74v14.25h-2.74zM1080.63 759.62h1.37v14.25h-1.37zM1096.39 759.62h1.37v14.25h-1.37zM1112.85 759.62h0.69v14.25h-0.69zM1121.76 759.62h2.06v14.25h-2.06zM1128.61 759.62h0.69v14.25h-0.69zM1134.78 759.62h0.69v14.25h-0.69zM1136.15 759.62h0.69v14.25h-0.69zM1145.06 759.62h0.69v14.25h-0.69zM1155.35 759.62h0.69v14.25h-0.69zM1157.4 759.62h0.69v14.25h-0.69zM1183.45 759.62h0.69v14.25h-0.69zM1194.42 759.62h0.69v14.25h-0.69zM1201.96 759.62h0.69v14.25h-0.69zM1203.33 759.62h1.37v14.25h-1.37zM1221.84 759.62h0.69v14.25h-0.69zM1228.01 759.62h0.69v14.25h-0.69zM1229.38 759.62h0.69v14.25h-0.69zM1254.06 759.62h0.69v14.25h-0.69zM1278.05 759.62h1.37v14.25h-1.37zM1292.45 759.62h0.69v14.25h-0.69zM1300.67 759.62h0.69v14.25h-0.69zM1304.1 759.62h0.69v14.25h-0.69zM1306.16 759.62h1.37v14.25h-1.37zM1323.98 759.62h1.37v14.25h-1.37zM1329.46 759.62h0.69v14.25h-0.69zM1354.14 759.62h2.06v14.25h-2.06zM1356.88 759.62h0.69v14.25h-0.69zM1360.31 759.62h2.06v14.25h-2.06zM1365.8 759.62h1.37v14.25h-1.37zM1371.97 759.62h0.69v14.25h-0.69zM1377.45 759.62h1.37v14.25h-1.37zM1391.16 759.62h0.69v14.25h-0.69zM1398.7 759.62h1.37v14.25h-1.37zM1411.72 759.62h0.69v14.25h-0.69zM1452.17 759.62h0.69v14.25h-0.69zM1459.02 759.62h0.69v14.25h-0.69zM1469.31 759.62h0.69v14.25h-0.69zM1483.02 759.62h0.69v14.25h-0.69zM964.78 845.14h0.69v14.25h-0.69zM974.38 845.14h6.17v14.25h-6.17zM987.4 845.14h5.48v14.25h-5.48zM1001.11 845.14h2.74v14.25h-2.74zM1005.91 845.14h2.74v14.25h-2.74zM1012.76 845.14h0.69v14.25h-0.69zM1018.25 845.14h1.37v14.25h-1.37zM1023.73 845.14h2.74v14.25h-2.74zM1029.9 845.14h1.37v14.25h-1.37zM1036.76 845.14h2.06v14.25h-2.06zM1040.18 845.14h2.74v14.25h-2.74zM1049.78 845.14h1.37v14.25h-1.37zM1054.58 845.14h0.69v14.25h-0.69zM1058.01 845.14h1.37v14.25h-1.37zM1062.8 845.14h1.37v14.25h-1.37zM1069.66 845.14h2.74v14.25h-2.74zM1074.46 845.14h2.06v14.25h-2.06zM1084.74 845.14h1.37v14.25h-1.37zM1091.6 845.14h1.37v14.25h-1.37zM1098.45 845.14h2.06v14.25h-2.06zM1101.88 845.14h2.06v14.25h-2.06zM1105.99 845.14h2.06v14.25h-2.06zM1110.1 845.14h0.69v14.25h-0.69zM1111.47 845.14h2.06v14.25h-2.06zM1123.81 845.14h3.43v14.25h-3.43zM1132.04 845.14h4.11v14.25h-4.11zM1143.01 845.14h2.06v14.25h-2.06zM1149.18 845.14h2.06v14.25h-2.06zM1151.92 845.14h2.06v14.25h-2.06zM1156.72 845.14h2.06v14.25h-2.06zM1161.52 845.14h7.54v14.25h-7.54zM1170.43 845.14h2.74v14.25h-2.74zM1175.23 845.14h0.69v14.25h-0.69zM1185.51 845.14h1.37v14.25h-1.37zM1188.94 845.14h3.43v14.25h-3.43zM1194.42 845.14h0.69v14.25h-0.69zM1199.9 845.14h2.06v14.25h-2.06zM1249.95 845.14h2.06v14.25h-2.06zM1256.8 845.14h0.69v14.25h-0.69zM1259.54 845.14h4.11v14.25h-4.11zM1267.08 845.14h2.74v14.25h-2.74zM1270.51 845.14h4.11v14.25h-4.11zM1311.64 845.14h0.69v14.25h-0.69zM1318.5 845.14h2.06v14.25h-2.06zM1329.46 845.14h0.69v14.25h-0.69zM1331.52 845.14h2.06v14.25h-2.06zM1334.26 845.14h1.37v14.25h-1.37zM1340.43 845.14h0.69v14.25h-0.69zM1342.49 845.14h2.06v14.25h-2.06zM1374.02 845.14h0.69v14.25h-0.69zM1377.45 845.14h2.74v14.25h-2.74zM1391.84 845.14h0.69v14.25h-0.69zM1393.22 845.14h1.37v14.25h-1.37zM1398.01 845.14h0.69v14.25h-0.69zM1424.75 845.14h2.74v14.25h-2.74zM1430.23 845.14h0.69v14.25h-0.69zM1431.6 845.14h2.06v14.25h-2.06zM1435.03 845.14h1.37v14.25h-1.37zM1452.85 845.14h1.37v14.25h-1.37zM1466.56 845.14h2.74v14.25h-2.74zM803.69 930.65h0.69v14.25h-0.69zM807.11 930.65h0.69v14.25h-0.69zM821.51 930.65h2.06v14.25h-2.06zM835.9 930.65h0.69v14.25h-0.69zM860.58 930.65h2.74v14.25h-2.74zM865.38 930.65h0.69v14.25h-0.69zM883.2 930.65h1.37v14.25h-1.37zM894.17 930.65h0.69v14.25h-0.69zM916.11 930.65h2.74v14.25h-2.74zM942.84 930.65h0.69v14.25h-0.69z" fill="#ef6548"/>
<path d="M1234.18 617.1h0.69v14.25h-0.69zM985.34 845.14h1.37v14.25h-1.37zM1013.45 845.14h1.37v14.25h-1.37zM1031.27 845.14h0.69v14.25h-0.69zM1118.33 845.14h2.06v14.25h-2.06zM1146.44 845.14h1.37v14.25h-1.37zM1181.4 845.14h2.06v14.25h-2.06zM1258.17 845.14h0.69v14.25h-0.69zM1316.44 845.14h1.37v14.25h-1.37zM1447.37 845.14h1.37v14.25h-1.37z" fill="#990000"/>
<g stroke="#262626" fill="none">
<line x1="802.5" y1="588.6" x2="1489" y2="588.6" stroke-width="2.1"/>
<line x1="802.5" y1="944.9" x2="1489" y2="944.9" stroke-width="2.1"/>
<line x1="803" y1="588.6" x2="803" y2="944.9" stroke-width="1.1" stroke="#333"/>
<line x1="1488.5" y1="588.6" x2="1488.5" y2="944.9" stroke-width="1.1" stroke="#333"/>
<line x1="799.4" y1="595.73" x2="803" y2="595.73" stroke-width="2"/>
<line x1="799.4" y1="609.98" x2="803" y2="609.98" stroke-width="2"/>
<line x1="799.4" y1="624.23" x2="803" y2="624.23" stroke-width="2"/>
<line x1="799.4" y1="638.48" x2="803" y2="638.48" stroke-width="2"/>
<line x1="799.4" y1="652.73" x2="803" y2="652.73" stroke-width="2"/>
<line x1="799.4" y1="666.99" x2="803" y2="666.99" stroke-width="2"/>
<line x1="799.4" y1="681.24" x2="803" y2="681.24" stroke-width="2"/>
<line x1="799.4" y1="695.49" x2="803" y2="695.49" stroke-width="2"/>
<line x1="799.4" y1="709.74" x2="803" y2="709.74" stroke-width="2"/>
<line x1="799.4" y1="723.99" x2="803" y2="723.99" stroke-width="2"/>
<line x1="799.4" y1="738.25" x2="803" y2="738.25" stroke-width="2"/>
<line x1="799.4" y1="752.5" x2="803" y2="752.5" stroke-width="2"/>
<line x1="799.4" y1="766.75" x2="803" y2="766.75" stroke-width="2"/>
<line x1="799.4" y1="781" x2="803" y2="781" stroke-width="2"/>
<line x1="799.4" y1="795.25" x2="803" y2="795.25" stroke-width="2"/>
<line x1="799.4" y1="809.51" x2="803" y2="809.51" stroke-width="2"/>
<line x1="799.4" y1="823.76" x2="803" y2="823.76" stroke-width="2"/>
<line x1="799.4" y1="838.01" x2="803" y2="838.01" stroke-width="2"/>
<line x1="799.4" y1="852.26" x2="803" y2="852.26" stroke-width="2"/>
<line x1="799.4" y1="866.51" x2="803" y2="866.51" stroke-width="2"/>
<line x1="799.4" y1="880.77" x2="803" y2="880.77" stroke-width="2"/>
<line x1="799.4" y1="895.02" x2="803" y2="895.02" stroke-width="2"/>
<line x1="799.4" y1="909.27" x2="803" y2="909.27" stroke-width="2"/>
<line x1="799.4" y1="923.52" x2="803" y2="923.52" stroke-width="2"/>
<line x1="799.4" y1="937.77" x2="803" y2="937.77" stroke-width="2"/>
<line x1="803" y1="944.9" x2="803" y2="951.7" stroke-width="1.1" stroke="#333"/>
<line x1="940.1" y1="944.9" x2="940.1" y2="951.7" stroke-width="1.1" stroke="#333"/>
<line x1="1077.2" y1="944.9" x2="1077.2" y2="951.7" stroke-width="1.1" stroke="#333"/>
<line x1="1214.3" y1="944.9" x2="1214.3" y2="951.7" stroke-width="1.1" stroke="#333"/>
<line x1="1351.4" y1="944.9" x2="1351.4" y2="951.7" stroke-width="1.1" stroke="#333"/>
<line x1="1488.5" y1="944.9" x2="1488.5" y2="951.7" stroke-width="1.1" stroke="#333"/>
</g>
<g font-family="'DejaVu Sans',sans-serif" font-size="20.8" fill="#1a1a1a" stroke="#1a1a1a" stroke-width="0.45" class="ns">
<text transform="translate(803,973.8) scale(0.5,1)" text-anchor="middle">0</text>
<text transform="translate(940.1,973.8) scale(0.5,1)" text-anchor="middle">20</text>
<text transform="translate(1077.2,973.8) scale(0.5,1)" text-anchor="middle">40</text>
<text transform="translate(1214.3,973.8) scale(0.5,1)" text-anchor="middle">60</text>
<text transform="translate(1351.4,973.8) scale(0.5,1)" text-anchor="middle">80</text>
<text transform="translate(1488.5,973.8) scale(0.5,1)" text-anchor="middle">100</text>
<text transform="translate(1145.5,1003.5) scale(0.56,1)" text-anchor="middle" font-size="22.3">Time (nsec)</text>
</g>
<g font-family="'DejaVu Sans',sans-serif" font-size="10" fill="#222" stroke="#222" stroke-width="0.3" text-anchor="end">
<text transform="matrix(1.15,0.385,0.58,-0.6,787.6,593.53) scale(1,-1)">TYR_20</text>
<text transform="matrix(1.15,0.385,0.58,-0.6,787.6,608.2) scale(1,-1)">ILE_23</text>
<text transform="matrix(1.15,0.385,0.58,-0.6,787.6,622.87) scale(1,-1)">ARG_24</text>
<text transform="matrix(1.15,0.385,0.58,-0.6,787.6,637.54) scale(1,-1)">GLU_26</text>
<text transform="matrix(1.15,0.385,0.58,-0.6,787.6,652.21) scale(1,-1)">ALA_27</text>
<text transform="matrix(1.15,0.385,0.58,-0.6,787.6,666.89) scale(1,-1)">SER_28</text>
<text transform="matrix(1.15,0.385,0.58,-0.6,787.6,681.56) scale(1,-1)">ASP_29</text>
<text transform="matrix(1.15,0.385,0.58,-0.6,787.6,696.23) scale(1,-1)">PHE_30</text>
<text transform="matrix(1.15,0.385,0.58,-0.6,787.6,710.9) scale(1,-1)">PRO_31</text>
<text transform="matrix(1.15,0.385,0.58,-0.6,787.6,725.57) scale(1,-1)">CYS_32</text>
<text transform="matrix(1.15,0.385,0.58,-0.6,787.6,740.25) scale(1,-1)">LYS_36</text>
<text transform="matrix(1.15,0.385,0.58,-0.6,787.6,754.92) scale(1,-1)">TYR_46</text>
<text transform="matrix(1.15,0.385,0.58,-0.6,787.6,769.59) scale(1,-1)">ARG_47</text>
<text transform="matrix(1.15,0.385,0.58,-0.6,787.6,784.26) scale(1,-1)">ASP_48</text>
<text transform="matrix(1.15,0.385,0.58,-0.6,787.6,798.93) scale(1,-1)">VAL_49</text>
<text transform="matrix(1.15,0.385,0.58,-0.6,787.6,813.61) scale(1,-1)">PHE_182</text>
<text transform="matrix(1.15,0.385,0.58,-0.6,787.6,828.28) scale(1,-1)">ALA_217</text>
<text transform="matrix(1.15,0.385,0.58,-0.6,787.6,842.95) scale(1,-1)">ILE_219</text>
<text transform="matrix(1.15,0.385,0.58,-0.6,787.6,857.62) scale(1,-1)">ARG_254</text>
<text transform="matrix(1.15,0.385,0.58,-0.6,787.6,872.29) scale(1,-1)">ARG_257</text>
<text transform="matrix(1.15,0.385,0.58,-0.6,787.6,886.97) scale(1,-1)">MET_258</text>
<text transform="matrix(1.15,0.385,0.58,-0.6,787.6,901.64) scale(1,-1)">GLY_259</text>
<text transform="matrix(1.15,0.385,0.58,-0.6,787.6,916.31) scale(1,-1)">LEU_260</text>
<text transform="matrix(1.15,0.385,0.58,-0.6,787.6,930.98) scale(1,-1)">ILE_261</text>
<text transform="matrix(1.15,0.385,0.58,-0.6,787.6,945.65) scale(1,-1)">GLN_262</text>
</g>
<rect x="1498.2" y="454.8" width="9.5" height="99.42" fill="#990000"/>
<rect x="1498.2" y="553.92" width="9.5" height="99.42" fill="#ef6548"/>
<rect x="1498.2" y="653.04" width="9.5" height="99.42" fill="#fc8d59"/>
<rect x="1498.2" y="752.16" width="9.5" height="99.42" fill="#fdbb84"/>
<rect x="1498.2" y="454.8" width="9.5" height="495.6" fill="none" stroke="#2a1a1a" stroke-width="1.1"/>
<line x1="1497.7" y1="454.8" x2="1508.2" y2="454.8" stroke="#1a0a0a" stroke-width="2"/>
<line x1="1497.7" y1="950.4" x2="1508.2" y2="950.4" stroke="#1a1a1a" stroke-width="2"/>
<g font-family="'DejaVu Sans',sans-serif" font-size="20.8" fill="#1a1a1a" stroke="#1a1a1a" stroke-width="0.45" class="ns">
<text transform="translate(1512.3,514.96) scale(0.5,1)">≥4</text>
<text transform="translate(1512.3,614.08) scale(0.5,1)">3</text>
<text transform="translate(1512.3,713.2) scale(0.5,1)">2</text>
<text transform="translate(1512.3,812.32) scale(0.5,1)">1</text>
<text transform="translate(1512.3,911.44) scale(0.5,1)">0</text>
<text transform="translate(1520.6,703.9) scale(0.59,1) rotate(90)" text-anchor="middle" font-style="italic" font-size="16.2" stroke-width="0.4"># of contacts</text>
</g>
</g>
</svg>
</body></html>
